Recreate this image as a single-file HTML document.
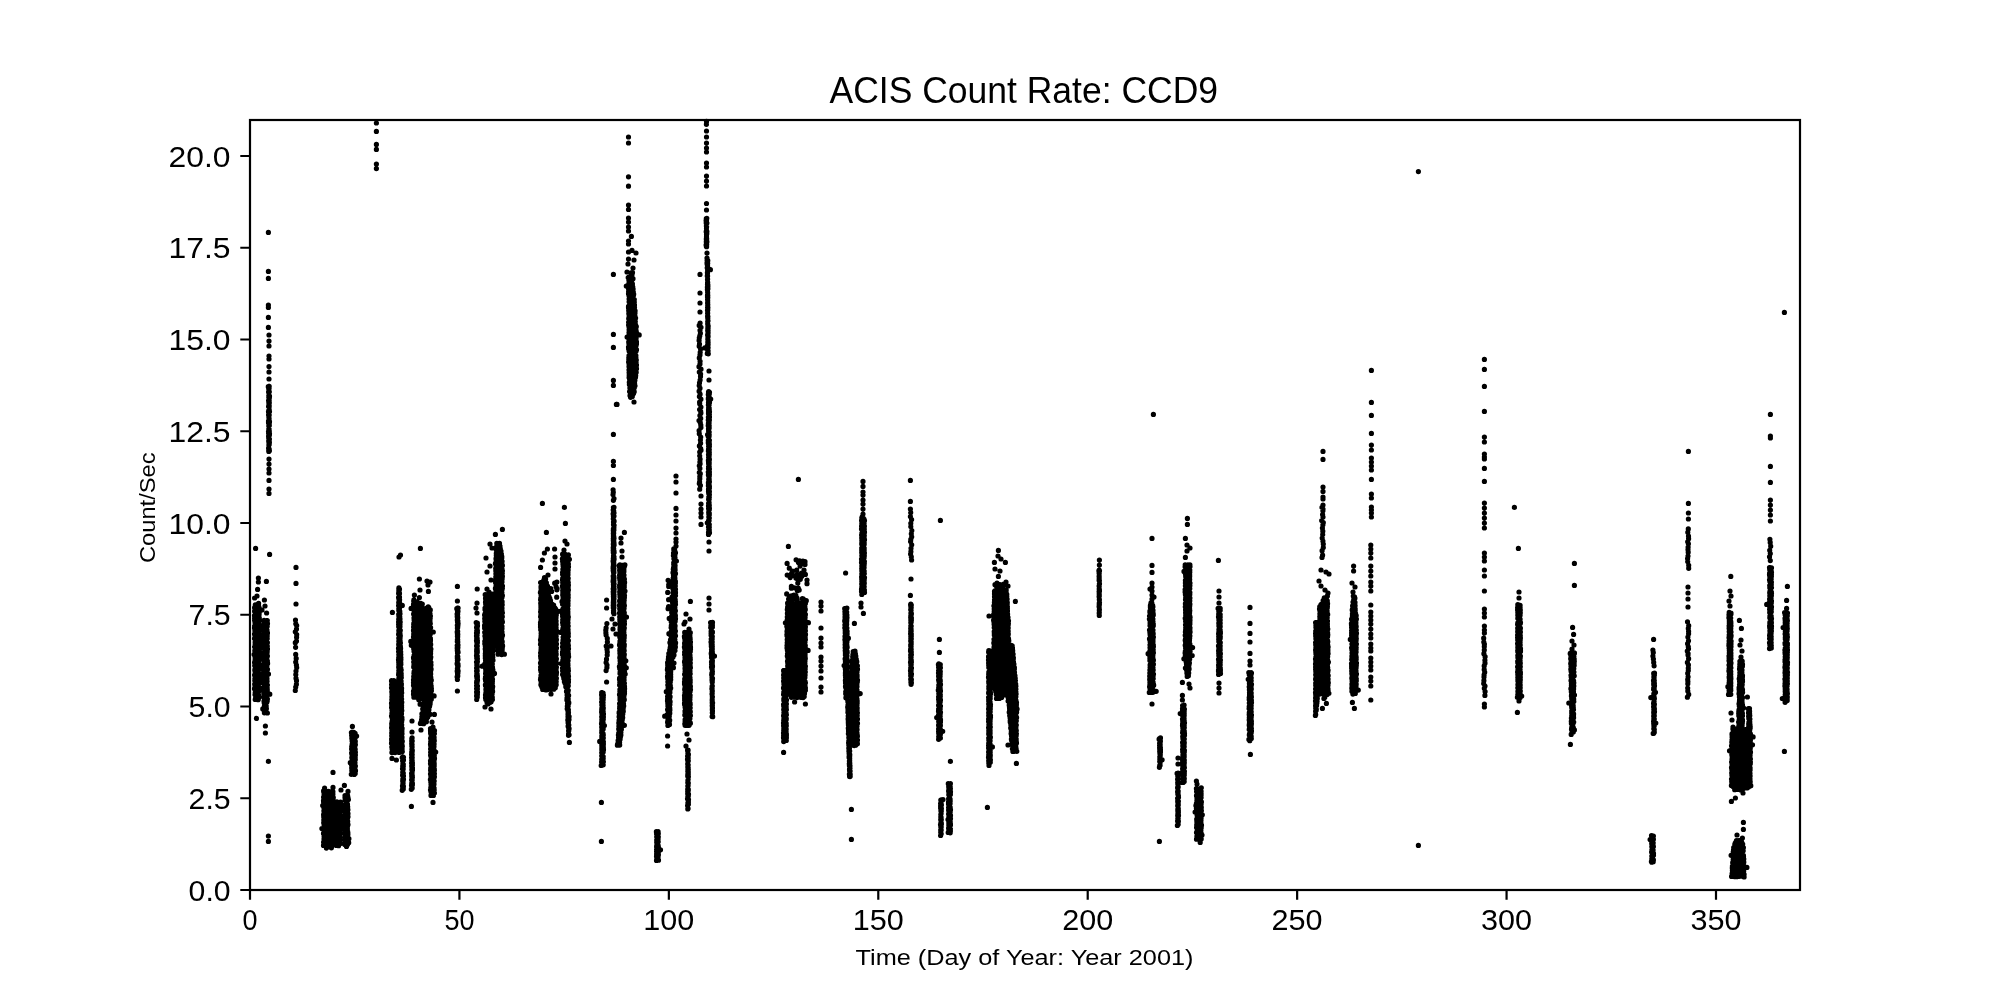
<!DOCTYPE html>
<html><head><meta charset="utf-8"><style>
html,body{margin:0;padding:0;background:#fff;}
svg{display:block;}
text{font-family:"Liberation Sans",sans-serif;fill:#000;}
svg{will-change:transform;}
</style></head><body>
<svg width="2000" height="1000" viewBox="0 0 2000 1000">
<rect width="2000" height="1000" fill="#fff"/>
<g fill="#000">
<path d="M255.3 607.4L254.8 608.1L254.3 612.2L254.3 616.2L254.3 620.3L254.3 624.4L254.3 628.5L254.3 632.6L254.3 636.7L254.3 640.8L254.3 644.8L254.3 648.9L254.3 653.0L254.3 657.1L254.3 661.2L254.3 665.2L254.3 669.3L254.3 673.4L254.3 677.5L254.3 681.6L254.3 685.7L254.3 689.8L254.7 693.8L255.0 697.9L255.3 698.6L258.7 698.6L259.0 697.9L259.3 693.8L259.7 689.8L259.7 685.7L259.7 681.6L259.7 677.5L259.7 673.4L259.7 669.3L259.7 665.2L259.7 661.2L259.7 657.1L259.7 653.0L259.7 648.9L259.7 644.8L259.7 640.8L259.7 636.7L259.7 632.6L259.7 628.5L259.7 624.4L259.7 620.3L259.7 616.2L259.7 612.2L259.2 608.1L258.7 607.4Z M263.3 621.4L263.3 622.0L263.3 626.0L263.3 630.0L263.3 634.0L263.3 638.0L263.3 642.0L263.3 646.0L263.3 650.0L263.3 654.0L263.3 658.0L263.3 662.0L263.3 666.0L263.3 670.0L263.3 674.0L263.3 678.0L263.3 682.0L263.3 686.0L263.3 690.0L263.3 694.0L263.3 698.0L263.5 702.0L263.8 706.0L264.1 710.0L264.3 710.6L265.7 710.6L266.2 710.0L266.8 706.0L267.4 702.0L267.7 698.0L267.7 694.0L267.7 690.0L267.7 686.0L267.7 682.0L267.7 678.0L267.7 674.0L267.7 670.0L267.7 666.0L267.7 662.0L267.7 658.0L267.7 654.0L267.7 650.0L267.7 646.0L267.7 642.0L267.7 638.0L267.7 634.0L267.7 630.0L267.7 626.0L267.7 622.0L267.7 621.4Z M268.3 387.4L268.3 388.1L268.3 392.2L268.3 396.4L268.3 400.5L268.3 404.6L268.3 408.7L268.3 412.8L268.3 416.9L268.3 421.1L268.3 425.2L268.3 429.3L268.3 433.4L268.3 437.5L268.3 441.6L268.3 445.8L268.3 449.9L268.3 450.6L269.7 450.6L269.7 449.9L269.7 445.8L269.7 441.6L269.7 437.5L269.7 433.4L269.7 429.3L269.7 425.2L269.7 421.1L269.7 416.9L269.7 412.8L269.7 408.7L269.7 404.6L269.7 400.5L269.7 396.4L269.7 392.2L269.7 388.1L269.7 387.4Z M323.3 792.4L323.3 793.2L323.3 797.4L323.3 801.6L323.3 805.9L323.3 810.1L323.3 814.3L323.3 818.5L323.3 822.7L323.3 826.9L323.3 831.1L323.3 835.4L323.3 839.6L323.3 843.8L325.3 844.6L331.7 844.6L333.7 843.8L333.7 839.6L333.7 835.4L333.7 831.1L333.7 826.9L333.7 822.7L333.7 818.5L333.7 814.3L333.7 810.1L333.7 805.9L333.7 801.6L333.7 797.4L333.7 793.2L333.7 792.4Z M344.3 796.4L344.3 797.2L344.3 801.3L344.3 805.5L344.3 809.6L344.3 813.8L344.3 817.9L344.3 822.1L344.3 826.2L344.3 830.4L344.3 834.5L344.3 838.7L344.3 842.8L346.3 843.6L346.7 843.6L348.2 842.8L348.2 838.7L348.2 834.5L348.2 830.4L348.2 826.2L348.2 822.1L348.2 817.9L348.2 813.8L348.2 809.6L348.2 805.5L348.2 801.3L348.2 797.2L348.2 796.4Z M336.3 803.4L336.3 804.0L336.3 808.0L336.3 812.0L336.3 816.0L336.3 820.0L336.3 824.0L336.3 828.0L336.3 832.0L336.3 836.0L336.3 840.0L336.3 844.0L336.3 844.6L340.7 844.6L340.7 844.0L340.7 840.0L340.7 836.0L340.7 832.0L340.7 828.0L340.7 824.0L340.7 820.0L340.7 816.0L340.7 812.0L340.7 808.0L340.7 804.0L340.7 803.4Z M351.3 733.4L351.3 734.3L351.3 738.5L351.3 742.8L351.3 747.1L351.3 751.4L351.3 755.6L351.3 759.9L351.3 764.2L351.3 768.5L351.3 772.7L351.3 773.6L355.7 773.6L355.7 772.7L355.7 768.5L355.7 764.2L355.7 759.9L355.7 755.6L355.7 751.4L355.7 747.1L355.7 742.8L355.7 738.5L355.7 734.3L355.7 733.4Z M398.3 589.4L398.3 590.0L398.3 594.0L398.3 598.1L398.3 602.1L398.3 606.1L398.3 610.1L398.3 614.2L398.3 618.2L398.3 622.2L398.3 626.2L398.3 630.3L398.3 634.3L398.3 638.3L398.3 642.3L398.3 646.4L398.3 650.4L398.3 654.4L398.3 658.4L398.3 662.5L398.3 666.5L398.3 670.5L398.3 674.5L398.3 678.5L398.4 682.6L398.4 686.6L398.5 690.6L398.5 694.6L398.6 698.7L398.6 702.7L398.7 706.7L398.7 710.7L398.8 714.8L398.9 718.8L398.9 722.8L399.0 726.8L399.0 730.9L399.1 734.9L399.1 738.9L399.2 742.9L399.2 747.0L399.3 751.0L399.3 751.6L402.7 751.6L402.6 751.0L402.6 747.0L402.5 742.9L402.4 738.9L402.4 734.9L402.3 730.9L402.3 726.8L402.2 722.8L402.2 718.8L402.1 714.8L402.1 710.7L402.0 706.7L402.0 702.7L401.9 698.7L401.9 694.6L401.8 690.6L401.7 686.6L401.7 682.6L401.6 678.5L401.5 674.5L401.4 670.5L401.3 666.5L401.2 662.5L401.1 658.4L401.0 654.4L400.9 650.4L400.8 646.4L400.7 642.3L400.6 638.3L400.6 634.3L400.5 630.3L400.4 626.2L400.3 622.2L400.3 618.2L400.2 614.2L400.1 610.1L400.0 606.1L400.0 602.1L399.9 598.1L399.8 594.0L399.7 590.0L399.7 589.4Z M391.3 681.4L391.3 682.1L391.3 686.1L391.3 690.2L391.3 694.2L391.3 698.3L391.3 702.3L391.3 706.4L391.3 710.4L391.3 714.5L391.3 718.5L391.3 722.6L391.3 726.6L391.3 730.7L391.3 734.7L391.3 738.8L391.3 742.8L391.3 746.9L391.3 750.9L391.3 751.6L395.7 751.6L395.7 750.9L395.7 746.9L395.7 742.8L395.7 738.8L395.7 734.7L395.7 730.7L395.7 726.6L395.7 722.6L395.7 718.5L395.7 714.5L395.7 710.4L395.7 706.4L395.7 702.3L395.6 698.3L395.4 694.2L395.2 690.2L395.0 686.1L394.8 682.1L394.7 681.4Z M402.3 758.4L402.3 759.2L402.3 763.4L402.3 767.7L402.3 771.9L402.3 776.1L402.3 780.3L402.3 784.6L402.3 788.8L402.3 789.6L403.7 789.6L403.7 788.8L403.7 784.6L403.7 780.3L403.7 776.1L403.7 771.9L403.7 767.7L403.7 763.4L403.7 759.2L403.7 758.4Z M411.3 739.4L411.3 740.0L411.3 744.0L411.3 748.0L411.3 752.0L411.3 756.0L411.3 760.0L411.3 764.0L411.3 768.0L411.3 772.0L411.3 776.0L411.3 780.0L411.3 784.0L411.3 788.0L411.3 788.6L412.7 788.6L412.7 788.0L412.7 784.0L412.7 780.0L412.7 776.0L412.7 772.0L412.7 768.0L412.7 764.0L412.7 760.0L412.7 756.0L412.7 752.0L412.7 748.0L412.7 744.0L412.7 740.0L412.7 739.4Z M413.3 605.4L413.3 606.1L413.3 610.2L413.3 614.2L413.3 618.3L413.3 622.4L413.3 626.5L413.3 630.6L413.3 634.7L413.3 638.8L413.3 642.8L413.3 646.9L413.3 651.0L413.3 655.1L413.3 659.2L413.3 663.2L413.3 667.3L413.3 671.4L413.3 675.5L413.3 679.6L413.3 683.7L413.3 687.8L413.3 691.8L413.3 695.9L413.3 696.6L422.7 696.6L422.7 695.9L422.7 691.8L422.7 687.8L422.7 683.7L422.7 679.6L422.7 675.5L422.7 671.4L422.7 667.3L422.7 663.2L422.7 659.2L422.7 655.1L422.7 651.0L422.7 646.9L422.7 642.8L422.7 638.8L422.7 634.7L422.7 630.6L422.7 626.5L422.7 622.4L422.7 618.3L422.7 614.2L422.7 610.2L422.7 606.1L422.7 605.4Z M423.3 611.4L423.3 612.1L423.3 616.1L423.3 620.2L423.3 624.3L423.3 628.3L423.3 632.4L423.3 636.5L423.3 640.6L423.3 644.6L423.3 648.7L423.3 652.8L423.3 656.8L423.3 660.9L423.3 665.0L423.3 669.0L423.3 673.1L423.3 677.2L423.3 681.2L423.3 685.3L423.3 689.4L423.3 693.4L423.3 697.5L423.2 701.6L422.7 705.7L422.2 709.7L421.7 713.8L421.3 717.9L420.8 721.9L420.3 722.6L425.7 722.6L426.6 721.9L427.5 717.9L428.5 713.8L429.4 709.7L430.4 705.7L431.3 701.6L431.6 697.5L431.6 693.4L431.5 689.4L431.5 685.3L431.5 681.2L431.4 677.2L431.4 673.1L431.3 669.0L431.3 665.0L431.2 660.9L431.2 656.8L431.1 652.8L431.1 648.7L431.1 644.6L431.0 640.6L431.0 636.5L430.9 632.4L430.9 628.3L430.8 624.3L430.8 620.2L430.7 616.1L430.7 612.1L430.7 611.4Z M430.3 731.4L430.3 732.1L430.3 736.2L430.3 740.4L430.3 744.5L430.3 748.6L430.3 752.7L430.3 756.8L430.3 760.9L430.3 765.1L430.3 769.2L430.3 773.3L430.3 777.4L430.3 781.5L430.3 785.6L430.3 789.8L430.3 793.9L430.3 794.6L434.7 794.6L434.7 793.9L434.7 789.8L434.7 785.6L434.7 781.5L434.7 777.4L434.7 773.3L434.7 769.2L434.7 765.1L434.7 760.9L434.7 756.8L434.7 752.7L434.7 748.6L434.7 744.5L434.7 740.4L434.7 736.2L434.7 732.1L434.7 731.4Z M456.9 609.4L456.9 610.0L456.9 614.0L456.9 618.0L456.9 622.0L456.9 626.0L456.9 630.0L456.9 634.0L456.9 638.0L456.9 642.0L456.9 646.0L456.9 650.0L456.9 654.0L456.9 658.0L456.9 662.0L456.9 666.0L456.9 670.0L456.9 674.0L456.9 678.0L456.9 678.6L458.3 678.6L458.3 678.0L458.3 674.0L458.3 670.0L458.3 666.0L458.3 662.0L458.3 658.0L458.3 654.0L458.3 650.0L458.3 646.0L458.3 642.0L458.3 638.0L458.3 634.0L458.3 630.0L458.3 626.0L458.3 622.0L458.3 618.0L458.3 614.0L458.3 610.0L458.3 609.4Z M476.3 623.4L476.3 624.1L476.3 628.2L476.3 632.3L476.3 636.4L476.3 640.5L476.3 644.6L476.3 648.7L476.3 652.8L476.3 656.9L476.3 661.0L476.3 665.1L476.3 669.2L476.3 673.3L476.3 677.4L476.3 681.5L476.3 685.6L476.3 689.7L476.3 693.8L476.3 697.9L476.3 698.6L477.7 698.6L477.7 697.9L477.7 693.8L477.7 689.7L477.7 685.6L477.7 681.5L477.7 677.4L477.7 673.3L477.7 669.2L477.7 665.1L477.7 661.0L477.7 656.9L477.7 652.8L477.7 648.7L477.7 644.6L477.7 640.5L477.7 636.4L477.7 632.3L477.7 628.2L477.7 624.1L477.7 623.4Z M496.3 544.4L496.1 545.0L495.9 549.0L495.7 553.0L495.5 557.0L495.3 561.0L495.3 565.0L495.3 569.0L495.3 573.0L495.3 577.0L495.3 581.0L495.3 585.0L495.3 589.0L495.3 593.0L495.3 597.0L495.3 601.0L495.3 605.0L495.3 609.0L495.3 613.0L495.3 617.0L495.3 621.0L495.3 625.0L495.3 629.0L495.3 633.0L495.3 637.0L495.5 641.0L496.2 645.0L496.9 649.0L497.6 653.0L498.3 653.6L502.7 653.6L502.7 653.0L502.7 649.0L502.7 645.0L502.7 641.0L502.7 637.0L502.7 633.0L502.7 629.0L502.7 625.0L502.7 621.0L502.7 617.0L502.7 613.0L502.7 609.0L502.7 605.0L502.7 601.0L502.7 597.0L502.7 593.0L502.7 589.0L502.7 585.0L502.7 581.0L502.7 577.0L502.7 573.0L502.7 569.0L502.7 565.0L502.7 561.0L502.2 557.0L501.6 553.0L500.9 549.0L500.3 545.0L499.7 544.4Z M485.3 595.4L485.2 596.0L485.1 600.1L484.9 604.1L484.8 608.1L484.6 612.2L484.5 616.2L484.3 620.2L484.4 624.3L484.4 628.3L484.5 632.4L484.5 636.4L484.6 640.4L484.6 644.5L484.7 648.5L484.7 652.5L484.8 656.6L484.8 660.6L484.9 664.6L484.9 668.7L485.0 672.7L485.0 676.8L485.1 680.8L485.2 684.8L485.2 688.9L485.3 692.9L485.3 696.9L485.9 701.0L488.3 701.6L489.7 701.6L492.1 701.0L492.7 696.9L492.7 692.9L492.8 688.9L492.8 684.8L492.9 680.8L493.0 676.8L493.0 672.7L493.1 668.7L493.1 664.6L493.2 660.6L493.2 656.6L493.3 652.5L493.3 648.5L493.4 644.5L493.4 640.4L493.5 636.4L493.5 632.4L493.6 628.3L493.6 624.3L493.7 620.2L493.5 616.2L493.4 612.2L493.2 608.1L493.1 604.1L492.9 600.1L492.8 596.0L492.7 595.4Z M540.3 583.4L540.3 584.0L540.3 588.0L540.3 592.0L540.3 596.0L540.3 600.0L540.3 604.0L540.3 608.0L540.3 612.0L540.3 616.0L540.3 620.0L540.3 624.0L540.3 628.0L540.3 632.0L540.3 636.0L540.3 640.0L540.3 644.0L540.3 648.0L540.3 652.0L540.3 656.0L540.3 660.0L540.3 664.0L540.3 668.0L540.3 672.0L540.3 676.0L540.3 680.0L540.3 684.0L541.6 688.0L543.3 688.6L553.7 688.6L555.4 688.0L556.7 684.0L556.7 680.0L556.7 676.0L556.7 672.0L556.7 668.0L556.7 664.0L556.7 660.0L556.7 656.0L556.7 652.0L556.7 648.0L556.7 644.0L556.7 640.0L556.7 636.0L556.7 632.0L556.7 628.0L556.7 624.0L556.7 620.0L556.7 616.0L556.7 612.0L555.5 608.0L553.1 604.0L550.7 600.0L549.9 596.0L549.1 592.0L548.3 588.0L547.5 584.0L546.7 583.4Z M562.3 559.4L562.3 560.0L562.3 564.1L562.3 568.1L562.3 572.2L562.3 576.2L562.3 580.3L562.3 584.3L562.3 588.4L562.3 592.4L562.3 596.4L562.3 600.5L562.3 604.5L562.3 608.6L562.3 612.6L562.3 616.7L562.3 620.7L562.3 624.8L562.3 628.8L562.3 632.8L562.3 636.9L562.3 640.9L562.3 645.0L562.3 649.0L562.3 653.1L562.3 657.1L562.3 661.2L562.3 665.2L562.3 669.2L562.3 673.3L563.0 677.3L564.0 681.4L565.1 685.4L566.2 689.5L566.5 693.5L566.7 697.6L566.8 701.6L567.0 705.6L567.2 709.7L567.3 713.7L567.5 717.8L567.7 721.8L567.8 725.9L568.0 729.9L568.2 734.0L568.3 734.6L569.7 734.6L569.6 734.0L569.5 729.9L569.4 725.9L569.3 721.8L569.2 717.8L569.2 713.7L569.1 709.7L569.0 705.6L568.9 701.6L568.8 697.6L568.7 693.5L568.7 689.5L568.7 685.4L568.7 681.4L568.7 677.3L568.7 673.3L568.7 669.2L568.7 665.2L568.7 661.2L568.7 657.1L568.7 653.1L568.7 649.0L568.7 645.0L568.7 640.9L568.7 636.9L568.7 632.8L568.7 628.8L568.7 624.8L568.7 620.7L568.7 616.7L568.7 612.6L568.7 608.6L568.7 604.5L568.7 600.5L568.7 596.4L568.7 592.4L568.7 588.4L568.7 584.3L568.7 580.3L568.7 576.2L568.7 572.2L568.7 568.1L568.7 564.1L568.7 560.0L568.7 559.4Z M612.9 508.4L612.9 509.1L612.9 513.1L612.9 517.2L612.9 521.3L612.9 525.4L612.9 529.4L612.9 533.5L612.9 537.6L612.9 541.7L612.9 545.7L612.9 549.8L612.9 553.9L612.9 558.0L612.9 562.0L612.9 566.1L612.9 570.2L612.9 574.3L612.9 578.3L612.9 582.4L612.9 586.5L612.9 590.6L612.9 594.6L612.9 598.7L612.9 602.8L612.9 606.9L612.9 610.9L612.9 611.6L614.3 611.6L614.3 610.9L614.3 606.9L614.3 602.8L614.3 598.7L614.3 594.6L614.3 590.6L614.3 586.5L614.3 582.4L614.3 578.3L614.3 574.3L614.3 570.2L614.3 566.1L614.3 562.0L614.3 558.0L614.3 553.9L614.3 549.8L614.3 545.7L614.3 541.7L614.3 537.6L614.3 533.5L614.3 529.4L614.3 525.4L614.3 521.3L614.3 517.2L614.3 513.1L614.3 509.1L614.3 508.4Z M601.3 693.4L601.3 694.1L601.3 698.2L601.3 702.3L601.3 706.4L601.3 710.5L601.3 714.6L601.3 718.7L601.3 722.8L601.3 726.9L601.3 731.1L601.3 735.2L601.3 739.3L601.3 743.4L601.3 747.5L601.3 751.6L601.3 755.7L601.3 759.8L601.3 763.9L601.3 764.6L603.7 764.6L603.7 763.9L603.7 759.8L603.7 755.7L603.7 751.6L603.7 747.5L603.7 743.4L603.7 739.3L603.7 735.2L603.7 731.1L603.7 726.9L603.7 722.8L603.7 718.7L603.7 714.6L603.7 710.5L603.7 706.4L603.7 702.3L603.7 698.2L603.7 694.1L603.7 693.4Z M619.3 566.4L619.3 567.0L619.3 571.0L619.3 575.1L619.3 579.1L619.3 583.1L619.3 587.1L619.3 591.2L619.3 595.2L619.3 599.2L619.3 603.2L619.3 607.2L619.3 611.3L619.3 615.3L619.3 619.3L619.3 623.3L619.3 627.3L619.3 631.4L619.3 635.4L619.3 639.4L619.3 643.4L619.3 647.5L619.3 651.5L619.3 655.5L619.3 659.5L619.3 663.5L619.3 667.6L619.3 671.6L619.3 675.6L619.3 679.6L619.3 683.7L619.3 687.7L619.3 691.7L619.3 695.7L619.3 699.7L619.2 703.8L619.0 707.8L618.8 711.8L618.7 715.8L618.5 719.8L618.3 723.9L618.2 727.9L618.0 731.9L617.8 735.9L617.7 740.0L617.5 744.0L617.3 744.6L619.7 744.6L620.1 744.0L620.5 740.0L620.9 735.9L621.3 731.9L621.8 727.9L622.2 723.9L622.6 719.8L623.0 715.8L623.4 711.8L623.8 707.8L624.3 703.8L624.7 699.7L624.7 695.7L624.7 691.7L624.7 687.7L624.7 683.7L624.7 679.6L624.7 675.6L624.7 671.6L624.7 667.6L624.7 663.5L624.7 659.5L624.7 655.5L624.7 651.5L624.7 647.5L624.7 643.4L624.7 639.4L624.7 635.4L624.7 631.4L624.7 627.3L624.7 623.3L624.7 619.3L624.7 615.3L624.7 611.3L624.7 607.2L624.7 603.2L624.7 599.2L624.7 595.2L624.7 591.2L624.7 587.1L624.7 583.1L624.7 579.1L624.7 575.1L624.7 571.0L624.7 567.0L624.7 566.4Z M628.3 278.4L628.3 279.0L628.3 283.1L628.3 287.1L628.3 291.1L628.3 295.2L628.3 299.2L628.3 303.2L628.3 307.3L628.3 311.3L628.3 315.3L628.3 319.4L628.3 323.4L628.3 327.4L628.3 331.5L628.3 335.5L628.3 339.5L628.3 343.5L628.3 347.6L628.3 351.6L628.3 355.6L628.3 359.7L628.3 363.7L628.3 367.7L628.4 371.8L628.6 375.8L628.8 379.8L629.0 383.9L629.2 387.9L629.5 391.9L629.9 396.0L630.3 396.6L631.7 396.6L632.9 396.0L634.1 391.9L634.9 387.9L635.3 383.9L635.7 379.8L636.1 375.8L636.5 371.8L636.7 367.7L636.7 363.7L636.7 359.7L636.7 355.6L636.7 351.6L636.7 347.6L636.7 343.5L636.7 339.5L636.7 335.5L636.7 331.5L636.5 327.4L636.2 323.4L636.0 319.4L635.7 315.3L635.4 311.3L635.1 307.3L634.9 303.2L634.6 299.2L634.1 295.2L633.6 291.1L633.1 287.1L632.6 283.1L632.1 279.0L631.7 278.4Z M656.3 832.4L656.3 833.2L656.3 837.5L656.3 841.8L656.3 846.0L656.3 850.2L656.3 854.5L656.3 858.8L656.3 859.6L658.7 859.6L658.7 858.8L658.7 854.5L658.7 850.2L658.7 846.0L658.7 841.8L658.7 837.5L658.7 833.2L658.7 832.4Z M673.3 553.4L673.3 554.0L673.2 558.1L673.1 562.1L673.0 566.2L672.9 570.2L672.9 574.3L672.8 578.3L672.7 582.4L672.6 586.4L672.5 590.5L672.5 594.5L672.4 598.5L672.2 602.6L671.9 606.6L671.7 610.7L671.5 614.7L671.2 618.8L671.0 622.8L670.7 626.9L670.5 630.9L670.2 635.0L670.0 639.0L669.8 643.0L669.5 647.1L669.1 651.1L668.3 655.2L667.5 659.2L667.3 663.3L667.3 667.3L667.3 671.4L667.3 675.4L667.3 679.5L667.3 683.5L667.3 687.5L667.3 691.6L667.3 695.6L667.3 699.7L667.3 703.7L667.3 707.8L667.3 711.8L667.3 715.9L667.3 719.9L667.3 724.0L667.3 724.6L669.7 724.6L669.8 724.0L669.9 719.9L670.0 715.9L670.1 711.8L670.3 707.8L670.4 703.7L670.5 699.7L670.6 695.6L670.7 691.6L670.8 687.5L671.0 683.5L671.1 679.5L671.2 675.4L671.3 671.4L671.4 667.3L671.6 663.3L672.0 659.2L673.6 655.2L675.2 651.1L675.7 647.1L675.7 643.0L675.7 639.0L675.7 635.0L675.7 630.9L675.7 626.9L675.7 622.8L675.7 618.8L675.7 614.7L675.7 610.7L675.7 606.6L675.7 602.6L675.7 598.5L675.7 594.5L675.7 590.5L675.7 586.4L675.7 582.4L675.7 578.3L675.7 574.3L675.7 570.2L675.7 566.2L675.7 562.1L675.7 558.1L675.7 554.0L675.7 553.4Z M684.3 633.4L684.3 634.1L684.3 638.2L684.3 642.2L684.3 646.3L684.3 650.4L684.3 654.5L684.3 658.6L684.3 662.7L684.3 666.8L684.3 670.8L684.3 674.9L684.3 679.0L684.3 683.1L684.3 687.2L684.3 691.2L684.3 695.3L684.3 699.4L684.3 703.5L684.3 707.6L684.3 711.7L684.3 715.8L684.3 719.8L684.3 723.9L684.3 724.6L690.7 724.6L690.7 723.9L690.7 719.8L690.7 715.8L690.7 711.7L690.7 707.6L690.7 703.5L690.7 699.4L690.7 695.3L690.7 691.2L690.7 687.2L690.7 683.1L690.7 679.0L690.7 674.9L690.7 670.8L690.7 666.8L690.7 662.7L690.7 658.6L690.7 654.5L690.7 650.4L690.7 646.3L690.7 642.2L690.7 638.2L690.7 634.1L690.7 633.4Z M687.3 751.4L687.3 752.2L687.3 756.4L687.3 760.6L687.3 764.8L687.3 769.0L687.3 773.2L687.3 777.4L687.3 781.6L687.3 785.8L687.3 790.0L687.3 794.2L687.3 798.4L687.3 802.6L687.3 806.8L687.3 807.6L688.7 807.6L688.7 806.8L688.7 802.6L688.7 798.4L688.7 794.2L688.7 790.0L688.7 785.8L688.7 781.6L688.7 777.4L688.7 773.2L688.7 769.0L688.7 764.8L688.7 760.6L688.7 756.4L688.7 752.2L688.7 751.4Z M706.3 219.4L706.3 220.2L706.3 224.5L706.3 228.8L706.3 233.0L706.3 237.2L706.3 241.5L706.3 245.8L706.3 246.6L706.7 246.6L706.7 245.8L706.7 241.5L706.7 237.2L706.7 233.0L706.7 228.8L706.7 224.5L706.7 220.2L706.7 219.4Z M707.3 261.4L707.3 262.1L707.3 266.2L707.3 270.2L707.3 274.3L707.3 278.4L707.3 282.5L707.3 286.6L707.3 290.7L707.3 294.8L707.3 298.8L707.3 302.9L707.3 307.0L707.3 311.1L707.3 315.2L707.3 319.2L707.3 323.3L707.3 327.4L707.3 331.5L707.3 335.6L707.3 339.7L707.3 343.8L707.3 347.8L707.3 351.9L707.3 352.6L708.7 352.6L708.6 351.9L708.6 347.8L708.5 343.8L708.5 339.7L708.5 335.6L708.4 331.5L708.4 327.4L708.3 323.3L708.3 319.2L708.2 315.2L708.2 311.1L708.2 307.0L708.1 302.9L708.1 298.8L708.0 294.8L708.0 290.7L708.0 286.6L707.9 282.5L707.9 278.4L707.8 274.3L707.8 270.2L707.7 266.2L707.7 262.1L707.7 261.4Z M707.9 392.4L708.0 393.0L708.0 397.0L708.0 401.0L708.0 405.0L708.0 409.0L708.0 413.0L708.0 417.0L708.0 421.0L708.0 425.0L708.0 429.0L708.1 433.0L708.1 437.0L708.1 441.0L708.1 445.0L708.1 449.0L708.1 453.0L708.1 457.0L708.1 461.0L708.1 465.0L708.2 469.0L708.2 473.0L708.2 477.0L708.2 481.0L708.2 485.0L708.2 489.0L708.2 493.0L708.2 497.0L708.2 501.0L708.3 505.0L708.3 509.0L708.3 513.0L708.3 517.0L708.3 521.0L708.3 525.0L708.3 529.0L708.3 533.0L708.3 533.6L709.7 533.6L709.7 533.0L709.7 529.0L709.7 525.0L709.7 521.0L709.7 517.0L709.7 513.0L709.7 509.0L709.7 505.0L709.7 501.0L709.7 497.0L709.7 493.0L709.7 489.0L709.7 485.0L709.7 481.0L709.7 477.0L709.7 473.0L709.7 469.0L709.7 465.0L709.7 461.0L709.7 457.0L709.7 453.0L709.7 449.0L709.7 445.0L709.7 441.0L709.7 437.0L709.7 433.0L709.7 429.0L709.7 425.0L709.7 421.0L709.7 417.0L709.7 413.0L709.7 409.0L709.7 405.0L709.7 401.0L709.7 397.0L709.7 393.0L709.7 392.4Z M710.3 623.4L710.4 624.0L710.5 628.0L710.6 632.0L710.7 636.0L710.7 640.0L710.8 644.0L710.9 648.0L711.0 652.0L711.1 656.0L711.1 660.0L711.2 664.0L711.3 668.0L711.4 672.0L711.5 676.0L711.5 680.0L711.6 684.0L711.7 688.0L711.8 692.0L711.9 696.0L711.9 700.0L712.0 704.0L712.1 708.0L712.2 712.0L712.3 716.0L712.3 716.6L712.7 716.6L712.7 716.0L712.7 712.0L712.7 708.0L712.7 704.0L712.7 700.0L712.7 696.0L712.7 692.0L712.7 688.0L712.7 684.0L712.7 680.0L712.7 676.0L712.7 672.0L712.7 668.0L712.7 664.0L712.7 660.0L712.7 656.0L712.7 652.0L712.7 648.0L712.7 644.0L712.7 640.0L712.7 636.0L712.7 632.0L712.7 628.0L712.7 624.0L712.7 623.4Z M787.3 604.4L787.2 605.1L787.1 609.2L787.0 613.4L786.9 617.5L786.8 621.6L786.7 625.8L786.6 629.9L786.5 634.0L786.4 638.1L786.4 642.2L786.6 646.4L786.8 650.5L786.9 654.6L787.1 658.8L787.2 662.9L787.4 667.0L787.6 671.1L787.7 675.2L787.9 679.4L788.0 683.5L788.2 687.6L788.7 691.8L790.5 695.9L792.3 696.6L803.7 696.6L804.6 695.9L805.5 691.8L805.7 687.6L805.7 683.5L805.7 679.4L805.7 675.2L805.7 671.1L805.7 667.0L805.7 662.9L805.7 658.8L805.7 654.6L805.7 650.5L805.7 646.4L805.7 642.2L805.7 638.1L805.7 634.0L805.7 629.9L805.7 625.8L805.7 621.6L805.7 617.5L805.7 613.4L805.7 609.2L805.7 605.1L805.7 604.4Z M783.3 671.4L783.3 672.0L783.3 676.0L783.3 680.0L783.3 684.0L783.3 688.0L783.3 692.0L783.3 696.0L783.3 700.0L783.3 704.0L783.3 708.0L783.3 712.0L783.3 716.0L783.3 720.0L783.3 724.0L783.3 728.0L783.3 732.0L783.3 736.0L783.3 740.0L783.3 740.6L786.7 740.6L786.7 740.0L786.7 736.0L786.7 732.0L786.7 728.0L786.7 724.0L786.7 720.0L786.7 716.0L786.7 712.0L786.7 708.0L786.7 704.0L786.7 700.0L786.7 696.0L786.7 692.0L786.7 688.0L786.7 684.0L786.7 680.0L786.7 676.0L786.7 672.0L786.7 671.4Z M844.3 609.4L844.4 610.0L844.4 614.0L844.5 618.1L844.5 622.1L844.6 626.1L844.6 630.1L844.6 634.2L844.7 638.2L844.7 642.2L844.8 646.2L844.8 650.3L844.9 654.3L844.9 658.3L845.0 662.3L845.0 666.3L845.0 670.4L845.1 674.4L845.1 678.4L845.2 682.4L845.2 686.5L845.3 690.5L845.3 694.5L846.4 698.5L847.4 702.6L847.5 706.6L847.6 710.6L847.7 714.6L847.8 718.7L847.9 722.7L848.0 726.7L848.1 730.7L848.2 734.7L848.3 738.8L848.4 742.8L848.5 746.8L848.6 750.8L848.7 754.9L848.8 758.9L848.9 762.9L849.0 766.9L849.1 771.0L849.2 775.0L849.3 775.6L850.7 775.6L850.6 775.0L850.5 771.0L850.4 766.9L850.3 762.9L850.2 758.9L850.0 754.9L849.9 750.8L849.8 746.8L849.7 742.8L849.6 738.8L849.5 734.7L849.4 730.7L849.3 726.7L849.2 722.7L849.1 718.7L849.0 714.6L848.9 710.6L848.8 706.6L848.7 702.6L848.2 698.5L847.6 694.5L847.6 690.5L847.6 686.5L847.6 682.4L847.6 678.4L847.5 674.4L847.5 670.4L847.5 666.3L847.5 662.3L847.4 658.3L847.4 654.3L847.4 650.3L847.4 646.2L847.4 642.2L847.3 638.2L847.3 634.2L847.3 630.1L847.3 626.1L847.2 622.1L847.2 618.1L847.2 614.0L847.2 610.0L847.2 609.4Z M853.3 652.4L852.8 653.1L852.3 657.2L851.8 661.4L851.3 665.5L851.3 669.6L851.3 673.8L851.3 677.9L851.3 682.0L851.3 686.1L851.3 690.2L851.3 694.4L851.3 698.5L851.3 702.6L851.3 706.8L851.3 710.9L851.3 715.0L851.3 719.1L851.3 723.2L851.3 727.4L851.3 731.5L851.3 735.6L851.3 739.8L851.3 743.9L851.3 744.6L857.7 744.6L857.7 743.9L857.7 739.8L857.7 735.6L857.7 731.5L857.7 727.4L857.7 723.2L857.7 719.1L857.7 715.0L857.7 710.9L857.7 706.8L857.7 702.6L857.7 698.5L857.7 694.4L857.7 690.2L857.7 686.1L857.7 682.0L857.7 677.9L857.7 673.8L857.7 669.6L857.7 665.5L857.0 661.4L856.2 657.2L855.4 653.1L854.7 652.4Z M861.3 521.4L861.3 522.2L861.3 526.3L861.3 530.5L861.3 534.6L861.3 538.8L861.3 542.9L861.3 547.1L861.3 551.3L861.3 555.4L861.3 559.6L861.3 563.7L861.3 567.9L861.3 572.1L861.3 576.2L861.3 580.4L861.3 584.5L861.3 588.7L861.3 592.8L861.3 593.6L864.7 593.6L864.7 592.8L864.7 588.7L864.7 584.5L864.7 580.4L864.7 576.2L864.7 572.1L864.7 567.9L864.7 563.7L864.7 559.6L864.7 555.4L864.7 551.3L864.7 547.1L864.7 542.9L864.7 538.8L864.7 534.6L864.7 530.5L864.7 526.3L864.7 522.2L864.7 521.4Z M910.3 605.4L910.3 606.0L910.3 610.1L910.3 614.1L910.3 618.2L910.3 622.2L910.3 626.3L910.3 630.3L910.3 634.4L910.3 638.4L910.3 642.5L910.3 646.5L910.3 650.6L910.3 654.6L910.3 658.7L910.3 662.7L910.3 666.8L910.3 670.8L910.3 674.9L910.3 678.9L910.3 683.0L910.3 683.6L911.7 683.6L911.7 683.0L911.7 678.9L911.7 674.9L911.7 670.8L911.7 666.8L911.7 662.7L911.7 658.7L911.7 654.6L911.7 650.6L911.7 646.5L911.7 642.5L911.7 638.4L911.7 634.4L911.7 630.3L911.7 626.3L911.7 622.2L911.7 618.2L911.7 614.1L911.7 610.1L911.7 606.0L911.7 605.4Z M938.3 665.4L938.3 666.0L938.3 670.0L938.3 674.0L938.3 678.0L938.3 682.0L938.3 686.0L938.3 690.0L938.3 694.0L938.3 698.0L938.3 702.0L938.3 706.0L938.3 710.0L938.3 714.0L938.3 718.0L938.3 722.0L938.3 726.0L938.3 730.0L938.3 734.0L938.3 738.0L938.3 738.6L940.7 738.6L940.7 738.0L940.7 734.0L940.7 730.0L940.7 726.0L940.7 722.0L940.7 718.0L940.7 714.0L940.7 710.0L940.7 706.0L940.7 702.0L940.7 698.0L940.7 694.0L940.7 690.0L940.7 686.0L940.7 682.0L940.7 678.0L940.7 674.0L940.7 670.0L940.7 666.0L940.7 665.4Z M940.3 801.4L940.3 802.0L940.3 806.0L940.3 810.0L940.3 814.0L940.3 818.0L940.3 822.0L940.3 826.0L940.3 830.0L940.3 834.0L940.3 834.6L941.7 834.6L941.7 834.0L941.7 830.0L941.7 826.0L941.7 822.0L941.7 818.0L941.7 814.0L941.7 810.0L941.7 806.0L941.7 802.0L941.7 801.4Z M948.3 784.4L948.3 785.2L948.3 789.3L948.3 793.5L948.3 797.6L948.3 801.8L948.3 805.9L948.3 810.1L948.3 814.2L948.3 818.4L948.3 822.5L948.3 826.7L948.3 830.8L948.3 831.6L950.7 831.6L950.7 830.8L950.7 826.7L950.7 822.5L950.7 818.4L950.7 814.2L950.7 810.1L950.7 805.9L950.7 801.8L950.7 797.6L950.7 793.5L950.7 789.3L950.7 785.2L950.7 784.4Z M988.3 651.4L988.3 652.0L988.3 656.0L988.3 660.0L988.3 664.0L988.3 668.0L988.3 672.0L988.3 676.0L988.3 680.0L988.3 684.0L988.3 688.0L988.3 692.0L988.3 696.0L988.3 700.0L988.3 704.0L988.3 708.0L988.3 712.0L988.3 716.0L988.3 720.0L988.3 724.0L988.3 728.0L988.3 732.0L988.3 736.0L988.3 740.0L988.3 744.0L988.3 748.0L988.3 752.0L988.3 756.0L988.3 760.0L988.3 764.0L988.3 764.6L990.7 764.6L990.7 764.0L990.7 760.0L990.7 756.0L990.7 752.0L990.7 748.0L990.7 744.0L990.7 740.0L990.7 736.0L990.7 732.0L990.7 728.0L990.7 724.0L990.7 720.0L990.7 716.0L990.7 712.0L990.7 708.0L990.7 704.0L990.7 700.0L990.7 696.0L990.7 692.0L990.7 688.0L990.7 684.0L990.7 680.0L990.7 676.0L990.7 672.0L990.7 668.0L990.7 664.0L990.7 660.0L990.7 656.0L990.7 652.0L990.7 651.4Z M994.3 591.4L994.2 592.0L994.1 596.1L994.0 600.1L993.8 604.1L993.7 608.2L993.6 612.2L993.5 616.2L993.3 620.3L993.4 624.3L993.5 628.4L993.5 632.4L993.6 636.4L993.6 640.5L993.7 644.5L993.8 648.5L993.8 652.6L993.9 656.6L993.9 660.6L994.0 664.7L994.0 668.7L994.1 672.8L994.2 676.8L994.2 680.8L994.3 684.9L994.3 688.9L995.3 692.9L996.3 697.0L997.3 697.6L998.7 697.6L1002.4 697.0L1006.1 692.9L1009.7 688.9L1009.6 684.9L1009.5 680.8L1009.5 676.8L1009.4 672.8L1009.4 668.7L1009.3 664.7L1009.2 660.6L1009.2 656.6L1009.1 652.6L1009.1 648.5L1009.0 644.5L1009.0 640.5L1008.9 636.4L1008.8 632.4L1008.8 628.4L1008.7 624.3L1008.7 620.3L1008.4 616.2L1008.2 612.2L1007.9 608.2L1007.7 604.1L1007.4 600.1L1007.2 596.1L1006.9 592.0L1006.7 591.4Z M1007.3 646.4L1007.3 647.1L1007.3 651.2L1007.3 655.3L1007.3 659.4L1007.3 663.6L1007.3 667.7L1007.3 671.8L1007.3 675.9L1007.3 680.0L1007.3 684.1L1007.3 688.2L1007.5 692.3L1007.8 696.4L1008.2 700.6L1008.5 704.7L1008.8 708.8L1009.1 712.9L1009.4 717.0L1009.8 721.1L1010.1 725.2L1010.4 729.3L1010.7 733.4L1011.1 737.6L1011.4 741.7L1011.7 745.8L1012.0 749.9L1012.3 750.6L1016.7 750.6L1016.7 749.9L1016.7 745.8L1016.7 741.7L1016.7 737.6L1016.7 733.4L1016.7 729.3L1016.7 725.2L1016.7 721.1L1016.7 717.0L1016.7 712.9L1016.7 708.8L1016.7 704.7L1016.7 700.6L1016.7 696.4L1016.7 692.3L1016.5 688.2L1016.2 684.1L1015.8 680.0L1015.5 675.9L1015.1 671.8L1014.8 667.7L1014.4 663.6L1014.1 659.4L1013.7 655.3L1013.4 651.2L1013.0 647.1L1012.7 646.4Z M1098.9 571.4L1098.9 572.2L1098.9 576.3L1098.9 580.5L1098.9 584.7L1098.9 588.8L1098.9 593.0L1098.9 597.2L1098.9 601.3L1098.9 605.5L1098.9 609.7L1098.9 613.8L1098.9 614.6L1099.7 614.6L1099.7 613.8L1099.7 609.7L1099.7 605.5L1099.7 601.3L1099.7 597.2L1099.7 593.0L1099.7 588.8L1099.7 584.7L1099.7 580.5L1099.7 576.3L1099.7 572.2L1099.7 571.4Z M1150.3 606.4L1150.0 607.0L1149.7 611.0L1149.3 615.0L1149.3 619.0L1149.3 623.0L1149.3 627.0L1149.3 631.0L1149.3 635.0L1149.3 639.0L1149.3 643.0L1149.3 647.0L1149.3 651.0L1149.3 655.0L1149.3 659.0L1149.3 663.0L1149.3 667.0L1149.3 671.0L1149.3 675.0L1149.3 679.0L1149.3 683.0L1149.3 687.0L1149.3 691.0L1149.3 691.6L1153.7 691.6L1153.7 691.0L1153.7 687.0L1153.7 683.0L1153.7 679.0L1153.7 675.0L1153.7 671.0L1153.7 667.0L1153.7 663.0L1153.7 659.0L1153.7 655.0L1153.7 651.0L1153.7 647.0L1153.7 643.0L1153.7 639.0L1153.7 635.0L1153.7 631.0L1153.7 627.0L1153.7 623.0L1153.7 619.0L1153.7 615.0L1153.3 611.0L1153.0 607.0L1152.7 606.4Z M1159.3 739.4L1159.3 740.2L1159.3 744.5L1159.3 748.8L1159.3 753.0L1159.3 757.2L1159.3 761.5L1159.3 765.8L1159.3 766.6L1160.7 766.6L1160.7 765.8L1160.7 761.5L1160.7 757.2L1160.7 753.0L1160.7 748.8L1160.7 744.5L1160.7 740.2L1160.7 739.4Z M1184.9 565.4L1184.9 566.0L1184.9 570.1L1184.9 574.1L1184.9 578.1L1184.9 582.2L1184.9 586.2L1184.9 590.2L1184.9 594.3L1184.9 598.3L1184.9 602.3L1184.9 606.4L1184.9 610.4L1184.9 614.4L1184.9 618.5L1184.9 622.5L1184.9 626.6L1184.9 630.6L1184.9 634.6L1184.9 638.7L1184.9 642.7L1184.9 646.7L1184.9 650.8L1184.9 654.8L1185.3 658.8L1185.7 662.9L1186.1 666.9L1186.5 670.9L1186.9 675.0L1187.3 675.6L1188.7 675.6L1188.9 675.0L1189.2 670.9L1189.5 666.9L1189.7 662.9L1190.0 658.8L1190.3 654.8L1190.3 650.8L1190.3 646.7L1190.3 642.7L1190.3 638.7L1190.3 634.6L1190.3 630.6L1190.3 626.6L1190.3 622.5L1190.3 618.5L1190.3 614.4L1190.3 610.4L1190.3 606.4L1190.3 602.3L1190.3 598.3L1190.3 594.3L1190.3 590.2L1190.3 586.2L1190.3 582.2L1190.3 578.1L1190.3 574.1L1190.3 570.1L1190.3 566.0L1190.3 565.4Z M1182.3 706.4L1182.3 707.1L1182.3 711.2L1182.3 715.3L1182.3 719.4L1182.3 723.5L1182.3 727.6L1182.3 731.7L1182.3 735.8L1182.3 739.9L1182.3 744.0L1182.3 748.1L1182.3 752.2L1182.3 756.3L1182.3 760.4L1182.3 764.5L1182.3 768.6L1182.3 772.7L1182.3 776.8L1182.3 780.9L1182.3 781.6L1184.7 781.6L1184.7 780.9L1184.7 776.8L1184.7 772.7L1184.7 768.6L1184.7 764.5L1184.7 760.4L1184.7 756.3L1184.7 752.2L1184.7 748.1L1184.7 744.0L1184.7 739.9L1184.7 735.8L1184.7 731.7L1184.7 727.6L1184.7 723.5L1184.7 719.4L1184.7 715.3L1184.7 711.2L1184.7 707.1L1184.7 706.4Z M1177.3 774.4L1177.3 775.1L1177.3 779.1L1177.3 783.2L1177.3 787.3L1177.3 791.4L1177.3 795.4L1177.3 799.5L1177.3 803.6L1177.3 807.6L1177.3 811.7L1177.3 815.8L1177.3 819.9L1177.3 823.9L1177.3 824.6L1178.7 824.6L1178.7 823.9L1178.7 819.9L1178.7 815.8L1178.7 811.7L1178.7 807.6L1178.7 803.6L1178.7 799.5L1178.7 795.4L1178.7 791.4L1178.7 787.3L1178.7 783.2L1178.7 779.1L1178.7 775.1L1178.7 774.4Z M1196.3 789.4L1196.3 790.0L1196.3 794.0L1196.3 798.0L1196.3 802.0L1196.3 806.0L1196.3 810.0L1196.3 814.0L1196.3 818.0L1196.3 822.0L1196.3 826.0L1196.3 830.0L1196.3 834.0L1196.3 838.0L1196.3 838.6L1201.7 838.6L1201.7 838.0L1201.7 834.0L1201.7 830.0L1201.7 826.0L1201.7 822.0L1201.7 818.0L1201.7 814.0L1201.7 810.0L1201.7 806.0L1201.7 802.0L1201.7 798.0L1201.7 794.0L1201.7 790.0L1201.7 789.4Z M1218.3 609.4L1218.3 610.2L1218.3 614.4L1218.3 618.5L1218.3 622.7L1218.3 626.9L1218.3 631.1L1218.3 635.2L1218.3 639.4L1218.3 643.6L1218.3 647.8L1218.3 651.9L1218.3 656.1L1218.3 660.3L1218.3 664.5L1218.3 668.6L1218.3 672.8L1218.3 673.6L1220.7 673.6L1220.7 672.8L1220.7 668.6L1220.7 664.5L1220.7 660.3L1220.7 656.1L1220.7 651.9L1220.7 647.8L1220.7 643.6L1220.7 639.4L1220.7 635.2L1220.7 631.1L1220.7 626.9L1220.7 622.7L1220.7 618.5L1220.7 614.4L1220.7 610.2L1220.7 609.4Z M1248.9 673.4L1248.9 674.0L1248.9 678.0L1248.9 682.0L1248.9 686.0L1248.9 690.0L1248.9 694.0L1248.9 698.0L1248.9 702.0L1248.9 706.0L1248.9 710.0L1248.9 714.0L1248.9 718.0L1248.9 722.0L1248.9 726.0L1248.9 730.0L1248.9 734.0L1248.9 738.0L1248.9 738.6L1251.7 738.6L1251.7 738.0L1251.7 734.0L1251.7 730.0L1251.7 726.0L1251.7 722.0L1251.7 718.0L1251.7 714.0L1251.7 710.0L1251.7 706.0L1251.7 702.0L1251.7 698.0L1251.7 694.0L1251.7 690.0L1251.7 686.0L1251.7 682.0L1251.7 678.0L1251.7 674.0L1251.7 673.4Z M1323.3 601.4L1323.3 602.1L1323.3 606.2L1323.3 610.2L1323.3 614.3L1323.3 618.4L1323.3 622.5L1323.3 626.6L1323.3 630.6L1323.3 634.7L1323.3 638.8L1323.3 642.9L1323.3 647.0L1323.3 651.0L1323.3 655.1L1323.3 659.2L1323.3 663.3L1323.3 667.4L1323.3 671.4L1323.3 675.5L1323.3 679.6L1323.3 683.7L1323.3 687.8L1323.5 691.8L1323.9 695.9L1324.3 696.6L1325.7 696.6L1326.9 695.9L1328.1 691.8L1328.6 687.8L1328.6 683.7L1328.5 679.6L1328.5 675.5L1328.5 671.4L1328.4 667.4L1328.4 663.3L1328.3 659.2L1328.3 655.1L1328.2 651.0L1328.2 647.0L1328.1 642.9L1328.1 638.8L1328.1 634.7L1328.0 630.6L1328.0 626.6L1327.9 622.5L1327.9 618.4L1327.8 614.3L1327.8 610.2L1327.7 606.2L1327.7 602.1L1327.7 601.4Z M1319.3 607.4L1319.3 608.1L1319.3 612.2L1319.3 616.3L1319.3 620.4L1319.3 624.5L1319.3 628.6L1319.3 632.7L1319.3 636.8L1319.3 640.9L1319.3 645.0L1319.3 649.0L1319.3 653.1L1319.3 657.2L1319.3 661.3L1319.3 665.4L1319.3 669.5L1319.3 673.6L1319.3 677.7L1319.3 681.8L1319.3 685.9L1319.3 686.6L1320.7 686.6L1320.7 685.9L1320.7 681.8L1320.7 677.7L1320.7 673.6L1320.7 669.5L1320.7 665.4L1320.7 661.3L1320.7 657.2L1320.7 653.1L1320.7 649.0L1320.7 645.0L1320.7 640.9L1320.7 636.8L1320.7 632.7L1320.7 628.6L1320.7 624.5L1320.7 620.4L1320.7 616.3L1320.7 612.2L1320.7 608.1L1320.7 607.4Z M1315.3 623.4L1315.3 624.1L1315.3 628.2L1315.3 632.2L1315.3 636.3L1315.3 640.4L1315.3 644.5L1315.3 648.6L1315.3 652.7L1315.3 656.8L1315.3 660.8L1315.3 664.9L1315.3 669.0L1315.3 673.1L1315.3 677.2L1315.3 681.2L1315.3 685.3L1315.3 689.4L1315.3 693.5L1315.3 697.6L1315.3 701.7L1315.3 705.8L1315.3 709.8L1315.3 713.9L1315.3 714.6L1315.7 714.6L1316.1 713.9L1316.6 709.8L1317.0 705.8L1317.5 701.7L1317.7 697.6L1317.7 693.5L1317.7 689.4L1317.7 685.3L1317.7 681.2L1317.7 677.2L1317.7 673.1L1317.7 669.0L1317.7 664.9L1317.7 660.8L1317.7 656.8L1317.7 652.7L1317.7 648.6L1317.7 644.5L1317.7 640.4L1317.7 636.3L1317.7 632.2L1317.7 628.2L1317.7 624.1L1317.7 623.4Z M1353.3 597.4L1353.0 598.1L1352.7 602.2L1352.4 606.4L1352.1 610.5L1351.8 614.6L1351.4 618.7L1351.3 622.8L1351.3 627.0L1351.3 631.1L1351.3 635.2L1351.3 639.3L1351.3 643.4L1351.3 647.6L1351.3 651.7L1351.3 655.8L1351.3 659.9L1351.3 664.0L1351.3 668.2L1351.3 672.3L1351.3 676.4L1351.3 680.5L1351.3 684.6L1351.3 688.8L1352.2 692.9L1353.3 693.6L1354.7 693.6L1355.8 692.9L1356.7 688.8L1356.7 684.6L1356.7 680.5L1356.7 676.4L1356.7 672.3L1356.7 668.2L1356.7 664.0L1356.7 659.9L1356.7 655.8L1356.7 651.7L1356.7 647.6L1356.7 643.4L1356.7 639.3L1356.7 635.2L1356.7 631.1L1356.7 627.0L1356.7 622.8L1356.6 618.7L1356.2 614.6L1355.9 610.5L1355.6 606.4L1355.3 602.2L1355.0 598.1L1354.7 597.4Z M1517.3 605.4L1517.3 606.1L1517.3 610.2L1517.3 614.2L1517.3 618.3L1517.3 622.4L1517.3 626.5L1517.3 630.6L1517.3 634.7L1517.3 638.8L1517.3 642.8L1517.3 646.9L1517.3 651.0L1517.3 655.1L1517.3 659.2L1517.3 663.2L1517.3 667.3L1517.3 671.4L1517.3 675.5L1517.3 679.6L1517.3 683.7L1517.3 687.8L1517.3 691.8L1517.3 695.9L1517.3 696.6L1520.7 696.6L1520.7 695.9L1520.7 691.8L1520.7 687.8L1520.7 683.7L1520.7 679.6L1520.7 675.5L1520.7 671.4L1520.7 667.3L1520.7 663.2L1520.7 659.2L1520.7 655.1L1520.7 651.0L1520.7 646.9L1520.7 642.8L1520.7 638.8L1520.7 634.7L1520.7 630.6L1520.7 626.5L1520.7 622.4L1520.7 618.3L1520.7 614.2L1520.7 610.2L1520.7 606.1L1520.7 605.4Z M1570.3 654.4L1570.4 655.1L1570.4 659.2L1570.5 663.3L1570.5 667.4L1570.6 671.5L1570.6 675.6L1570.7 679.7L1570.7 683.8L1570.8 687.9L1570.8 692.0L1570.9 696.0L1570.9 700.1L1571.0 704.2L1571.0 708.3L1571.1 712.4L1571.1 716.5L1571.1 720.6L1571.2 724.7L1571.2 728.8L1571.3 732.9L1571.3 733.6L1573.7 733.6L1573.7 732.9L1573.8 728.8L1573.8 724.7L1573.9 720.6L1573.9 716.5L1573.9 712.4L1574.0 708.3L1574.0 704.2L1574.1 700.1L1574.1 696.0L1574.2 692.0L1574.2 687.9L1574.3 683.8L1574.3 679.7L1574.4 675.6L1574.4 671.5L1574.5 667.4L1574.5 663.3L1574.6 659.2L1574.6 655.1L1574.7 654.4Z M1653.3 674.4L1653.3 675.1L1653.3 679.1L1653.3 683.2L1653.3 687.2L1653.3 691.3L1653.3 695.4L1653.3 699.4L1653.3 703.5L1653.3 707.6L1653.3 711.6L1653.3 715.7L1653.3 719.8L1653.3 723.8L1653.3 727.9L1653.3 731.9L1653.3 732.6L1654.7 732.6L1654.7 731.9L1654.7 727.9L1654.7 723.8L1654.7 719.8L1654.7 715.7L1654.7 711.6L1654.7 707.6L1654.7 703.5L1654.7 699.4L1654.7 695.4L1654.7 691.3L1654.7 687.2L1654.7 683.2L1654.7 679.1L1654.7 675.1L1654.7 674.4Z M1651.3 836.4L1651.3 837.4L1651.3 841.9L1651.3 846.3L1651.3 850.7L1651.3 855.1L1651.3 859.6L1651.3 860.6L1653.7 860.6L1653.7 859.6L1653.7 855.1L1653.7 850.7L1653.7 846.3L1653.7 841.9L1653.7 837.4L1653.7 836.4Z M1728.7 613.4L1728.7 614.1L1728.7 618.3L1728.7 622.4L1728.7 626.6L1728.7 630.7L1728.7 634.9L1728.7 639.0L1728.7 643.1L1728.7 647.3L1728.7 651.4L1728.7 655.6L1728.7 659.7L1728.7 663.9L1728.7 668.0L1728.7 672.1L1728.7 676.3L1728.7 680.4L1728.7 684.6L1728.7 688.7L1728.7 692.9L1728.7 693.6L1731.3 693.6L1731.3 692.9L1731.3 688.7L1731.3 684.6L1731.3 680.4L1731.3 676.3L1731.3 672.1L1731.3 668.0L1731.3 663.9L1731.3 659.7L1731.3 655.6L1731.3 651.4L1731.3 647.3L1731.3 643.1L1731.3 639.0L1731.3 634.9L1731.3 630.7L1731.3 626.6L1731.3 622.4L1731.3 618.3L1731.3 614.1L1731.3 613.4Z M1739.3 662.4L1739.3 663.1L1739.2 667.1L1739.2 671.2L1739.1 675.2L1739.1 679.3L1739.0 683.3L1739.0 687.4L1738.9 691.4L1738.8 695.5L1738.8 699.6L1738.7 703.6L1738.7 707.7L1738.6 711.7L1738.6 715.8L1738.5 719.8L1738.5 723.9L1738.4 727.9L1738.3 728.6L1742.7 728.6L1742.7 727.9L1742.7 723.9L1742.7 719.8L1742.7 715.8L1742.7 711.7L1742.7 707.7L1742.7 703.6L1742.7 699.6L1742.7 695.5L1742.7 691.4L1742.7 687.4L1742.7 683.3L1742.7 679.3L1742.7 675.2L1742.7 671.2L1742.7 667.1L1742.7 663.1L1742.7 662.4Z M1748.3 709.4L1748.3 710.3L1748.3 714.7L1748.3 719.0L1748.3 723.3L1748.3 727.7L1748.3 728.6L1750.7 728.6L1750.5 727.7L1750.3 723.3L1750.2 719.0L1750.0 714.7L1749.8 710.3L1749.7 709.4Z M1731.3 735.4L1731.3 736.0L1731.3 740.0L1731.3 744.0L1731.3 748.0L1731.3 752.0L1731.3 756.0L1731.3 760.0L1731.3 764.0L1731.3 768.0L1731.3 772.0L1731.3 776.0L1731.3 780.0L1731.3 784.0L1731.3 784.6L1750.7 784.6L1750.7 784.0L1750.7 780.0L1750.7 776.0L1750.7 772.0L1750.7 768.0L1750.7 764.0L1750.7 760.0L1750.7 756.0L1750.7 752.0L1750.7 748.0L1750.7 744.0L1750.7 740.0L1750.7 736.0L1750.7 735.4Z M1737.3 841.4L1735.3 842.1L1733.3 846.2L1733.1 850.3L1732.8 854.4L1732.6 858.5L1732.3 862.6L1732.1 866.7L1731.8 870.8L1731.6 874.9L1731.3 875.6L1744.7 875.6L1744.5 874.9L1744.4 870.8L1744.3 866.7L1744.2 862.6L1744.0 858.5L1743.9 854.4L1743.8 850.3L1743.7 846.2L1742.2 842.1L1740.7 841.4Z M1769.3 568.4L1769.3 569.1L1769.3 573.2L1769.3 577.3L1769.3 581.4L1769.3 585.5L1769.3 589.6L1769.3 593.7L1769.3 597.8L1769.3 601.9L1769.3 606.0L1769.3 610.0L1769.3 614.1L1769.3 618.2L1769.3 622.3L1769.3 626.4L1769.3 630.5L1769.3 634.6L1769.3 638.7L1769.3 642.8L1769.3 646.9L1769.3 647.6L1771.7 647.6L1771.7 646.9L1771.7 642.8L1771.7 638.7L1771.7 634.6L1771.7 630.5L1771.7 626.4L1771.7 622.3L1771.7 618.2L1771.7 614.1L1771.7 610.0L1771.7 606.0L1771.7 601.9L1771.7 597.8L1771.7 593.7L1771.7 589.6L1771.7 585.5L1771.7 581.4L1771.7 577.3L1771.7 573.2L1771.7 569.1L1771.7 568.4Z M1784.7 613.4L1784.7 614.1L1784.7 618.3L1784.7 622.4L1784.7 626.5L1784.7 630.7L1784.7 634.8L1784.7 638.9L1784.7 643.0L1784.7 647.2L1784.7 651.3L1784.7 655.4L1784.7 659.6L1784.7 663.7L1784.7 667.8L1784.7 672.0L1784.7 676.1L1784.7 680.2L1784.7 684.3L1784.7 688.5L1784.7 692.6L1784.7 696.7L1784.7 700.9L1784.7 701.6L1787.7 701.6L1787.7 700.9L1787.7 696.7L1787.7 692.6L1787.7 688.5L1787.7 684.3L1787.7 680.2L1787.7 676.1L1787.7 672.0L1787.7 667.8L1787.7 663.7L1787.7 659.6L1787.7 655.4L1787.7 651.3L1787.7 647.2L1787.7 643.0L1787.7 638.9L1787.7 634.8L1787.7 630.7L1787.7 626.5L1787.7 622.4L1787.7 618.3L1787.7 614.1L1787.7 613.4Z"/>
<path d="M255.6 548.4h0M269.6 554.4h0M258.4 578.0h0M258.4 582.0h0M266.4 581.4h0M257.6 589.4h0M254.6 598.0h0M257.0 596.0h0M264.4 600.0h0M265.0 606.0h0M266.6 613.0h0M258.0 604.0h0M262.0 610.0h0M255.3 606.0h0M258.6 605.9h0M255.2 607.8h0M258.7 607.8h0M254.6 611.2h0M259.3 612.3h0M254.5 615.5h0M259.1 614.4h0M254.6 618.2h0M259.3 617.9h0M254.6 620.3h0M259.2 619.7h0M255.0 622.6h0M259.0 622.4h0M254.6 626.0h0M258.9 625.1h0M254.5 628.1h0M259.4 627.9h0M254.9 630.8h0M259.2 631.2h0M254.5 633.9h0M259.3 634.3h0M254.9 635.2h0M259.2 635.4h0M254.5 638.6h0M259.1 639.6h0M255.1 642.2h0M259.5 641.3h0M255.1 644.3h0M259.0 644.4h0M254.6 646.8h0M259.1 647.4h0M254.8 650.7h0M259.3 649.8h0M255.0 653.5h0M259.1 653.1h0M254.6 655.1h0M259.1 654.9h0M254.1 654.4h0M255.1 657.7h0M259.0 657.1h0M255.0 660.3h0M259.2 659.5h0M254.6 662.4h0M259.0 661.1h0M254.8 663.1h0M259.2 664.7h0M254.7 665.6h0M259.4 666.2h0M255.0 669.1h0M259.5 668.8h0M254.8 670.2h0M258.9 669.7h0M255.1 673.3h0M259.5 674.1h0M254.6 675.0h0M259.0 675.7h0M254.9 678.6h0M258.9 678.4h0M254.8 680.6h0M259.4 680.8h0M254.7 684.2h0M259.4 683.0h0M255.0 686.2h0M259.4 687.5h0M254.5 688.7h0M259.5 689.7h0M255.2 692.5h0M258.8 691.5h0M255.0 694.5h0M258.6 695.3h0M255.7 697.3h0M258.9 697.4h0M255.5 698.7h0M258.1 699.7h0M255.3 606.5h0M258.2 606.4h0M255.2 699.5h0M258.3 699.6h0M263.8 620.6h0M267.3 620.5h0M263.9 624.5h0M267.5 623.5h0M263.5 626.4h0M267.2 626.3h0M264.0 630.5h0M267.0 630.2h0M264.1 632.6h0M267.5 632.9h0M263.6 636.1h0M267.2 635.9h0M263.4 639.2h0M267.2 638.4h0M263.5 642.5h0M267.4 642.5h0M264.0 643.3h0M266.9 643.5h0M263.5 646.5h0M267.3 646.2h0M263.7 648.1h0M267.5 649.0h0M263.5 652.5h0M267.2 651.7h0M263.5 654.2h0M267.0 653.5h0M263.7 656.0h0M267.4 656.0h0M263.4 658.3h0M266.9 659.0h0M264.1 660.6h0M267.4 661.1h0M263.8 663.9h0M267.6 663.4h0M263.7 666.2h0M266.9 665.9h0M263.6 668.0h0M267.5 669.3h0M263.6 670.8h0M267.0 670.8h0M263.8 673.8h0M267.5 673.9h0M268.5 674.1h0M263.6 676.8h0M266.9 676.4h0M263.5 678.4h0M267.0 678.8h0M263.9 682.2h0M267.1 681.3h0M263.9 683.8h0M267.4 685.1h0M263.5 687.6h0M267.2 688.1h0M264.1 690.6h0M267.3 689.9h0M263.2 689.9h0M263.8 693.6h0M267.3 693.7h0M269.8 694.2h0M263.8 696.3h0M266.9 696.4h0M264.0 697.8h0M267.4 699.0h0M264.0 701.3h0M267.2 701.1h0M264.2 702.7h0M266.8 702.3h0M264.4 706.2h0M266.2 706.0h0M264.6 707.5h0M266.4 708.6h0M262.8 708.9h0M264.4 710.0h0M266.0 710.0h0M264.1 620.4h0M266.6 620.7h0M264.4 711.1h0M264.4 712.8h0M255.3 604.9h0M256.1 608.3h0M254.6 607.7h0M258.6 603.4h0M259.0 607.4h0M256.4 718.4h0M265.4 726.0h0M267.4 713.0h0M265.4 733.0h0M268.4 761.4h0M268.4 836.0h0M268.4 841.4h0M268.4 232.4h0M268.4 271.4h0M268.4 278.4h0M268.4 305.0h0M268.4 307.4h0M268.4 317.4h0M268.4 327.4h0M269.0 335.0h0M269.0 341.0h0M269.0 346.0h0M269.0 356.0h0M269.0 359.0h0M269.0 366.6h0M269.0 372.0h0M269.0 379.0h0M268.9 386.3h0M269.2 386.4h0M268.7 388.6h0M269.1 388.3h0M268.6 391.9h0M269.3 391.8h0M268.8 395.7h0M269.5 396.2h0M268.8 397.3h0M269.4 397.6h0M268.6 400.6h0M269.2 400.3h0M268.8 402.5h0M269.3 402.7h0M268.9 405.0h0M269.2 405.6h0M268.6 406.4h0M269.2 406.4h0M268.9 410.1h0M269.2 409.6h0M268.5 411.7h0M269.5 411.5h0M268.6 414.9h0M269.2 415.1h0M268.9 417.6h0M269.1 418.7h0M268.5 421.0h0M269.5 421.7h0M268.5 422.8h0M269.3 423.6h0M268.8 426.1h0M269.3 425.4h0M268.8 429.1h0M269.1 429.0h0M268.5 431.5h0M269.3 431.2h0M268.6 433.2h0M269.5 433.5h0M268.6 436.2h0M269.4 435.1h0M268.7 437.9h0M269.4 439.0h0M268.7 441.0h0M269.2 441.1h0M268.9 442.5h0M269.4 442.4h0M268.9 445.1h0M269.2 444.6h0M268.6 448.2h0M269.2 449.1h0M268.7 450.9h0M269.4 450.7h0M268.3 386.7h0M268.8 451.4h0M269.0 459.0h0M269.0 464.0h0M269.0 469.0h0M269.0 473.0h0M269.0 480.4h0M269.0 489.0h0M269.0 493.4h0M296.0 567.4h0M296.0 583.4h0M296.0 604.0h0M295.5 620.1h0M295.8 623.8h0M296.7 625.6h0M296.5 629.1h0M295.3 631.8h0M296.7 634.5h0M296.6 637.3h0M296.5 641.0h0M295.3 642.7h0M295.6 647.3h0M295.7 654.4h0M296.2 658.4h0M295.7 662.1h0M296.4 665.0h0M296.7 667.5h0M296.0 671.1h0M295.8 674.5h0M296.0 678.3h0M296.5 680.7h0M296.4 684.3h0M295.7 687.0h0M295.3 690.5h0M333.0 772.4h0M324.6 788.0h0M333.0 787.4h0M344.4 785.4h0M348.0 791.4h0M341.0 790.0h0M323.6 790.9h0M332.9 791.7h0M324.1 794.4h0M332.9 794.2h0M323.6 797.2h0M333.3 797.6h0M323.5 800.7h0M333.1 800.3h0M323.6 801.9h0M333.0 802.9h0M324.1 804.8h0M333.0 805.2h0M323.8 807.2h0M333.5 807.4h0M322.7 805.6h0M323.9 810.7h0M333.1 810.6h0M324.1 812.5h0M333.3 813.3h0M323.6 814.7h0M333.3 815.4h0M334.4 815.7h0M323.7 816.8h0M333.4 817.3h0M323.8 819.9h0M332.9 819.1h0M323.7 822.7h0M333.1 822.0h0M324.1 824.9h0M333.0 825.5h0M336.1 824.9h0M323.7 828.8h0M333.2 827.7h0M321.9 828.6h0M323.9 830.0h0M333.2 829.6h0M323.5 833.4h0M333.4 834.2h0M324.1 836.7h0M332.9 837.4h0M324.0 839.0h0M333.4 839.1h0M323.6 842.2h0M333.1 842.7h0M324.0 845.5h0M332.9 844.9h0M335.9 843.7h0M323.7 791.7h0M326.2 791.6h0M328.5 791.3h0M330.9 791.7h0M323.5 845.4h0M325.8 845.2h0M328.0 845.5h0M331.7 845.4h0M331.5 846.5h0M326.4 848.1h0M331.4 847.8h0M330.3 846.6h0M331.3 847.3h0M345.1 796.3h0M347.5 796.1h0M345.0 797.4h0M348.0 797.6h0M345.1 800.1h0M347.5 800.6h0M348.4 799.6h0M344.9 804.5h0M347.5 804.3h0M344.7 807.3h0M347.7 806.8h0M344.9 809.9h0M347.9 809.7h0M345.0 812.3h0M347.5 812.8h0M344.9 815.4h0M347.8 814.9h0M348.0 813.6h0M344.7 817.4h0M348.0 816.8h0M344.4 819.0h0M347.4 819.0h0M344.6 822.2h0M347.7 821.4h0M344.5 824.3h0M348.0 824.5h0M344.9 826.0h0M347.6 826.1h0M344.6 829.5h0M347.4 828.9h0M345.0 830.0h0M347.7 831.5h0M344.8 833.8h0M347.9 833.0h0M345.1 835.9h0M347.9 834.6h0M345.0 837.9h0M347.5 837.4h0M348.9 838.7h0M345.0 841.2h0M347.5 841.0h0M344.6 843.7h0M348.0 843.1h0M348.7 842.7h0M345.0 795.7h0M347.6 795.5h0M344.8 844.5h0M347.5 844.5h0M346.5 846.5h0M346.5 845.7h0M336.9 801.9h0M340.5 802.0h0M336.3 803.9h0M336.5 803.9h0M340.3 804.9h0M336.9 806.3h0M340.4 807.1h0M337.1 810.4h0M339.9 809.3h0M342.9 810.7h0M337.0 812.8h0M340.1 811.9h0M336.7 814.6h0M339.9 814.3h0M336.7 817.8h0M340.2 817.6h0M341.6 816.9h0M336.7 820.4h0M340.2 819.7h0M336.6 822.4h0M340.0 823.6h0M341.9 823.2h0M336.6 826.3h0M340.1 826.8h0M336.6 828.9h0M340.2 827.9h0M336.9 832.0h0M340.3 831.3h0M336.5 835.4h0M339.9 834.3h0M336.7 838.0h0M340.0 837.3h0M336.9 840.1h0M340.1 839.8h0M336.6 843.3h0M340.4 843.5h0M336.3 802.4h0M339.9 802.4h0M336.4 845.4h0M338.6 845.7h0M352.4 726.4h0M352.1 732.0h0M355.1 733.4h0M351.6 735.3h0M354.9 734.6h0M356.6 736.0h0M351.8 738.2h0M355.2 737.4h0M352.1 740.9h0M355.3 741.4h0M352.1 744.4h0M355.4 744.5h0M351.7 746.7h0M354.9 746.3h0M351.6 749.1h0M355.2 749.4h0M351.6 752.8h0M355.4 752.3h0M351.8 753.9h0M355.4 755.1h0M351.8 757.5h0M355.2 757.3h0M352.1 759.1h0M355.3 759.4h0M351.7 762.2h0M355.0 762.8h0M350.3 762.7h0M351.6 764.9h0M355.4 766.0h0M351.7 767.9h0M354.9 768.8h0M351.8 770.5h0M355.5 770.7h0M351.8 773.7h0M355.2 773.4h0M351.4 732.5h0M353.8 732.3h0M351.3 774.3h0M354.2 774.5h0M376.4 123.0h0M376.4 131.4h0M376.4 144.4h0M376.4 149.4h0M376.4 164.0h0M376.4 168.6h0M399.0 557.0h0M400.5 555.0h0M399.0 589.0h0M392.4 612.4h0M392.0 758.4h0M396.4 760.0h0M398.9 587.9h0M399.5 589.2h0M398.8 590.9h0M399.2 592.4h0M398.6 593.3h0M399.5 593.4h0M398.6 597.4h0M399.5 597.2h0M398.9 599.3h0M399.6 599.8h0M398.7 602.6h0M399.5 602.4h0M398.6 605.5h0M399.6 605.6h0M402.3 605.4h0M398.8 608.8h0M399.6 608.1h0M398.8 610.3h0M399.8 611.3h0M398.7 614.4h0M400.0 613.7h0M398.9 616.5h0M399.8 616.8h0M398.7 619.3h0M400.0 618.9h0M398.6 621.9h0M400.2 622.1h0M398.6 624.3h0M400.0 624.6h0M398.7 626.7h0M400.0 626.6h0M398.8 630.6h0M400.3 630.3h0M398.8 633.3h0M400.0 633.3h0M398.6 634.3h0M400.3 635.7h0M398.8 638.2h0M400.1 637.8h0M398.8 641.3h0M400.1 640.7h0M398.7 644.4h0M400.4 642.9h0M398.9 647.0h0M400.4 646.4h0M398.5 648.3h0M400.6 648.4h0M398.6 651.5h0M400.7 651.8h0M398.8 654.5h0M400.8 654.5h0M398.7 657.7h0M400.6 657.8h0M400.9 657.5h0M398.5 659.8h0M400.9 659.6h0M398.7 662.2h0M400.8 662.3h0M398.8 664.7h0M400.9 664.3h0M398.7 667.2h0M400.8 668.2h0M398.8 670.6h0M401.2 670.0h0M398.7 673.3h0M401.2 673.7h0M398.6 674.7h0M401.2 675.4h0M398.8 678.6h0M401.3 677.6h0M398.9 680.6h0M401.1 681.0h0M399.0 683.4h0M401.4 684.1h0M398.9 686.5h0M401.3 685.4h0M398.9 688.9h0M401.6 688.3h0M398.7 689.9h0M401.5 690.2h0M398.7 692.3h0M401.7 692.8h0M398.8 696.2h0M401.4 696.1h0M399.1 699.4h0M401.6 699.0h0M399.1 703.2h0M401.8 702.3h0M398.9 704.1h0M401.6 705.4h0M398.9 708.2h0M401.6 707.4h0M399.2 711.5h0M401.8 710.6h0M399.4 713.6h0M401.5 713.7h0M399.4 716.6h0M401.9 717.6h0M399.1 719.6h0M402.0 719.5h0M399.1 721.9h0M401.7 721.6h0M399.2 724.7h0M401.7 724.8h0M399.2 728.4h0M402.1 728.3h0M399.6 730.2h0M402.0 729.6h0M399.5 731.6h0M401.9 731.5h0M399.6 733.9h0M402.0 733.7h0M399.3 736.6h0M402.0 737.2h0M399.7 738.8h0M401.9 738.5h0M399.5 741.4h0M402.3 741.3h0M399.4 744.2h0M402.0 744.6h0M399.4 745.4h0M402.3 746.3h0M399.5 749.6h0M402.1 748.9h0M399.5 750.9h0M402.3 751.6h0M398.8 588.7h0M399.1 752.5h0M391.5 681.1h0M394.2 681.1h0M392.1 682.4h0M394.7 682.1h0M391.6 684.6h0M394.6 684.0h0M391.5 687.8h0M394.9 688.0h0M392.0 689.2h0M395.0 690.6h0M391.8 691.8h0M395.2 692.1h0M392.0 694.0h0M394.7 695.1h0M397.0 695.0h0M391.9 696.7h0M395.4 697.7h0M391.8 699.6h0M394.9 699.8h0M391.5 703.2h0M395.4 702.6h0M391.7 706.1h0M395.2 705.4h0M391.6 707.6h0M395.2 708.7h0M392.0 710.3h0M395.2 711.7h0M391.9 713.3h0M395.2 712.8h0M391.5 716.1h0M395.4 716.0h0M392.1 717.8h0M395.3 718.1h0M392.1 721.4h0M395.0 721.2h0M391.7 723.7h0M394.9 723.6h0M391.8 725.7h0M395.0 725.1h0M391.6 727.7h0M394.9 728.2h0M391.9 730.4h0M395.4 730.8h0M391.7 733.0h0M395.0 733.4h0M391.7 735.8h0M395.0 735.3h0M391.6 739.0h0M395.0 737.9h0M391.7 740.4h0M395.4 739.9h0M391.5 743.2h0M395.1 743.8h0M391.8 747.0h0M395.4 747.0h0M392.1 748.9h0M395.5 748.7h0M392.1 752.2h0M395.1 752.6h0M391.6 680.6h0M393.8 680.6h0M391.9 752.6h0M393.8 752.3h0M402.8 756.9h0M403.5 757.3h0M402.6 760.8h0M403.5 760.1h0M402.9 763.9h0M403.3 764.3h0M402.7 766.2h0M403.3 766.2h0M402.5 768.8h0M403.2 769.1h0M402.7 772.3h0M403.3 773.2h0M402.6 775.2h0M403.5 776.0h0M402.8 779.2h0M403.5 779.3h0M402.7 781.0h0M403.2 780.4h0M402.9 783.5h0M403.1 783.2h0M402.5 785.9h0M403.4 786.4h0M402.7 788.4h0M403.3 788.9h0M402.2 757.5h0M402.2 790.3h0M412.0 721.0h0M412.0 732.0h0M411.8 739.1h0M412.1 737.8h0M411.7 741.0h0M412.2 740.9h0M411.7 743.7h0M412.1 744.5h0M411.8 746.0h0M412.1 747.1h0M411.9 749.3h0M412.3 750.4h0M411.7 752.2h0M412.2 751.5h0M411.6 754.4h0M412.2 754.4h0M411.6 757.6h0M412.2 757.4h0M411.7 760.3h0M412.2 760.3h0M411.6 763.0h0M412.4 762.9h0M411.7 766.1h0M412.4 765.0h0M411.9 767.5h0M412.5 768.0h0M411.8 769.6h0M412.5 770.1h0M411.6 773.4h0M412.1 772.8h0M411.7 776.0h0M412.3 775.5h0M411.9 777.6h0M412.4 777.3h0M411.6 779.8h0M412.2 780.0h0M411.7 783.4h0M412.4 783.4h0M411.5 785.3h0M412.4 784.8h0M411.6 788.5h0M412.2 788.1h0M411.8 738.7h0M411.3 789.3h0M411.4 806.4h0M420.4 548.4h0M419.4 579.0h0M427.0 581.0h0M430.0 582.0h0M428.0 585.0h0M428.4 591.4h0M420.0 590.0h0M414.4 595.0h0M419.4 597.6h0M413.5 604.3h0M422.3 604.1h0M413.6 607.4h0M422.3 607.3h0M411.1 608.4h0M414.0 609.6h0M421.9 609.0h0M414.1 612.0h0M421.9 611.9h0M413.6 614.0h0M422.5 614.6h0M414.0 617.9h0M422.2 616.9h0M414.1 619.7h0M422.4 619.5h0M413.8 623.3h0M422.3 622.6h0M413.7 624.4h0M422.1 624.3h0M413.6 627.1h0M422.2 627.8h0M413.5 630.4h0M422.1 630.8h0M413.9 632.5h0M422.2 632.8h0M413.7 634.2h0M421.9 634.3h0M413.5 636.9h0M422.2 636.9h0M414.1 639.4h0M421.9 639.3h0M413.8 640.9h0M422.0 641.0h0M410.8 641.4h0M413.9 643.9h0M422.0 643.7h0M411.3 645.3h0M413.9 646.9h0M422.5 645.8h0M413.7 648.8h0M422.4 649.1h0M414.0 651.3h0M421.9 651.8h0M414.1 655.4h0M422.2 654.7h0M413.5 657.7h0M422.0 657.3h0M413.7 658.8h0M422.4 658.5h0M413.7 662.0h0M422.3 662.3h0M413.9 665.3h0M422.5 664.3h0M413.7 667.0h0M421.9 667.2h0M414.1 671.5h0M422.5 670.9h0M413.9 673.3h0M422.3 674.4h0M413.7 676.5h0M421.9 675.4h0M413.9 677.7h0M422.3 677.7h0M413.5 679.8h0M422.5 680.4h0M413.5 682.6h0M422.0 682.5h0M413.5 685.3h0M422.3 684.6h0M414.1 687.8h0M422.4 688.2h0M413.5 691.2h0M422.1 690.2h0M413.5 694.2h0M421.9 693.3h0M424.2 692.9h0M413.9 695.9h0M422.5 696.2h0M414.0 604.4h0M416.2 604.7h0M417.8 604.7h0M420.5 604.7h0M413.9 697.2h0M416.2 697.2h0M419.7 697.2h0M418.8 699.8h0M421.8 697.3h0M414.9 604.7h0M418.3 603.4h0M420.7 605.2h0M413.7 601.0h0M414.9 602.1h0M421.3 604.2h0M413.9 599.9h0M420.8 603.4h0M417.1 601.9h0M415.0 604.5h0M423.7 611.2h0M430.3 609.9h0M423.9 613.1h0M430.0 613.6h0M423.7 615.4h0M430.4 616.0h0M422.2 617.7h0M423.9 617.9h0M430.2 618.3h0M424.1 621.7h0M430.0 621.0h0M423.9 624.2h0M430.3 623.6h0M423.9 626.9h0M430.6 627.6h0M423.8 629.5h0M430.1 629.3h0M423.7 631.8h0M430.3 631.9h0M433.3 632.0h0M423.8 634.4h0M430.3 634.0h0M423.8 638.3h0M430.4 638.3h0M423.9 640.5h0M430.5 640.2h0M423.8 642.3h0M430.4 641.3h0M423.1 641.0h0M423.7 643.4h0M430.7 644.4h0M424.1 647.0h0M430.3 647.3h0M423.6 648.9h0M430.9 649.1h0M424.0 651.4h0M430.6 651.4h0M423.5 653.8h0M430.6 653.6h0M423.4 656.9h0M430.8 657.0h0M423.7 658.5h0M430.5 658.5h0M423.7 662.3h0M430.9 662.3h0M424.0 664.2h0M431.0 665.0h0M424.1 667.5h0M430.7 667.6h0M423.8 669.7h0M431.1 669.2h0M423.5 671.7h0M430.6 671.7h0M424.1 674.3h0M430.7 674.0h0M423.5 677.0h0M430.8 677.4h0M424.0 678.9h0M430.9 679.6h0M423.9 680.7h0M431.3 680.2h0M424.1 684.3h0M430.8 683.7h0M423.6 686.7h0M431.2 686.0h0M423.5 689.6h0M431.4 688.6h0M423.7 691.2h0M431.4 690.7h0M423.8 694.4h0M430.9 694.4h0M423.6 697.5h0M431.5 696.6h0M423.3 698.4h0M434.1 695.9h0M423.5 699.4h0M431.3 699.3h0M423.7 703.6h0M430.2 702.4h0M423.2 704.3h0M430.1 704.1h0M420.1 704.2h0M423.0 706.2h0M429.6 706.2h0M422.7 709.1h0M428.9 709.7h0M422.8 712.5h0M428.6 711.5h0M421.9 713.8h0M428.0 713.9h0M430.3 714.3h0M421.9 716.8h0M427.8 717.1h0M421.6 719.5h0M426.8 718.6h0M420.9 722.3h0M426.4 721.8h0M423.3 610.4h0M427.1 610.4h0M429.1 610.6h0M420.4 723.5h0M423.6 723.7h0M428.7 607.3h0M428.4 607.4h0M427.2 608.9h0M428.2 606.9h0M427.9 608.4h0M425.1 608.9h0M425.4 611.0h0M426.8 609.7h0M427.1 607.9h0M434.4 714.4h0M432.0 722.0h0M433.0 727.0h0M421.0 730.0h0M430.6 730.0h0M434.5 730.6h0M430.6 733.2h0M434.4 733.6h0M431.1 736.2h0M434.1 737.4h0M430.6 738.3h0M434.1 739.4h0M430.7 741.7h0M434.3 740.8h0M430.5 744.2h0M434.1 744.0h0M430.7 745.5h0M434.0 746.4h0M430.6 748.9h0M434.0 749.8h0M430.6 752.3h0M434.4 752.6h0M435.7 752.0h0M430.6 755.2h0M434.3 755.8h0M431.1 757.5h0M434.5 758.4h0M430.5 760.8h0M434.1 760.4h0M430.5 763.5h0M434.2 763.3h0" stroke="#000" stroke-width="5.2" stroke-linecap="round" fill="none"/>
<path d="M431.1 765.8h0M434.2 765.9h0M430.7 768.2h0M434.3 769.0h0M430.6 770.2h0M434.4 770.3h0M430.5 773.9h0M434.4 773.6h0M430.9 776.9h0M434.4 776.7h0M430.4 779.5h0M434.0 778.3h0M430.8 781.9h0M434.2 781.1h0M431.0 784.5h0M434.0 784.2h0M430.8 787.6h0M434.1 788.0h0M430.5 789.9h0M434.2 790.0h0M431.0 792.1h0M434.4 792.9h0M430.5 730.8h0M430.5 728.7h0M432.9 730.4h0M431.0 795.4h0M433.4 795.5h0M433.0 802.4h0M457.4 586.4h0M457.4 601.0h0M457.5 608.0h0M458.1 608.1h0M457.5 611.5h0M458.0 611.3h0M457.1 614.0h0M457.7 614.2h0M457.2 616.5h0M457.7 617.1h0M457.4 619.3h0M457.8 617.7h0M457.3 620.0h0M457.9 621.0h0M457.5 622.1h0M458.1 623.5h0M457.3 625.3h0M457.9 625.6h0M457.4 628.2h0M457.7 627.5h0M457.2 631.9h0M457.7 631.4h0M457.4 633.8h0M457.8 634.4h0M457.4 636.3h0M457.7 636.7h0M457.4 639.6h0M457.7 639.7h0M457.3 641.5h0M457.8 642.0h0M457.2 645.5h0M458.0 645.0h0M457.2 648.2h0M457.9 647.6h0M457.3 650.6h0M457.8 650.7h0M457.5 653.0h0M458.1 652.3h0M457.3 656.4h0M457.8 656.5h0M457.3 658.0h0M457.8 658.6h0M457.4 660.6h0M458.0 659.4h0M457.1 663.7h0M458.0 664.0h0M457.5 665.3h0M458.1 665.9h0M457.4 668.5h0M457.7 668.0h0M457.2 671.2h0M458.1 670.9h0M457.5 673.8h0M457.9 673.0h0M457.1 676.8h0M457.8 675.9h0M456.8 608.7h0M457.4 679.5h0M457.4 691.0h0M477.2 589.0h0M477.0 603.0h0M476.0 608.0h0M477.0 613.0h0M476.7 623.1h0M477.4 623.2h0M476.9 624.6h0M477.5 625.7h0M476.6 627.4h0M477.2 627.4h0M476.7 630.8h0M477.4 630.7h0M476.5 633.1h0M477.4 632.6h0M476.5 635.9h0M477.1 635.2h0M476.7 638.4h0M477.2 638.4h0M476.5 640.5h0M477.4 640.8h0M476.8 642.2h0M477.4 642.4h0M476.6 645.9h0M477.3 645.9h0M476.7 649.4h0M477.2 649.1h0M476.6 651.1h0M477.3 650.9h0M476.7 653.0h0M477.3 652.2h0M476.5 655.5h0M477.3 656.0h0M476.7 658.1h0M477.4 658.7h0M476.5 662.0h0M477.4 661.5h0M476.8 665.0h0M477.1 664.4h0M476.6 668.0h0M477.3 667.1h0M476.6 671.1h0M477.2 670.7h0M476.8 673.8h0M477.2 674.2h0M476.6 675.9h0M477.4 676.2h0M476.9 677.8h0M477.4 677.8h0M476.7 681.4h0M477.5 680.2h0M476.6 682.7h0M477.1 682.4h0M476.6 685.6h0M477.5 686.0h0M476.6 688.6h0M477.4 689.1h0M476.6 691.9h0M477.5 692.2h0M476.8 693.6h0M477.4 694.5h0M476.6 695.9h0M477.3 697.0h0M476.2 622.5h0M476.7 699.5h0M502.4 529.4h0M495.4 534.4h0M490.0 544.0h0M492.0 548.0h0M486.0 558.0h0M490.0 566.0h0M487.0 572.0h0M491.0 580.0h0M487.0 589.0h0M489.0 592.0h0M497.0 544.0h0M499.5 543.4h0M496.8 545.8h0M500.0 546.0h0M496.1 547.9h0M500.3 548.6h0M496.3 550.1h0M501.0 551.0h0M496.3 553.4h0M501.4 554.0h0M496.3 555.6h0M501.8 556.5h0M496.0 558.7h0M501.8 557.7h0M496.1 561.5h0M502.1 561.3h0M495.4 563.5h0M501.9 563.0h0M496.0 565.3h0M502.4 565.4h0M495.7 568.5h0M502.0 568.8h0M495.8 570.7h0M502.4 570.7h0M495.9 573.7h0M502.3 573.2h0M496.1 576.3h0M502.4 576.3h0M495.8 576.9h0M502.2 577.8h0M495.6 579.7h0M502.1 579.3h0M495.6 582.7h0M502.0 582.0h0M496.0 586.4h0M502.5 586.0h0M495.4 588.4h0M502.4 588.0h0M495.9 590.7h0M502.1 589.2h0M496.0 593.0h0M501.9 592.5h0M496.1 596.3h0M502.4 595.6h0M495.8 597.7h0M502.0 597.3h0M492.9 598.3h0M495.7 601.4h0M502.1 601.5h0M495.6 603.0h0M502.1 602.1h0M495.5 606.0h0M502.2 604.7h0M495.8 608.8h0M502.0 608.2h0M495.9 610.0h0M502.0 610.5h0M495.7 612.8h0M502.4 612.8h0M495.9 615.9h0M502.3 616.7h0M495.9 618.9h0M502.0 620.4h0M496.0 622.9h0M502.4 621.9h0M495.5 625.0h0M502.0 626.4h0M495.9 629.7h0M502.0 628.4h0M493.3 627.8h0M495.6 632.4h0M502.0 631.9h0M496.1 634.3h0M502.5 635.2h0M495.9 638.4h0M501.9 637.2h0M495.5 640.7h0M501.9 640.9h0M496.3 641.9h0M502.2 641.7h0M496.3 645.1h0M502.5 645.3h0M497.2 646.5h0M502.3 647.8h0M502.6 645.9h0M497.6 650.0h0M502.2 649.8h0M498.3 653.7h0M502.5 653.7h0M504.4 654.2h0M496.8 543.4h0M499.2 543.5h0M498.0 654.2h0M501.6 654.6h0M486.1 595.0h0M492.1 594.2h0M493.2 595.8h0M485.5 598.3h0M492.6 598.5h0M485.7 599.5h0M492.6 599.6h0M485.5 602.2h0M492.6 602.6h0M485.7 604.2h0M492.5 604.5h0M493.6 605.5h0M485.0 608.1h0M492.9 608.5h0M485.0 609.6h0M493.0 609.9h0M485.1 613.5h0M493.0 613.5h0M484.6 614.9h0M492.8 614.5h0M484.7 618.5h0M492.9 617.4h0M484.8 621.3h0M492.9 621.6h0M485.1 622.3h0M493.4 623.3h0M484.6 625.3h0M492.9 624.9h0M484.6 626.1h0M493.5 626.5h0M484.6 628.1h0M493.3 628.3h0M484.7 632.3h0M492.9 631.6h0M485.2 633.7h0M492.9 634.5h0M484.9 636.0h0M493.1 636.2h0M485.3 638.6h0M492.6 639.0h0M484.8 641.4h0M492.9 641.5h0M484.8 643.8h0M492.9 644.7h0M485.3 646.3h0M493.1 646.9h0M485.2 649.0h0M492.6 650.0h0M485.5 651.6h0M493.0 651.0h0M485.3 653.6h0M492.5 654.6h0M485.3 655.7h0M492.4 655.6h0M485.3 658.0h0M492.8 657.3h0M485.6 660.6h0M493.0 660.3h0M485.0 663.6h0M492.3 664.0h0M485.4 667.7h0M492.5 667.3h0M482.3 666.2h0M485.7 669.6h0M492.9 669.9h0M485.8 671.7h0M492.4 672.5h0M485.6 673.4h0M492.4 673.6h0M494.5 673.4h0M485.5 677.0h0M492.2 676.3h0M485.3 678.8h0M492.5 679.3h0M485.6 680.7h0M492.4 681.4h0M485.4 684.8h0M492.3 683.4h0M485.5 685.6h0M492.7 686.6h0M485.9 689.4h0M492.4 688.5h0M485.9 692.5h0M492.6 691.4h0M485.5 694.9h0M492.1 694.1h0M485.5 697.8h0M492.3 697.4h0M485.8 699.6h0M492.4 699.5h0M487.0 702.2h0M491.1 701.8h0M485.2 594.7h0M488.6 594.4h0M490.3 594.3h0M487.0 702.2h0M490.4 702.3h0M485.0 707.0h0M491.0 709.0h0M488.0 704.0h0M542.4 503.4h0M546.4 532.4h0M547.4 549.0h0M554.6 549.0h0M544.4 553.0h0M542.4 560.0h0M540.6 567.4h0M555.0 557.0h0M555.0 563.0h0M555.0 569.0h0M548.0 575.0h0M540.6 582.6h0M546.4 582.9h0M541.0 586.5h0M547.5 586.1h0M541.0 587.7h0M547.6 588.6h0M540.9 590.8h0M548.1 591.3h0M540.4 592.6h0M549.0 592.4h0M541.1 595.3h0M549.1 596.8h0M540.8 598.1h0M549.8 598.4h0M540.6 599.7h0M550.5 600.7h0M540.7 603.3h0M552.0 604.0h0M540.9 605.2h0M553.6 605.0h0M540.9 606.9h0M554.8 607.9h0M540.9 609.4h0M555.5 608.8h0M540.6 611.8h0M556.2 612.2h0M558.6 611.3h0M540.9 614.7h0M556.3 615.1h0M540.6 616.7h0M556.0 617.7h0M541.0 620.3h0M556.1 620.9h0M540.5 622.6h0M556.0 623.2h0M540.5 624.7h0M556.2 624.5h0M540.5 627.0h0M556.1 627.7h0M540.7 629.8h0M556.4 630.3h0M541.1 633.3h0M555.9 633.1h0M541.1 635.7h0M555.9 635.0h0M541.0 637.4h0M556.2 636.3h0M540.5 639.9h0M556.4 639.7h0M540.8 642.9h0M556.0 641.8h0M540.5 644.3h0M556.5 644.1h0M541.1 647.9h0M556.5 648.1h0M541.0 650.2h0M556.0 651.6h0M540.6 652.8h0M556.2 654.0h0M540.6 655.9h0M556.1 655.0h0M540.8 657.9h0M556.4 658.8h0M541.0 661.5h0M556.0 660.8h0M540.5 663.0h0M556.5 663.3h0M540.6 667.1h0M556.4 667.2h0M540.6 669.7h0M556.1 670.0h0M541.0 671.6h0M556.5 672.4h0M541.0 675.4h0M556.3 674.4h0M540.7 678.1h0M556.4 678.3h0M540.5 679.6h0M555.9 680.3h0M541.0 681.3h0M556.2 681.6h0M540.9 684.7h0M556.2 684.7h0M541.8 686.7h0M555.3 687.8h0M541.0 582.7h0M542.8 582.9h0M545.4 582.3h0M542.7 689.4h0M545.4 689.6h0M547.5 689.6h0M551.0 689.4h0M553.8 689.2h0M544.8 577.9h0M543.8 580.1h0M544.5 577.6h0M546.1 583.6h0M543.9 582.2h0M541.7 583.0h0M543.8 581.9h0M545.6 579.1h0M556.9 582.1h0M550.8 588.6h0M556.7 597.2h0M557.1 588.7h0M556.9 589.8h0M551.6 591.4h0M556.1 586.8h0M554.7 583.2h0M551.0 694.0h0M546.0 690.0h0M564.4 507.4h0M565.4 523.4h0M565.0 541.0h0M567.0 544.0h0M564.0 550.0h0M562.6 558.5h0M568.2 558.5h0M569.4 559.3h0M562.6 561.2h0M568.2 561.1h0M562.9 564.1h0M568.4 564.1h0M563.1 566.1h0M568.5 566.8h0M562.9 569.3h0M568.2 570.1h0M562.6 572.4h0M568.0 572.8h0M562.6 574.3h0M568.0 574.7h0M562.7 578.3h0M568.2 578.3h0M562.5 579.8h0M567.9 580.6h0M562.7 582.4h0M568.3 582.5h0M562.4 586.0h0M568.4 585.2h0M562.7 587.5h0M568.2 588.1h0M562.7 590.5h0M568.4 590.0h0M562.8 593.0h0M568.0 592.6h0M562.7 595.0h0M568.2 594.8h0M563.1 597.9h0M568.2 597.4h0M562.6 600.5h0M568.1 600.5h0M562.7 603.5h0M568.0 603.3h0M562.0 601.7h0M562.6 604.3h0M568.0 605.4h0M562.8 609.0h0M567.9 609.0h0M563.0 611.1h0M567.9 611.9h0M562.5 614.0h0M567.9 613.9h0M562.6 616.2h0M568.3 616.9h0M562.7 619.8h0M568.0 619.6h0M562.6 622.4h0M568.0 622.7h0M562.9 624.8h0M568.2 626.0h0M562.9 628.5h0M568.1 629.5h0M562.5 631.0h0M568.1 631.8h0M560.2 632.3h0M563.0 633.2h0M568.3 633.4h0M563.1 637.3h0M568.3 636.3h0M563.0 640.3h0M568.4 640.6h0M562.6 643.0h0M568.0 643.4h0M562.5 646.8h0M568.4 645.5h0M562.9 649.2h0M568.5 648.7h0M562.5 652.2h0M568.2 652.0h0M562.5 654.4h0M568.4 654.0h0M563.1 657.5h0M568.6 656.7h0M562.8 660.4h0M568.1 660.6h0M562.5 663.1h0M567.9 663.6h0M562.9 664.6h0M568.0 665.3h0M561.2 663.6h0M562.5 668.0h0M568.2 668.4h0M562.6 670.8h0M568.4 670.7h0M562.6 674.4h0M568.2 674.1h0M563.3 676.0h0M568.5 676.3h0M563.8 678.4h0M568.5 679.5h0M564.4 681.7h0M568.5 681.9h0M565.1 683.3h0M567.9 683.8h0M565.8 686.7h0M568.3 685.7h0M567.0 689.0h0M568.3 690.3h0M566.5 691.4h0M568.0 691.5h0M567.1 695.0h0M568.6 695.4h0M567.0 698.2h0M568.2 698.8h0M566.9 700.1h0M568.2 700.0h0M567.5 703.5h0M568.8 703.1h0M568.8 702.6h0M567.3 706.3h0M568.2 706.0h0M567.2 708.8h0M568.4 709.8h0M568.0 711.5h0M568.5 712.3h0M568.0 714.2h0M568.4 713.8h0M568.0 716.5h0M569.1 716.6h0M568.1 718.0h0M568.7 718.5h0M567.8 720.1h0M569.0 719.4h0M568.1 722.7h0M568.5 721.9h0M568.1 726.2h0M568.8 725.0h0M568.6 727.6h0M569.1 728.5h0M568.6 730.7h0M568.8 730.6h0M568.6 733.8h0M569.1 734.8h0M562.4 558.8h0M564.8 558.3h0M568.4 558.4h0M568.5 735.3h0M566.8 556.2h0M563.6 557.3h0M565.1 557.2h0M563.1 558.9h0M562.6 554.2h0M564.9 554.0h0M563.1 557.4h0M568.4 554.9h0M569.4 742.4h0M613.4 274.4h0M613.4 334.4h0M613.4 347.4h0M613.4 380.4h0M613.4 385.4h0M616.4 404.4h0M613.4 434.4h0M613.4 461.4h0M613.4 465.4h0M613.4 479.4h0M613.1 489.8h0M613.3 492.3h0M613.0 494.5h0M614.0 498.5h0M613.4 500.3h0M613.4 507.6h0M614.0 507.3h0M613.2 510.1h0M613.7 510.5h0M613.1 513.8h0M614.0 512.9h0M613.4 516.0h0M614.0 516.0h0M613.3 518.8h0M613.7 519.9h0M613.5 522.0h0M613.7 521.4h0M614.1 521.2h0M613.5 524.5h0M614.1 525.3h0M613.4 528.9h0M613.9 527.7h0M613.3 530.5h0M613.9 530.1h0M613.3 533.4h0M613.7 533.2h0M613.4 536.1h0M613.8 536.7h0M613.3 538.6h0M614.0 538.3h0M613.3 540.5h0M613.8 541.2h0M613.4 543.3h0M614.0 543.2h0M613.3 544.2h0M614.1 545.0h0M613.2 547.7h0M613.7 548.5h0M613.2 550.4h0M614.0 551.0h0M613.3 552.6h0M614.1 552.4h0M613.5 555.9h0M614.0 556.8h0M613.3 558.6h0M614.1 559.1h0M613.1 561.2h0M613.8 560.6h0M613.4 563.9h0M613.8 563.0h0M613.2 566.6h0M614.1 565.6h0M613.1 568.1h0M613.9 568.5h0M613.2 570.4h0M613.8 571.1h0M613.5 572.3h0M613.9 572.5h0M613.2 576.2h0M613.9 576.6h0M613.4 578.4h0M614.0 578.0h0M613.2 580.3h0M613.9 580.7h0M613.1 581.4h0M613.7 581.9h0M613.4 584.4h0M614.1 583.8h0M613.5 586.3h0M614.0 586.5h0M613.2 588.8h0M614.1 589.2h0M613.2 591.8h0M614.0 591.8h0M613.3 593.9h0M614.0 594.8h0M613.4 596.6h0M614.0 596.5h0M613.5 599.1h0M614.0 598.8h0M613.4 601.2h0M613.8 601.2h0M613.3 602.7h0M613.9 602.4h0M613.2 605.3h0M613.9 605.2h0M613.3 607.7h0M613.9 607.6h0M613.5 610.8h0M613.7 610.7h0M613.4 507.5h0M613.5 612.4h0M614.0 613.7h0M612.0 619.0h0M615.0 624.0h0M613.0 629.0h0M616.0 634.0h0M611.0 646.0h0M606.6 600.0h0M606.6 608.0h0M606.9 623.6h0M606.1 627.9h0M605.8 630.2h0M605.9 632.9h0M606.1 635.0h0M607.3 638.4h0M607.4 641.9h0M606.2 646.1h0M607.0 649.2h0M607.3 651.9h0M607.2 655.0h0M606.5 659.2h0M606.1 662.5h0M607.0 665.1h0M606.9 667.4h0M606.1 670.6h0M606.6 682.0h0M601.7 692.6h0M603.1 693.0h0M601.6 694.7h0M603.4 695.2h0M601.9 697.0h0M603.3 697.5h0M601.8 698.8h0M603.2 699.6h0M601.6 702.0h0M603.1 702.6h0M601.8 705.0h0M603.1 705.3h0M601.8 708.4h0M603.3 708.1h0M601.7 709.9h0M603.1 709.4h0M601.6 712.0h0M603.2 711.8h0M601.9 713.7h0M603.5 714.0h0M601.7 716.8h0M603.4 716.9h0M601.8 719.7h0M603.3 719.2h0M601.7 722.3h0M603.1 722.5h0M601.5 723.8h0M603.1 724.2h0M601.7 727.2h0M603.4 726.1h0M604.4 725.5h0M601.8 730.4h0M603.2 728.9h0M601.7 732.6h0M603.1 733.6h0M601.8 735.9h0M603.3 734.9h0M601.8 738.0h0M603.3 738.0h0M601.5 740.8h0M603.4 741.8h0M599.7 741.4h0M601.6 743.3h0M603.4 743.9h0M601.8 745.7h0M603.3 746.1h0M601.8 748.1h0M603.4 748.1h0M601.8 749.8h0M603.5 749.7h0M601.7 752.6h0M603.2 751.9h0M601.7 755.8h0M603.2 756.6h0M601.7 759.4h0M603.2 758.4h0M601.6 762.1h0M603.4 761.8h0M601.9 765.3h0M603.2 764.8h0M602.0 692.5h0M601.2 765.5h0M601.4 802.4h0M601.4 841.4h0M624.4 532.4h0M621.0 538.0h0M621.0 543.0h0M622.0 551.0h0M622.0 557.0h0M619.9 564.8h0M624.1 565.0h0M624.9 564.8h0M619.5 567.1h0M624.2 567.0h0M619.6 570.3h0M623.9 570.1h0M619.9 572.8h0M623.9 571.5h0M619.6 575.2h0M624.0 575.1h0M619.6 577.7h0M623.9 577.9h0M619.8 579.5h0M624.4 579.2h0M620.1 582.3h0M624.6 582.4h0M619.6 585.3h0M624.3 585.0h0M619.6 587.3h0M624.3 587.1h0M619.9 589.0h0M624.2 589.8h0M625.0 591.0h0M619.7 591.8h0M624.3 592.4h0M619.8 594.2h0M624.5 595.5h0M620.0 596.9h0M624.4 597.6h0M619.6 600.9h0M624.2 600.2h0M620.0 603.9h0M624.0 603.1h0M619.5 605.4h0M624.4 605.5h0M619.7 608.7h0M624.1 608.3h0M620.1 610.7h0M623.9 611.7h0M619.5 613.1h0M624.3 612.8h0M619.7 616.9h0M624.5 615.5h0M626.5 617.1h0M619.8 619.5h0M624.0 619.1h0M619.9 621.3h0M624.4 621.4h0M619.8 624.0h0M624.5 624.0h0M620.1 627.4h0M624.3 627.9h0M620.0 629.4h0M623.9 629.9h0M620.1 632.0h0M623.9 632.6h0M619.8 636.4h0M624.3 635.4h0M619.8 637.1h0M624.2 637.8h0M620.0 641.2h0M624.0 640.7h0M619.8 643.6h0M624.3 644.7h0M619.5 645.0h0M624.2 646.3h0M619.9 649.0h0M623.9 648.7h0M619.8 650.6h0M624.2 650.6h0M619.9 653.2h0M624.3 654.4h0M620.1 656.0h0M624.0 656.4h0M619.8 657.7h0M624.1 658.4h0M620.1 660.7h0M624.5 660.7h0M625.8 660.8h0M620.1 663.8h0M624.2 663.8h0M619.4 666.6h0M624.5 666.1h0M626.3 667.8h0M619.7 668.6h0M624.4 669.1h0M620.1 672.2h0M624.5 671.4h0M620.0 673.6h0M624.2 674.6h0M625.2 674.1h0M619.6 678.0h0M624.1 677.5h0M619.5 679.2h0M624.1 680.1h0M619.8 682.3h0M624.4 683.3h0M619.6 685.1h0M624.5 686.4h0M619.9 689.5h0M624.6 688.7h0M619.9 691.5h0M624.5 691.4h0M619.5 694.5h0M624.5 693.5h0M620.0 696.3h0M624.1 695.3h0M620.0 697.9h0M623.9 698.2h0M620.0 699.8h0M624.3 699.7h0M619.6 703.5h0M623.5 703.3h0M619.7 706.6h0M623.7 705.9h0M619.6 708.3h0M623.2 708.4h0M619.2 712.0h0M623.3 711.3h0M619.1 712.9h0M622.8 714.0h0M619.1 716.7h0M622.7 717.6h0M619.1 720.4h0M622.3 719.4h0M618.8 722.9h0M622.2 722.9h0M619.1 724.5h0M621.9 724.2h0M624.4 725.3h0M618.9 726.2h0M621.6 726.7h0M618.7 729.1h0M621.4 729.3h0M618.7 733.2h0M620.9 732.3h0M618.4 735.0h0M620.9 735.0h0M618.6 737.4h0M620.4 737.1h0M618.1 740.6h0M620.1 739.3h0M618.2 742.8h0M619.6 742.6h0M617.6 744.1h0M619.7 745.1h0M619.4 565.4h0M622.2 565.3h0M624.6 565.7h0M617.4 745.2h0M628.5 137.0h0M628.5 143.0h0M628.5 176.8h0M628.5 186.2h0M628.5 205.0h0M628.5 209.5h0M628.5 218.0h0M628.5 222.0h0M628.5 227.0h0M628.5 231.0h0M628.5 241.0h0M628.5 244.0h0M628.5 252.0h0M628.5 259.0h0M631.4 236.4h0M632.0 250.4h0M634.0 260.0h0M636.0 253.0h0M628.0 264.0h0M633.0 268.0h0M627.0 272.0h0" stroke="#000" stroke-width="5.2" stroke-linecap="round" fill="none"/>
<path d="M631.0 276.0h0M631.2 275.2h0M630.6 276.5h0M632.1 274.3h0M630.9 272.9h0M629.7 279.0h0M632.5 272.5h0M628.9 277.0h0M631.4 277.2h0M633.0 278.7h0M628.9 280.3h0M631.7 281.0h0M629.0 283.1h0M632.4 283.8h0M629.1 284.1h0M632.4 284.7h0M629.0 287.1h0M632.8 287.0h0M626.3 286.1h0M628.6 289.1h0M633.1 289.0h0M628.6 291.7h0M633.3 292.0h0M628.5 293.8h0M633.7 294.2h0M629.0 295.5h0M633.4 295.6h0M629.1 298.9h0M634.3 299.5h0M629.1 301.8h0M634.3 302.2h0M628.5 306.3h0M634.5 305.0h0M628.5 307.7h0M634.5 307.4h0M628.7 310.5h0M635.1 310.8h0M628.8 313.4h0M635.0 312.9h0M629.1 316.1h0M634.9 315.8h0M628.7 318.6h0M635.6 318.1h0M628.6 322.3h0M635.3 321.6h0M628.6 325.0h0M635.6 324.8h0M629.0 326.7h0M636.3 326.5h0M629.1 329.7h0M635.9 329.2h0M629.0 332.6h0M636.3 331.6h0M629.0 335.0h0M636.3 335.1h0M639.2 334.9h0M628.8 338.8h0M636.1 338.4h0M627.1 337.1h0M628.7 342.0h0M636.5 341.9h0M628.9 343.4h0M636.5 344.1h0M628.5 347.1h0M636.0 345.7h0M628.6 348.8h0M636.5 349.7h0M629.1 351.1h0M636.1 351.1h0M629.0 355.5h0M635.9 355.5h0M628.8 357.7h0M635.9 357.8h0M628.8 359.6h0M636.3 360.0h0M628.6 362.0h0M636.1 362.5h0M629.1 364.6h0M636.5 365.0h0M629.0 366.5h0M636.2 367.1h0M629.0 369.8h0M636.5 368.7h0M629.1 372.5h0M636.2 372.3h0M629.2 375.2h0M635.7 375.5h0M629.1 377.4h0M635.5 377.3h0M629.6 379.3h0M634.9 380.3h0M629.3 382.3h0M634.6 383.3h0M629.4 384.5h0M635.0 385.8h0M629.9 388.1h0M634.3 387.7h0M629.6 391.5h0M634.2 391.7h0M630.3 392.5h0M633.5 393.5h0M630.5 395.9h0M632.3 396.4h0M628.2 277.5h0M631.1 277.6h0M630.6 397.3h0M630.0 395.6h0M617.0 404.4h0M634.0 402.0h0M656.6 831.8h0M658.1 831.5h0M656.5 833.4h0M658.3 833.4h0M656.7 836.8h0M658.3 836.8h0M656.7 840.1h0M658.1 838.9h0M656.7 842.2h0M658.2 841.7h0M656.7 845.6h0M658.2 845.7h0M656.6 846.8h0M658.4 847.2h0M656.6 849.5h0M658.2 850.3h0M660.5 849.8h0M656.6 851.5h0M658.4 852.0h0M656.6 854.0h0M658.4 854.7h0M656.5 856.3h0M658.1 856.7h0M656.7 859.4h0M658.5 860.2h0M656.4 831.7h0M656.5 860.5h0M676.0 476.0h0M676.0 482.0h0M676.0 493.0h0M676.0 508.4h0M676.0 515.0h0M676.0 521.0h0M676.0 528.0h0M676.0 533.0h0M676.0 539.0h0M676.0 542.0h0M676.0 546.0h0M673.5 553.1h0M675.5 552.8h0M673.4 555.6h0M674.9 555.0h0M674.0 556.9h0M675.0 557.6h0M673.9 558.8h0M675.0 559.0h0M673.7 562.8h0M675.2 561.4h0M676.4 561.1h0M673.7 564.3h0M675.1 565.5h0M673.6 567.6h0M675.0 568.0h0M673.3 569.3h0M675.1 569.9h0M673.0 572.7h0M675.5 573.5h0M673.5 575.7h0M674.9 575.2h0M673.2 578.0h0M674.9 578.2h0M673.0 580.5h0M675.4 581.4h0M673.4 583.1h0M675.4 582.9h0M673.3 585.9h0M675.3 586.0h0M672.9 588.5h0M675.5 589.3h0M673.3 590.2h0M675.4 591.0h0M673.0 592.8h0M675.5 592.8h0M673.1 596.5h0M675.5 595.5h0M672.0 597.1h0M673.0 598.3h0M675.2 599.5h0M672.5 602.2h0M675.4 601.7h0M672.8 603.8h0M675.5 604.3h0M672.4 607.8h0M674.9 607.7h0M671.9 610.0h0M675.4 610.8h0M671.7 612.5h0M674.9 613.2h0M671.6 616.3h0M675.4 615.7h0M671.6 619.1h0M675.5 618.7h0M671.5 619.8h0M675.2 621.1h0M671.2 621.8h0M675.0 621.8h0M671.3 625.6h0M675.1 625.8h0M671.1 627.6h0M674.9 627.9h0M671.2 631.7h0M675.4 631.1h0M671.1 633.5h0M674.9 633.9h0M670.9 635.8h0M675.5 635.8h0M670.5 639.9h0M674.9 639.5h0M669.9 642.5h0M675.6 642.8h0M670.4 644.2h0M675.3 644.3h0M670.2 647.5h0M675.4 647.1h0M669.7 650.2h0M675.0 650.4h0M668.8 653.6h0M673.8 652.8h0M668.5 656.9h0M673.0 657.1h0M668.3 659.4h0M671.7 659.6h0M667.6 662.7h0M670.8 662.2h0M667.7 664.9h0M671.0 665.6h0M671.5 666.1h0M667.6 667.9h0M671.2 668.1h0M673.4 667.7h0M667.4 669.7h0M670.7 670.0h0M667.9 671.1h0M670.7 671.7h0M667.8 673.5h0M670.7 674.4h0M667.5 676.4h0M670.7 676.9h0M667.7 678.5h0M670.7 679.5h0M667.9 681.8h0M670.3 681.9h0M667.8 685.0h0M670.3 685.5h0M668.1 688.0h0M670.7 688.1h0M667.7 691.1h0M670.0 690.0h0M668.1 693.4h0M669.9 692.5h0M666.3 691.7h0M667.6 696.5h0M670.1 696.7h0M667.6 699.1h0M669.7 698.2h0M667.5 700.9h0M670.1 701.7h0M667.8 703.5h0M669.9 704.4h0M667.9 706.1h0M669.5 707.2h0M667.6 709.6h0M669.8 708.2h0M668.1 711.5h0M669.9 710.1h0M668.0 714.3h0M669.8 713.2h0M667.3 714.8h0M667.6 717.0h0M669.3 716.2h0M664.7 716.2h0M667.9 720.3h0M669.7 720.2h0M667.6 722.2h0M669.3 723.3h0M668.1 724.5h0M669.5 724.6h0M673.8 552.7h0M667.9 725.5h0M674.6 548.9h0M673.8 549.8h0M673.8 548.8h0M674.9 551.4h0M668.7 584.8h0M668.9 633.7h0M668.7 586.5h0M668.6 599.7h0M668.1 580.3h0M669.2 618.4h0M669.3 582.2h0M668.1 608.7h0M667.7 592.4h0M668.6 606.6h0M667.6 736.0h0M667.6 746.0h0M674.0 655.0h0M674.0 663.0h0M690.4 601.4h0M686.0 614.0h0M690.0 619.0h0M684.0 624.0h0M689.0 629.0h0M685.0 622.0h0M685.1 632.7h0M690.3 632.7h0M685.1 634.9h0M689.9 633.8h0M684.4 636.4h0M689.9 636.1h0M684.6 637.9h0M690.1 638.1h0M685.0 640.5h0M690.2 639.3h0M684.6 643.2h0M690.5 642.0h0M684.7 644.8h0M690.3 644.9h0M684.4 647.1h0M690.5 647.2h0M684.7 648.2h0M690.5 649.2h0M684.6 652.1h0M690.3 651.5h0M684.6 654.4h0M690.0 655.2h0M685.0 657.7h0M690.2 657.6h0M684.7 660.7h0M690.3 659.4h0M684.5 662.1h0M690.3 662.9h0M684.9 665.0h0M690.1 665.7h0M685.0 668.4h0M690.4 667.7h0M685.1 671.3h0M690.0 671.0h0M684.6 674.3h0M690.2 673.8h0M685.1 677.8h0M690.0 677.6h0M684.7 679.1h0M690.2 679.9h0M684.5 681.9h0M690.2 682.2h0M684.5 684.1h0M690.2 685.6h0M685.0 687.2h0M690.4 686.4h0M684.7 689.4h0M690.5 689.5h0M684.9 692.9h0M690.1 691.6h0M684.5 695.5h0M690.1 695.3h0M684.6 698.1h0M690.0 697.1h0M684.6 700.0h0M689.9 699.4h0M684.5 703.2h0M690.1 703.1h0M684.6 704.6h0M690.2 704.4h0M685.1 707.3h0M690.2 707.8h0M685.0 711.1h0M690.3 711.7h0M685.1 712.5h0M690.0 712.4h0M684.8 715.0h0M690.4 715.6h0M685.1 719.6h0M689.9 718.6h0M685.1 721.2h0M690.2 722.6h0M684.8 723.8h0M690.4 723.3h0M684.7 632.4h0M687.5 632.4h0M688.8 632.4h0M685.1 725.3h0M686.5 725.4h0M689.1 725.3h0M687.0 734.0h0M689.0 740.0h0M686.0 746.0h0M687.6 750.0h0M688.1 750.2h0M687.9 753.3h0M688.4 754.4h0M687.6 756.2h0M688.1 756.9h0M687.5 759.3h0M688.2 758.1h0M687.9 761.7h0M688.3 760.8h0M687.7 764.0h0M688.2 764.8h0M687.8 766.9h0M688.2 767.6h0M687.9 769.3h0M688.3 769.6h0M687.8 771.3h0M688.3 772.0h0M687.8 774.4h0M688.3 774.1h0M687.7 776.1h0M688.4 776.5h0M687.9 780.4h0M688.2 779.0h0M687.8 782.6h0M688.3 783.1h0M687.8 786.0h0M688.1 785.4h0M687.7 789.4h0M688.3 789.4h0M687.7 791.6h0M688.3 790.2h0M687.7 793.7h0M688.5 794.2h0M687.8 796.9h0M688.3 795.9h0M687.5 798.8h0M688.5 799.5h0M687.9 802.9h0M688.4 802.0h0M687.6 805.6h0M688.4 804.2h0M687.8 808.9h0M688.1 808.5h0M687.6 750.5h0M688.0 808.5h0M700.0 274.4h0M700.0 293.0h0M700.0 303.0h0M700.0 312.0h0M700.1 323.0h0M699.2 325.4h0M701.0 327.3h0M700.0 330.3h0M700.4 333.3h0M699.8 335.8h0M699.3 337.8h0M699.1 340.4h0M699.5 344.2h0M699.2 346.2h0M700.6 349.0h0M700.2 352.3h0M700.0 354.9h0M699.3 357.9h0M700.1 361.3h0M700.0 364.1h0M699.0 366.7h0M701.0 369.2h0M699.3 372.0h0M700.6 374.0h0M700.5 376.4h0M700.1 380.0h0M699.5 382.8h0M699.2 385.6h0M700.0 388.2h0M699.1 391.2h0M700.1 394.2h0M699.4 396.6h0M700.9 399.2h0M699.6 402.2h0M699.7 403.7h0M700.9 407.0h0M699.6 409.5h0M700.7 411.4h0M700.9 413.1h0M699.9 415.5h0M700.7 418.4h0M699.0 420.6h0M700.3 422.7h0M700.8 425.0h0M700.9 427.4h0M699.1 430.5h0M699.3 433.7h0M700.7 437.1h0M700.4 440.1h0M700.6 443.3h0M699.4 445.9h0M700.7 448.7h0M701.0 450.2h0M699.7 452.1h0M699.7 455.8h0M700.1 459.2h0M699.9 462.0h0M700.1 463.8h0M699.3 465.8h0M699.9 468.4h0M699.3 472.6h0M700.3 473.7h0M699.8 476.5h0M699.8 478.7h0M699.6 481.9h0M699.3 483.6h0M700.4 485.4h0M699.7 489.2h0M701.0 496.0h0M701.0 504.0h0M701.0 509.0h0M701.0 513.0h0M701.0 517.0h0M701.0 524.4h0M706.5 121.4h0M706.4 124.3h0M706.5 131.0h0M706.5 137.0h0M706.5 143.0h0M706.5 148.0h0M706.5 152.0h0M706.5 163.0h0M706.5 167.0h0M706.5 176.0h0M706.5 181.0h0M706.5 186.0h0M706.5 203.5h0M706.5 210.0h0M706.8 218.3h0M706.3 218.7h0M706.5 220.5h0M706.1 220.6h0M706.9 223.0h0M706.2 222.9h0M706.6 226.7h0M706.4 226.0h0M706.5 228.5h0M706.5 228.5h0M706.9 231.5h0M706.2 231.7h0M706.8 233.7h0M706.5 234.5h0M706.5 236.3h0M706.5 237.4h0M706.7 238.8h0M706.3 239.0h0M706.9 241.7h0M706.3 241.7h0M706.7 244.6h0M706.1 244.9h0M706.6 246.7h0M706.4 246.6h0M707.0 253.0h0M707.0 258.0h0M707.0 263.0h0M707.8 260.6h0M707.1 260.6h0M707.7 263.3h0M707.1 263.9h0M707.6 266.2h0M707.5 265.4h0M707.5 268.1h0M707.2 267.8h0M707.8 269.9h0M707.6 270.0h0M710.4 269.7h0M707.5 273.5h0M707.4 272.5h0M707.6 276.0h0M707.3 275.9h0M707.6 279.2h0M707.5 279.6h0M707.6 282.4h0M707.7 282.4h0M707.9 285.1h0M707.5 284.4h0M707.9 286.5h0M707.4 287.2h0M707.9 288.8h0M707.4 289.6h0M707.7 292.7h0M707.6 292.0h0M707.5 295.2h0M707.8 295.3h0M707.5 296.9h0M707.8 297.4h0M707.7 300.5h0M707.6 299.6h0M707.6 303.0h0M707.7 302.3h0M707.7 305.6h0M707.8 304.6h0M707.9 307.5h0M707.6 307.5h0M707.5 310.3h0M707.8 310.1h0M707.6 313.3h0M707.7 313.2h0M707.6 316.2h0M707.9 316.5h0M707.8 318.4h0M707.7 317.8h0M707.7 321.5h0M708.0 320.8h0M707.7 323.9h0M707.8 324.2h0M707.9 326.6h0M708.2 326.1h0M707.8 328.2h0M708.1 327.9h0M707.7 330.4h0M708.1 330.6h0M707.9 333.4h0M708.1 332.8h0M707.6 335.1h0M708.0 335.3h0M707.9 336.9h0M708.1 336.4h0M707.8 339.2h0M708.0 340.2h0M707.8 342.2h0M708.1 342.4h0M707.6 345.2h0M708.1 344.6h0M707.9 347.9h0M708.1 347.6h0M704.8 347.9h0M707.7 350.4h0M708.1 350.8h0M707.9 352.9h0M708.3 353.8h0M707.3 353.5h0M709.0 371.0h0M709.0 380.0h0M708.5 392.1h0M709.5 392.3h0M708.3 394.5h0M709.3 394.0h0M708.4 397.9h0M709.3 397.7h0M710.7 399.0h0M708.3 399.1h0M709.2 400.3h0M708.5 402.4h0M709.5 402.6h0M708.4 404.9h0M709.1 405.1h0M708.6 408.0h0M709.2 408.0h0M708.5 410.1h0M709.3 409.9h0M708.5 412.1h0M709.1 411.5h0M709.5 411.8h0M708.5 413.4h0M709.4 414.5h0M708.4 417.2h0M709.5 417.0h0M708.3 420.1h0M709.4 420.1h0M708.4 423.3h0M709.1 422.9h0M708.2 425.6h0M709.2 425.8h0M708.5 428.9h0M709.2 427.9h0M708.6 430.9h0M709.2 432.1h0M708.4 434.1h0M709.2 434.8h0M707.6 434.7h0M708.3 436.6h0M709.1 436.3h0M708.3 440.6h0M709.4 440.3h0M708.3 442.7h0M709.2 442.7h0M708.5 443.4h0M709.4 444.3h0M708.6 446.3h0M709.4 446.3h0M708.5 449.3h0M709.3 449.6h0M708.4 451.0h0M709.3 452.4h0M708.5 454.5h0M709.3 454.4h0M708.6 457.3h0M709.1 456.7h0M708.4 460.4h0M709.4 459.4h0M708.6 462.4h0M709.2 462.3h0M708.6 463.6h0M709.2 463.7h0M708.6 466.5h0M709.2 466.2h0M708.5 468.5h0M709.4 468.9h0M708.3 472.0h0M709.4 472.0h0M708.4 475.1h0M709.4 474.4h0M708.8 476.2h0M709.3 476.1h0M708.7 479.4h0M709.2 479.2h0M708.4 482.7h0M709.4 481.7h0M708.5 484.5h0M709.1 484.5h0M708.4 485.7h0M709.4 486.4h0M708.5 489.2h0M709.4 488.1h0M708.5 491.6h0M709.4 491.5h0M708.7 493.2h0M709.4 494.6h0M708.8 497.1h0M709.3 497.3h0M708.6 499.3h0M709.2 499.1h0M708.6 503.3h0M709.1 502.7h0M708.5 505.9h0M709.3 505.4h0M708.6 508.5h0M709.4 508.3h0M708.9 510.0h0M709.3 509.4h0M708.7 512.4h0M709.3 513.3h0M708.8 514.0h0M709.3 514.8h0M708.8 517.0h0M709.3 518.1h0M708.6 520.5h0M709.1 520.5h0M708.7 524.9h0M709.3 524.5h0M707.3 522.8h0M708.5 527.0h0M709.3 527.3h0M708.7 529.5h0M709.3 530.0h0M708.5 532.4h0M709.5 532.7h0M708.7 391.7h0M708.5 534.4h0M709.0 542.0h0M709.0 551.0h0M709.0 598.0h0M709.0 604.0h0M709.0 610.0h0M710.6 622.5h0M712.5 622.4h0M710.9 625.5h0M712.4 625.2h0M710.7 627.6h0M712.4 627.0h0M711.1 631.3h0M712.4 631.8h0M711.1 633.2h0M712.4 632.4h0M711.1 635.2h0M712.3 636.5h0M711.2 639.0h0M712.2 639.0h0M711.0 642.0h0M712.2 641.9h0M711.3 644.5h0M712.2 644.6h0M711.3 646.2h0M712.3 646.5h0M711.5 649.5h0M712.3 648.9h0M711.5 652.1h0M712.3 651.7h0M711.2 653.4h0M712.5 653.7h0M711.5 655.4h0M712.2 656.1h0M714.5 656.1h0M711.5 657.6h0M712.2 658.5h0M711.7 661.3h0M712.4 660.8h0M711.5 662.0h0M712.3 662.7h0M711.6 664.6h0M712.4 665.3h0M711.5 667.1h0M712.5 666.5h0M711.9 668.7h0M712.2 669.1h0M711.9 673.1h0M712.4 671.6h0M711.7 674.7h0M712.3 673.7h0M712.0 677.6h0M712.5 678.4h0M712.0 679.9h0M712.3 680.2h0M712.2 681.9h0M712.3 682.0h0M712.1 686.4h0M712.3 685.9h0M711.9 688.7h0M712.1 688.7h0M712.2 691.8h0M712.3 690.9h0M712.0 694.0h0M712.2 693.5h0M712.4 696.8h0M712.3 696.8h0M712.2 700.4h0M712.2 699.3h0M712.6 702.8h0M712.2 702.8h0M712.4 705.3h0M712.2 705.7h0M712.5 707.9h0M712.4 707.4h0M712.3 709.7h0M712.3 709.1h0M712.5 711.0h0M712.4 713.0h0M712.3 712.8h0M712.7 716.7h0M712.1 716.6h0M711.1 622.7h0M798.4 479.4h0M788.4 546.4h0M805.0 564.4h0M802.9 561.1h0M797.8 582.9h0M801.5 573.2h0M799.2 590.1h0M794.5 587.8h0M805.4 574.4h0M797.5 579.3h0M804.0 570.2h0M792.6 575.4h0M800.2 565.2h0M807.0 580.1h0M801.8 576.2h0M787.2 575.1h0M798.5 562.5h0M807.0 583.7h0M796.1 559.8h0M791.7 573.0h0M800.1 566.1h0M796.7 570.2h0M798.3 588.1h0M797.4 590.7h0M799.6 562.2h0M800.3 579.3h0M802.4 598.7h0M793.9 595.0h0M791.4 586.4h0M786.7 593.9h0M795.9 578.1h0M797.0 574.5h0M791.4 588.2h0M799.6 560.9h0M792.2 598.5h0M792.5 571.2h0M798.6 574.6h0M806.3 600.7h0M789.3 568.2h0M790.2 577.6h0M792.5 587.5h0M805.0 561.7h0M787.1 563.4h0M787.6 603.0h0M805.2 603.4h0M787.6 607.2h0M804.9 607.1h0M787.3 609.6h0M805.3 609.4h0M787.7 611.3h0M805.1 610.0h0M787.4 613.4h0M805.4 614.4h0M787.3 616.9h0M805.1 617.4h0M787.2 620.0h0M805.4 620.9h0M787.5 624.0h0M805.2 623.1h0M785.4 622.8h0M808.4 622.7h0M786.8 626.3h0M805.4 626.8h0M787.3 628.9h0M805.2 628.6h0M787.0 631.4h0M805.4 630.8h0M786.9 634.6h0M805.5 634.4h0M787.0 635.7h0M805.2 637.1h0M787.2 639.5h0M805.4 639.5h0M787.2 642.7h0M805.0 642.3h0M787.0 645.6h0M805.3 645.6h0M787.0 648.1h0M805.3 648.3h0M787.4 650.3h0M805.3 651.1h0M808.1 650.4h0M787.5 653.8h0M805.1 653.9h0M787.3 656.1h0M805.1 656.0h0M787.9 658.6h0M805.3 658.4h0M787.5 661.3h0M805.0 660.9h0M787.8 663.4h0M804.9 663.6h0M787.7 666.1h0M805.4 666.3h0M787.6 669.5h0M805.2 669.1h0M787.7 672.9h0M805.3 672.0h0M787.8 675.1h0M805.1 675.0h0M788.1 677.7h0M804.9 677.4h0M788.2 681.0h0M805.1 681.6h0M788.2 683.5h0M805.4 682.8h0M788.9 685.6h0M805.0 685.2h0M788.9 688.3h0M805.4 687.9h0M788.8 690.4h0M805.4 690.2h0M790.0 693.7h0M804.5 693.4h0M791.0 695.6h0M804.2 696.4h0M787.7 603.7h0M789.5 603.5h0M793.2 603.5h0M795.0 603.8h0M797.2 603.8h0M799.6 603.7h0M803.3 603.7h0M805.4 603.4h0M791.4 697.3h0M794.4 697.2h0M797.0 697.6h0M800.7 697.3h0M803.1 697.6h0M792.1 600.7h0M797.3 601.6h0M787.9 603.9h0M795.6 597.2h0M802.8 601.3h0M800.8 603.1h0M798.7 604.9h0M788.6 599.0h0M790.5 602.1h0M791.5 595.9h0M790.0 597.4h0M797.2 600.2h0M795.9 595.7h0M797.0 598.2h0M789.2 596.2h0M790.3 599.7h0M790.6 600.3h0M790.5 603.1h0M803.2 598.9h0M788.9 605.4h0M789.1 602.2h0M783.8 670.6h0M786.5 670.0h0M783.9 673.7h0M786.3 674.4h0M783.6 675.1h0M786.5 675.4h0M783.7 678.0h0M786.2 678.3h0M783.6 681.2h0M786.5 681.2h0M783.9 684.1h0M786.5 684.3h0M783.8 687.0h0M786.4 685.8h0M783.5 688.0h0M786.3 688.1h0M783.8 692.0h0" stroke="#000" stroke-width="5.2" stroke-linecap="round" fill="none"/>
<path d="M786.1 692.0h0M783.6 694.5h0M786.4 695.6h0M783.8 698.9h0M786.1 699.1h0M783.8 700.2h0M786.5 700.1h0M783.6 704.4h0M786.4 703.9h0M783.7 706.0h0M786.2 707.0h0M783.7 709.6h0M786.4 709.5h0M783.9 712.6h0M786.1 713.1h0M783.6 715.7h0M786.4 714.8h0M783.9 718.6h0M786.3 718.7h0M783.7 720.4h0M786.2 719.6h0M783.5 723.0h0M786.2 723.4h0M783.6 725.7h0M786.3 725.7h0M783.8 728.2h0M786.2 729.2h0M783.7 730.4h0M786.1 731.8h0M783.5 733.1h0M786.4 734.2h0M783.6 735.7h0M786.4 735.7h0M783.5 737.8h0M786.4 737.8h0M783.9 740.2h0M786.3 740.5h0M783.8 670.7h0M785.7 670.7h0M783.7 741.6h0M783.6 752.4h0M794.6 702.0h0M805.4 704.0h0M821.0 602.0h0M821.0 606.0h0M821.0 611.0h0M821.0 628.0h0M821.0 638.0h0M821.0 643.0h0M821.0 647.0h0M821.0 657.0h0M821.0 661.0h0M821.0 666.0h0M821.0 671.0h0M821.0 678.0h0M821.0 687.0h0M821.0 692.0h0M845.6 573.0h0M854.4 623.4h0M844.7 608.6h0M846.9 608.0h0M844.9 611.5h0M846.7 612.0h0M845.0 614.2h0M846.9 615.1h0M845.0 617.0h0M847.0 617.5h0M844.9 619.9h0M846.8 620.1h0M844.7 621.1h0M846.7 621.6h0M844.9 624.8h0M846.7 624.3h0M844.8 627.8h0M846.9 628.0h0M845.2 630.8h0M847.1 631.4h0M845.2 633.0h0M847.1 633.9h0M845.0 636.4h0M846.9 636.4h0M845.3 637.4h0M847.1 637.8h0M848.4 638.2h0M844.9 639.5h0M847.1 640.2h0M845.2 641.9h0M846.9 642.3h0M845.1 644.6h0M846.9 645.4h0M845.1 647.5h0M847.2 647.3h0M845.2 650.5h0M847.1 651.3h0M845.4 652.9h0M847.2 652.6h0M845.4 654.9h0M847.0 655.8h0M845.1 658.8h0M847.0 658.8h0M845.4 661.1h0M847.3 660.6h0M845.4 663.0h0M847.1 662.2h0M845.5 666.0h0M847.1 666.3h0M844.1 665.6h0M845.3 668.8h0M847.0 668.5h0M845.5 671.0h0M847.0 671.6h0M845.4 673.0h0M847.3 672.4h0M845.4 675.2h0M847.3 675.7h0M845.6 677.6h0M847.1 677.9h0M845.4 680.4h0M847.3 680.2h0M845.5 683.0h0M847.4 683.5h0M845.5 686.4h0M847.2 686.1h0M845.8 687.8h0M847.4 688.1h0M845.7 691.8h0M847.3 691.5h0M845.7 693.8h0M847.4 694.2h0M845.9 697.7h0M847.4 696.9h0M847.7 700.0h0M848.1 700.6h0M847.9 701.8h0M848.3 702.1h0M848.0 705.2h0M848.3 704.5h0M847.7 707.2h0M848.3 708.5h0M848.0 709.9h0M848.6 710.6h0M847.9 712.3h0M848.5 711.9h0M848.2 716.1h0M848.5 715.8h0M848.1 718.9h0M848.8 718.2h0M848.3 721.1h0M848.9 719.7h0M848.3 722.8h0M848.9 722.3h0M848.4 724.7h0M849.0 724.0h0M848.3 728.2h0M848.9 728.1h0M848.5 731.0h0M849.2 730.5h0M848.4 733.7h0M849.2 733.9h0M848.8 737.6h0M849.1 736.5h0M848.8 740.9h0M849.4 740.4h0M848.6 742.8h0M849.4 742.7h0M848.8 745.1h0M849.6 746.1h0M848.8 748.2h0M849.5 748.0h0M848.9 751.2h0M849.7 751.1h0M849.1 753.6h0M849.8 754.7h0M849.1 756.3h0M849.7 756.6h0M849.1 757.4h0M849.7 758.5h0M849.4 761.0h0M849.7 760.7h0M849.3 763.8h0M849.8 763.2h0M849.4 765.6h0M850.0 765.8h0M849.5 769.2h0M850.0 768.3h0M849.6 770.7h0M850.1 771.0h0M849.4 774.2h0M850.2 774.4h0M849.6 776.4h0M850.2 776.3h0M844.9 608.6h0M850.0 776.6h0M853.2 651.7h0M855.0 651.2h0M852.9 654.7h0M855.4 653.8h0M852.7 656.8h0M855.8 656.2h0M852.4 660.0h0M856.3 659.3h0M852.2 661.9h0M856.8 661.7h0M851.9 665.1h0M857.4 665.8h0M851.9 668.1h0M857.5 669.2h0M851.7 671.5h0M857.0 671.9h0M851.4 675.1h0M857.1 675.2h0M851.4 677.6h0M857.1 676.7h0M851.5 679.6h0M857.5 680.2h0M851.5 681.3h0M857.3 682.0h0M851.9 683.9h0M856.9 684.5h0M851.7 687.0h0M857.0 686.5h0M851.7 689.4h0M857.0 690.2h0M851.5 692.5h0M857.0 693.1h0M860.2 693.6h0M851.7 696.0h0M856.9 695.7h0M852.0 700.0h0M857.0 699.2h0M851.4 701.6h0M857.2 701.0h0M852.0 704.2h0M857.2 703.0h0M851.9 705.7h0M857.0 705.2h0M851.9 707.5h0M857.2 708.1h0M851.5 710.0h0M857.1 710.0h0M852.1 713.6h0M857.4 712.8h0M852.0 716.2h0M857.2 715.6h0M852.1 719.2h0M857.5 719.0h0M850.3 719.3h0M851.5 721.7h0M857.0 722.0h0M852.0 723.6h0M857.5 723.3h0M851.9 727.6h0M857.0 726.2h0M851.7 729.9h0M857.1 729.6h0M851.6 732.3h0M857.0 732.9h0M851.9 734.3h0M857.2 734.8h0M851.5 735.5h0M851.6 736.4h0M857.4 736.2h0M851.5 739.9h0M857.5 740.1h0M852.1 742.7h0M857.4 743.7h0M853.3 651.8h0M851.3 745.3h0M854.2 745.6h0M855.6 745.2h0M851.4 809.4h0M851.4 839.4h0M863.0 481.4h0M863.0 486.4h0M863.0 492.0h0M863.0 495.0h0M863.0 500.0h0M863.0 504.0h0M863.0 509.0h0M863.0 514.0h0M861.9 520.2h0M864.5 520.5h0M861.8 523.4h0M864.1 523.2h0M861.6 526.0h0M864.4 526.2h0M861.6 526.6h0M861.5 529.0h0M864.3 529.2h0M861.9 533.1h0M864.5 532.2h0M861.6 535.0h0M864.3 535.6h0M861.7 537.9h0M864.1 537.3h0M861.8 540.4h0M864.5 539.7h0M861.8 542.9h0M864.2 542.9h0M861.7 544.0h0M864.2 544.3h0M861.7 548.0h0M864.2 548.0h0M861.7 550.0h0M864.2 549.9h0M861.7 552.4h0M864.4 552.9h0M861.8 555.5h0M864.3 555.7h0M861.5 559.0h0M864.1 557.8h0M861.7 561.0h0M864.4 561.5h0M861.5 562.5h0M864.3 563.5h0M861.8 565.9h0M864.1 565.3h0M861.7 568.5h0M864.1 567.6h0M861.8 570.8h0M864.2 571.1h0M861.8 573.8h0M864.3 573.6h0M861.6 576.9h0M864.5 577.5h0M861.7 578.9h0M864.3 578.7h0M861.8 581.4h0M864.2 580.6h0M861.7 584.0h0M864.3 583.2h0M861.8 587.1h0M864.2 586.6h0M861.5 589.2h0M864.4 590.0h0M861.5 591.6h0M864.5 592.4h0M861.6 520.4h0M864.0 520.4h0M861.8 594.5h0M861.8 517.8h0M863.2 518.2h0M862.2 516.9h0M864.0 519.1h0M861.0 603.0h0M861.0 607.0h0M863.4 613.4h0M910.4 480.4h0M910.4 501.4h0M910.4 509.0h0M910.7 512.6h0M910.4 516.6h0M911.6 519.5h0M910.8 523.3h0M910.8 526.6h0M911.8 530.6h0M911.3 533.8h0M911.7 536.8h0M910.8 539.4h0M910.6 541.5h0M911.7 544.8h0M911.0 548.3h0M910.9 551.6h0M910.6 554.0h0M911.3 556.8h0M911.6 560.0h0M911.0 579.0h0M910.4 595.4h0M910.8 604.1h0M911.3 605.1h0M910.8 606.4h0M911.2 607.6h0M910.7 609.6h0M911.1 610.3h0M910.9 613.2h0M911.4 613.7h0M910.8 615.8h0M911.1 615.6h0M910.7 617.4h0M911.4 618.0h0M910.8 620.1h0M911.4 620.1h0M910.8 622.5h0M911.2 622.1h0M910.8 625.8h0M911.2 626.1h0M910.7 628.4h0M911.1 629.2h0M910.7 631.3h0M911.2 631.0h0M910.6 633.7h0M911.3 634.1h0M910.8 636.4h0M911.3 636.1h0M910.8 638.7h0M911.3 638.8h0M910.7 641.1h0M911.2 641.9h0M910.7 644.8h0M911.2 643.9h0M910.7 646.1h0M911.1 646.5h0M910.6 649.3h0M911.2 649.4h0M910.5 651.1h0M911.3 652.0h0M910.7 654.9h0M911.4 654.5h0M910.7 657.5h0M911.1 657.3h0M910.8 660.0h0M911.3 660.3h0M910.5 662.3h0M911.4 662.0h0M910.8 664.9h0M911.2 664.5h0M910.7 668.1h0M911.5 668.0h0M910.5 670.7h0M911.1 670.7h0M910.7 673.5h0M911.5 674.0h0M910.7 675.7h0M911.2 675.7h0M910.7 679.3h0M911.4 679.5h0M910.9 682.2h0M911.4 682.7h0M910.6 604.7h0M911.1 684.3h0M940.4 520.4h0M939.4 639.4h0M939.4 652.4h0M938.8 663.9h0M940.3 664.5h0M938.6 667.2h0M940.4 667.7h0M938.6 670.6h0M940.3 671.6h0M938.5 673.1h0M940.2 674.0h0M938.6 676.2h0M940.1 676.3h0M938.6 679.8h0M940.2 679.9h0M938.9 681.2h0M940.3 681.1h0M938.8 685.0h0M940.5 684.4h0M938.7 687.5h0M940.1 687.1h0M938.8 688.9h0M940.2 688.9h0M938.3 690.2h0M938.8 690.6h0M940.5 690.9h0M938.8 693.5h0M940.3 694.5h0M938.6 696.8h0M940.3 696.3h0M938.6 699.2h0M940.5 699.9h0M938.9 701.7h0M940.2 701.9h0M938.6 705.3h0M940.5 706.0h0M938.6 709.0h0M940.2 709.1h0M938.5 711.2h0M940.5 712.3h0M938.6 714.8h0M940.2 713.9h0M938.7 717.0h0M940.2 716.3h0M938.6 718.6h0M940.5 719.5h0M936.7 717.6h0M938.7 721.5h0M940.5 720.5h0M938.9 722.3h0M940.5 722.1h0M938.6 725.2h0M940.4 725.4h0M938.6 728.9h0M940.3 729.1h0M938.6 731.4h0M940.4 731.8h0M942.7 731.3h0M938.7 733.2h0M940.4 734.3h0M938.7 736.6h0M940.1 735.6h0M938.8 737.4h0M940.4 738.0h0M938.4 664.6h0M938.6 739.3h0M940.8 800.0h0M941.3 799.9h0M943.0 799.6h0M940.6 803.5h0M941.1 803.1h0M940.6 806.1h0M941.4 804.9h0M940.6 808.1h0M941.4 808.5h0M940.9 810.8h0M941.3 811.1h0M940.8 814.5h0M941.1 813.6h0M940.8 816.9h0M941.1 817.4h0M940.7 819.6h0M941.3 819.6h0M940.9 822.5h0M941.3 822.9h0M940.5 824.5h0M941.4 824.0h0M940.8 826.7h0M941.2 826.9h0M940.7 830.1h0M941.2 830.0h0M940.7 832.3h0M941.2 833.8h0M941.0 800.7h0M940.6 835.5h0M950.4 761.4h0M948.6 784.2h0M950.4 783.5h0M948.7 786.8h0M950.2 786.6h0M948.8 788.9h0M950.4 788.6h0M948.6 791.0h0M950.5 791.7h0M948.9 792.7h0M950.4 792.7h0M948.8 794.8h0M950.4 794.5h0M948.6 798.8h0M950.1 799.2h0M948.5 801.9h0M950.2 801.0h0M948.5 804.1h0M950.1 803.5h0M948.6 807.6h0M950.2 807.3h0M948.6 810.1h0M950.5 809.7h0M948.9 811.5h0M950.2 811.9h0M948.6 814.1h0M950.5 815.4h0M948.8 817.4h0M950.5 818.5h0M948.8 820.2h0M950.2 821.4h0M948.0 819.6h0M948.8 822.9h0M950.4 823.6h0M948.8 825.1h0M950.5 825.1h0M948.6 828.2h0M950.4 828.8h0M948.8 830.7h0M950.4 830.9h0M948.7 832.4h0M950.2 832.8h0M948.3 783.7h0M948.2 832.5h0M988.9 650.9h0M990.4 651.1h0M988.6 652.0h0M990.1 652.5h0M988.6 656.4h0M990.4 655.3h0M988.6 657.2h0M990.1 656.9h0M988.5 660.1h0M990.4 660.7h0M988.6 663.0h0M990.1 663.9h0M988.7 665.3h0M990.3 665.7h0M988.8 667.6h0M990.3 668.7h0M988.8 672.2h0M990.2 671.4h0M988.7 674.2h0M990.5 674.0h0M988.5 677.2h0M990.3 676.9h0M988.9 678.5h0M990.2 679.0h0M988.7 681.7h0M990.3 680.7h0M988.8 683.1h0M990.3 683.1h0M988.8 686.6h0M990.1 686.4h0M988.8 688.6h0M990.1 689.7h0M988.8 691.9h0M990.4 692.3h0M988.6 693.0h0M990.5 693.7h0M988.6 697.3h0M990.2 696.5h0M988.7 699.5h0M990.2 698.5h0M988.7 701.1h0M990.1 702.0h0M988.7 704.0h0M990.5 704.5h0M988.9 706.7h0M990.4 706.3h0M988.6 708.9h0M990.3 708.9h0M988.7 712.7h0M990.2 711.8h0M988.7 715.5h0M990.5 715.5h0M988.9 718.0h0M990.5 717.3h0M988.6 719.0h0M990.2 719.4h0M988.6 721.4h0M990.1 721.4h0M988.9 724.7h0M990.1 724.0h0M988.6 727.5h0M990.3 727.0h0M988.8 730.4h0M990.1 730.3h0M988.8 732.0h0M990.1 732.1h0M988.7 734.0h0M990.1 733.5h0M988.7 738.1h0M990.4 737.2h0M988.8 740.1h0M990.1 740.7h0M988.7 743.4h0M990.1 744.2h0M988.6 745.5h0M990.2 745.9h0M988.6 748.1h0M990.1 747.5h0M992.4 746.9h0M988.9 751.0h0M990.2 750.6h0M988.6 752.1h0M990.2 752.4h0M988.7 755.1h0M990.3 755.2h0M988.5 757.3h0M990.2 756.6h0M988.7 760.7h0M990.4 759.8h0M988.8 763.1h0M990.3 762.2h0M988.8 650.5h0M989.0 765.4h0M987.4 807.4h0M998.4 550.4h0M998.0 556.0h0M1001.0 559.0h0M994.4 562.4h0M1005.4 562.4h0M995.0 569.0h0M1000.0 571.0h0M998.4 576.4h0M1006.0 582.0h0M1008.0 586.0h0M1015.4 601.4h0M989.0 616.0h0M994.5 591.4h0M1006.2 590.1h0M994.5 593.9h0M1006.8 594.4h0M994.5 596.8h0M1006.8 596.7h0M994.5 599.8h0M1007.1 599.2h0M994.4 602.3h0M1007.3 602.6h0M994.5 604.1h0M1007.2 604.1h0M993.9 605.8h0M1007.4 606.8h0M994.2 609.0h0M1007.4 608.8h0M994.2 611.6h0M1007.5 611.1h0M993.7 614.3h0M1007.6 614.2h0M993.9 617.4h0M1008.0 617.4h0M993.6 620.2h0M1008.5 620.8h0M994.0 622.1h0M1008.4 623.6h0M994.1 624.2h0M1008.2 625.0h0M994.2 627.6h0M1008.2 627.9h0M994.2 631.6h0M1008.2 631.2h0M994.3 632.9h0M1008.3 633.9h0M994.3 634.9h0M1008.1 634.9h0M994.0 639.3h0M1008.5 638.6h0M994.4 642.1h0M1008.8 640.7h0M993.8 642.9h0M1008.2 643.8h0M994.3 645.7h0M1008.3 644.6h0M994.0 647.4h0M1008.4 647.1h0M994.3 650.3h0M1008.3 649.5h0M994.1 652.6h0M1008.8 652.1h0M994.6 654.1h0M1009.0 654.5h0M994.1 657.4h0M1008.8 657.4h0M994.3 659.3h0M1008.5 659.9h0M994.5 663.0h0M1009.2 662.2h0M994.7 664.6h0M1009.1 664.6h0M994.4 667.8h0M1009.2 667.5h0M994.3 669.2h0M1008.8 670.4h0M994.5 672.0h0M1008.8 673.3h0M994.6 674.8h0M1008.9 675.1h0M994.6 677.0h0M1009.4 676.9h0M1010.6 677.3h0M994.4 679.3h0M1009.0 679.0h0M994.4 681.8h0M1008.9 681.7h0M1010.8 682.0h0M994.9 685.4h0M1009.3 684.4h0M995.1 686.7h0M1009.5 687.2h0M994.9 688.7h0M1008.4 690.2h0M995.7 691.5h0M1007.2 691.2h0M996.3 694.4h0M1004.4 694.0h0M1005.1 694.8h0M997.2 697.2h0M1001.6 697.5h0M994.9 590.8h0M997.5 590.7h0M1000.3 590.9h0M1003.4 590.4h0M1005.3 590.6h0M996.5 698.5h0M999.4 698.4h0M996.4 585.9h0M995.0 584.7h0M1000.5 586.6h0M1003.6 584.0h0M997.0 587.9h0M1002.7 585.8h0M997.0 583.9h0M998.9 586.5h0M1004.0 585.0h0M998.6 590.2h0M997.0 583.0h0M1006.1 591.9h0M998.3 585.5h0M1000.0 584.7h0M1003.9 591.6h0M1003.0 586.7h0M1008.0 646.3h0M1012.2 645.9h0M1007.7 649.0h0M1012.5 648.0h0M1008.0 651.3h0M1012.7 650.7h0M1007.6 654.4h0M1013.1 654.2h0M1007.6 656.8h0M1013.4 657.8h0M1007.8 658.7h0M1013.3 658.9h0M1007.9 661.2h0M1013.5 662.0h0M1007.7 664.5h0M1013.9 664.2h0M1007.4 667.1h0M1014.4 667.5h0M1007.6 669.6h0M1014.4 668.9h0M1008.0 671.6h0M1014.5 672.4h0M1007.9 675.0h0M1015.0 675.8h0M1008.1 678.6h0M1015.3 678.2h0M1007.7 680.4h0M1015.5 680.6h0M1007.7 683.8h0M1015.8 684.0h0M1007.7 685.6h0M1015.9 686.3h0M1008.0 689.1h0M1015.9 689.3h0M1006.9 687.4h0M1008.1 692.2h0M1015.9 692.1h0M1005.6 692.3h0M1008.3 694.6h0M1016.1 694.1h0M1008.1 697.3h0M1015.9 697.0h0M1008.3 700.5h0M1016.0 700.6h0M1008.9 701.5h0M1016.5 702.5h0M1008.1 701.0h0M1009.2 705.2h0M1016.4 704.7h0M1009.5 707.7h0M1016.6 707.6h0M1009.6 710.1h0M1016.3 709.9h0M1017.1 709.0h0M1009.2 712.3h0M1016.6 712.2h0M1009.7 715.6h0M1016.0 714.7h0M1010.1 717.8h0M1016.6 717.5h0M1010.2 720.7h0M1016.3 720.8h0M1010.2 721.9h0M1015.9 721.8h0M1010.8 724.5h0M1016.3 725.1h0M1010.7 727.9h0M1015.9 727.9h0M1011.3 731.1h0M1016.3 730.5h0M1011.1 733.5h0M1016.4 733.5h0M1011.5 735.7h0M1016.2 735.5h0M1011.4 739.2h0M1016.2 739.1h0M1011.7 740.8h0M1016.3 741.4h0M1012.2 742.5h0M1016.5 743.1h0M1012.5 745.2h0M1015.9 746.0h0M1012.4 748.8h0M1016.1 748.7h0M1007.8 645.5h0M1011.3 645.4h0M1012.9 751.4h0M1014.3 751.3h0M1016.8 751.3h0M1016.4 763.4h0M1008.0 745.0h0M1099.4 560.0h0M1099.4 565.0h0M1099.5 570.7h0M1099.2 570.2h0M1099.2 573.4h0M1099.1 572.9h0M1099.2 576.2h0M1099.1 576.4h0M1099.2 577.3h0M1099.2 578.6h0M1099.1 580.2h0M1099.4 580.6h0M1099.5 583.7h0M1099.4 583.8h0M1099.2 586.6h0M1099.1 586.0h0M1099.4 589.7h0M1099.2 589.0h0M1099.5 590.9h0M1099.1 591.5h0M1099.2 593.9h0M1099.3 594.9h0M1099.3 595.9h0M1099.1 596.5h0M1099.4 599.7h0M1099.3 599.4h0M1099.3 602.8h0M1099.5 602.6h0M1099.2 604.1h0M1099.4 604.5h0M1099.1 606.4h0M1099.2 607.0h0M1099.4 609.5h0M1099.3 610.2h0M1099.2 613.2h0M1099.3 612.5h0M1098.9 570.7h0M1099.3 615.4h0M1153.4 414.4h0M1152.0 538.4h0M1152.0 565.4h0M1152.0 572.4h0M1152.0 583.0h0M1152.0 587.0h0M1152.0 591.0h0M1152.0 595.0h0M1152.0 599.0h0M1150.0 589.0h0M1154.0 597.0h0M1150.4 606.3h0M1152.7 606.3h0M1150.4 607.6h0M1152.9 606.8h0M1149.9 611.2h0M1153.0 610.4h0M1149.9 612.3h0M1153.2 613.7h0M1149.5 616.0h0M1153.3 614.9h0M1149.4 619.1h0M1152.9 619.0h0M1150.1 622.0h0M1153.0 621.8h0M1150.1 623.2h0M1153.3 624.0h0M1150.0 625.5h0M1153.3 625.8h0M1149.5 630.0h0M1153.0 630.0h0M1149.9 632.6h0M1153.0 632.8h0M1150.1 634.5h0M1153.2 633.7h0M1150.1 637.9h0M1153.4 637.0h0M1149.5 638.9h0M1153.0 639.9h0M1150.1 641.4h0M1153.0 641.8h0M1150.0 644.7h0M1153.3 644.7h0M1150.0 647.6h0M1153.4 646.4h0M1149.9 650.9h0M1153.2 649.7h0M1150.0 652.3h0M1153.4 652.7h0M1148.1 653.7h0M1149.9 656.5h0M1152.9 655.6h0M1149.9 658.3h0M1152.9 658.2h0M1149.9 660.4h0M1153.4 660.2h0M1150.1 664.9h0M1153.4 664.2h0M1150.1 667.3h0M1153.0 667.5h0M1149.9 670.0h0M1153.2 670.1h0M1149.8 673.0h0M1153.5 674.1h0M1149.7 676.2h0M1153.1 676.0h0M1149.7 679.4h0M1153.2 678.5h0M1149.9 682.3h0M1153.1 682.3h0M1149.9 684.5h0M1153.5 684.4h0M1149.6 686.7h0M1153.0 686.1h0M1153.7 685.2h0M1150.0 688.5h0M1153.0 689.9h0M1150.1 692.3h0M1152.9 692.3h0M1156.2 691.3h0M1150.4 605.6h0M1152.7 605.6h0M1149.3 692.4h0M1152.3 692.3h0" stroke="#000" stroke-width="5.2" stroke-linecap="round" fill="none"/>
<path d="M1150.9 603.9h0M1151.0 602.8h0M1151.8 602.8h0M1152.0 704.0h0M1159.4 841.4h0M1159.6 738.9h0M1160.5 737.9h0M1159.5 739.7h0M1160.4 741.2h0M1159.1 739.2h0M1159.6 743.3h0M1160.1 743.0h0M1159.6 745.6h0M1160.2 744.8h0M1159.6 747.8h0M1160.4 747.7h0M1159.7 749.5h0M1160.5 749.9h0M1159.7 751.5h0M1160.5 752.1h0M1159.9 753.5h0M1160.3 754.8h0M1159.8 756.8h0M1160.2 755.9h0M1159.8 759.1h0M1160.4 759.0h0M1162.1 759.8h0M1159.7 761.6h0M1160.2 762.2h0M1159.7 765.7h0M1160.1 765.3h0M1159.5 738.5h0M1159.4 767.3h0M1187.4 518.4h0M1187.4 524.4h0M1185.4 538.4h0M1187.0 545.0h0M1190.0 548.0h0M1187.0 551.0h0M1185.4 557.4h0M1185.4 565.2h0M1189.9 564.8h0M1185.1 566.7h0M1190.0 566.4h0M1185.4 570.3h0M1189.8 570.1h0M1184.0 571.4h0M1185.5 573.1h0M1189.8 572.2h0M1185.5 574.2h0M1189.7 575.0h0M1185.7 576.5h0M1189.7 576.4h0M1185.4 580.4h0M1189.7 579.4h0M1185.4 583.1h0M1190.0 583.0h0M1185.4 585.8h0M1189.9 585.4h0M1185.1 589.6h0M1189.8 588.6h0M1185.1 592.0h0M1189.9 592.6h0M1185.4 594.5h0M1189.8 594.5h0M1185.7 597.5h0M1189.9 597.9h0M1185.5 599.5h0M1189.8 600.8h0M1185.4 603.7h0M1189.9 604.2h0M1185.3 606.8h0M1189.7 605.9h0M1185.6 609.6h0M1189.6 608.3h0M1185.6 610.3h0M1189.8 610.5h0M1185.6 612.7h0M1189.6 612.8h0M1185.7 615.2h0M1189.8 616.1h0M1185.2 618.3h0M1190.1 617.3h0M1185.7 620.4h0M1190.0 620.2h0M1185.6 621.3h0M1189.9 622.0h0M1185.5 624.8h0M1189.9 623.9h0M1185.7 627.8h0M1190.0 627.8h0M1185.6 630.2h0M1189.9 630.0h0M1185.4 632.1h0M1190.1 632.0h0M1185.2 635.3h0M1189.9 635.8h0M1185.5 638.8h0M1189.7 638.1h0M1185.2 640.3h0M1189.5 640.5h0M1185.6 642.7h0M1189.9 644.2h0M1185.2 645.3h0M1189.6 645.1h0M1185.6 648.0h0M1190.0 648.9h0M1192.6 647.6h0M1185.3 651.4h0M1190.1 651.6h0M1185.1 653.1h0M1189.6 652.9h0M1185.3 655.9h0M1189.6 655.4h0M1192.2 655.5h0M1185.9 657.7h0M1189.4 658.0h0M1185.5 659.7h0M1189.7 658.9h0M1183.9 658.8h0M1186.2 662.0h0M1189.4 662.9h0M1186.5 664.4h0M1189.0 664.8h0M1186.7 666.4h0M1188.8 667.3h0M1185.4 668.1h0M1186.6 669.9h0M1189.1 668.9h0M1186.9 673.0h0M1188.7 672.9h0M1187.3 674.9h0M1188.4 675.8h0M1185.2 564.9h0M1188.0 564.9h0M1187.2 676.4h0M1189.0 684.0h0M1190.0 688.0h0M1182.4 682.4h0M1182.4 695.4h0M1182.4 700.0h0M1182.7 706.0h0M1184.1 705.1h0M1182.5 708.7h0M1184.4 709.2h0M1182.5 710.6h0M1184.2 711.8h0M1182.8 714.2h0M1184.2 713.7h0M1180.2 713.6h0M1182.7 715.5h0M1184.2 715.4h0M1182.5 719.0h0M1184.1 718.3h0M1182.7 721.0h0M1184.2 720.5h0M1182.6 723.7h0M1184.5 722.8h0M1182.5 725.4h0M1184.2 725.3h0M1182.8 727.8h0M1184.3 727.6h0M1182.8 730.9h0M1184.3 731.2h0M1182.6 732.7h0M1184.5 733.3h0M1182.7 736.6h0M1184.5 735.2h0M1182.9 738.6h0M1184.3 739.1h0M1182.6 742.4h0M1184.3 742.7h0M1182.8 745.4h0M1184.1 744.5h0M1182.8 746.3h0M1184.2 746.6h0M1182.6 749.6h0M1184.4 750.4h0M1182.7 751.8h0M1184.3 751.9h0M1182.9 755.1h0M1184.2 755.0h0M1182.8 757.2h0M1184.2 756.7h0M1182.6 760.2h0M1184.3 760.2h0M1182.6 762.2h0M1184.3 762.7h0M1182.7 765.4h0M1184.1 764.9h0M1182.6 768.7h0M1184.4 767.5h0M1182.6 771.5h0M1184.4 771.4h0M1182.8 772.1h0M1184.3 773.3h0M1182.6 775.0h0M1184.3 775.0h0M1182.9 778.2h0M1184.3 778.6h0M1182.5 782.4h0M1184.2 781.4h0M1182.6 705.5h0M1183.1 782.4h0M1178.0 758.0h0M1178.0 764.0h0M1177.9 773.5h0M1178.1 773.2h0M1177.8 776.3h0M1178.1 775.3h0M1177.6 779.3h0M1178.1 779.2h0M1177.7 782.5h0M1178.5 782.7h0M1177.8 783.9h0M1178.3 783.8h0M1177.6 787.7h0M1178.2 787.0h0M1177.8 791.0h0M1178.2 791.0h0M1177.6 791.8h0M1178.1 792.8h0M1177.8 794.1h0M1178.4 795.5h0M1177.6 798.3h0M1178.5 797.3h0M1177.7 801.2h0M1178.4 801.3h0M1177.8 802.3h0M1178.2 803.6h0M1177.7 805.7h0M1178.3 805.1h0M1177.8 809.3h0M1178.3 808.7h0M1177.8 810.7h0M1178.4 810.9h0M1177.9 813.3h0M1178.4 812.5h0M1177.7 815.4h0M1178.5 815.4h0M1177.8 818.6h0M1178.2 818.6h0M1177.6 821.1h0M1178.4 821.3h0M1177.8 824.5h0M1178.2 824.3h0M1177.1 773.4h0M1177.4 825.4h0M1196.4 781.0h0M1197.0 784.0h0M1196.6 788.7h0M1201.3 787.8h0M1196.6 791.4h0M1201.1 791.3h0M1197.1 793.0h0M1201.1 793.7h0M1196.5 795.7h0M1201.1 795.1h0M1197.0 798.4h0M1201.1 797.6h0M1196.9 800.7h0M1201.4 801.9h0M1196.4 803.6h0M1201.1 804.3h0M1196.7 805.0h0M1200.9 806.1h0M1195.9 805.5h0M1196.4 808.3h0M1201.3 807.4h0M1197.0 811.3h0M1201.4 810.6h0M1196.7 812.9h0M1201.4 814.0h0M1195.1 812.1h0M1197.1 815.3h0M1201.2 815.3h0M1202.3 814.8h0M1196.7 819.2h0M1201.1 818.0h0M1196.8 820.8h0M1201.0 820.2h0M1196.9 822.7h0M1200.9 822.6h0M1196.7 825.0h0M1201.5 825.2h0M1196.6 827.4h0M1201.2 827.8h0M1197.1 831.2h0M1200.9 830.4h0M1196.5 832.5h0M1201.2 833.4h0M1196.9 836.3h0M1201.1 835.5h0M1202.0 835.1h0M1196.9 838.1h0M1201.2 838.9h0M1196.4 788.5h0M1199.9 788.8h0M1196.5 839.2h0M1199.2 839.3h0M1200.2 842.4h0M1218.4 560.4h0M1219.0 591.0h0M1219.0 597.0h0M1219.0 603.0h0M1218.7 609.4h0M1220.2 608.3h0M1218.8 611.5h0M1220.2 610.2h0M1218.7 614.2h0M1220.2 614.5h0M1218.5 616.9h0M1220.2 617.1h0M1218.9 619.9h0M1220.2 620.1h0M1218.8 623.2h0M1220.2 623.2h0M1218.9 625.9h0M1220.2 626.4h0M1218.9 629.5h0M1220.2 630.0h0M1218.9 631.8h0M1220.4 632.0h0M1218.6 633.7h0M1220.4 633.2h0M1218.7 636.5h0M1220.3 636.7h0M1218.7 639.3h0M1220.2 638.2h0M1218.8 641.4h0M1220.3 642.5h0M1218.5 645.9h0M1220.2 645.8h0M1218.9 648.5h0M1220.1 648.0h0M1218.6 650.7h0M1220.2 650.1h0M1218.7 653.3h0M1220.4 653.7h0M1218.8 655.6h0M1220.2 656.8h0M1218.5 659.3h0M1220.4 660.1h0M1218.8 662.0h0M1220.2 662.6h0M1218.6 665.1h0M1220.2 664.8h0M1218.7 667.1h0M1220.3 668.0h0M1218.5 670.0h0M1220.4 669.8h0M1218.5 671.3h0M1220.4 670.8h0M1218.7 673.9h0M1220.5 673.4h0M1218.1 608.4h0M1218.6 674.5h0M1219.0 683.0h0M1219.0 688.0h0M1219.0 693.0h0M1250.0 607.4h0M1250.0 623.4h0M1250.0 633.4h0M1250.0 642.0h0M1250.0 653.4h0M1250.0 661.0h0M1250.0 665.0h0M1249.2 672.9h0M1251.5 673.0h0M1249.3 674.8h0M1251.1 674.3h0M1249.3 678.7h0M1251.2 677.8h0M1248.2 679.3h0M1249.3 680.7h0M1251.2 680.5h0M1249.4 683.4h0M1251.5 684.3h0M1249.2 686.8h0M1251.1 686.7h0M1249.4 689.7h0M1251.3 689.1h0M1249.5 692.7h0M1251.2 692.9h0M1249.5 695.1h0M1251.2 695.7h0M1249.2 697.7h0M1251.4 697.0h0M1249.2 699.6h0M1251.4 700.3h0M1249.3 703.0h0M1251.5 702.6h0M1249.2 706.6h0M1251.2 705.6h0M1249.1 708.5h0M1251.2 708.3h0M1249.3 712.7h0M1251.2 711.7h0M1249.2 714.5h0M1251.5 715.1h0M1249.3 717.4h0M1251.2 717.2h0M1249.2 719.9h0M1251.1 719.6h0M1249.5 720.9h0M1251.4 721.3h0M1249.4 723.3h0M1251.4 723.7h0M1249.2 725.2h0M1251.2 725.4h0M1249.4 728.5h0M1251.4 728.6h0M1249.2 729.6h0M1251.5 731.0h0M1249.5 733.8h0M1251.2 732.8h0M1249.3 734.9h0M1251.2 736.4h0M1249.5 739.3h0M1251.3 738.6h0M1248.8 672.6h0M1251.1 672.6h0M1248.9 739.4h0M1249.8 740.7h0M1250.4 754.4h0M1323.0 451.4h0M1323.0 459.4h0M1323.0 487.0h0M1323.0 491.4h0M1323.0 497.0h0M1323.0 499.0h0M1323.0 505.0h0M1323.0 509.0h0M1322.0 507.4h0M1322.9 510.7h0M1322.6 514.5h0M1323.0 517.1h0M1321.7 520.6h0M1323.3 522.5h0M1322.9 524.8h0M1322.4 528.0h0M1322.8 531.2h0M1322.7 534.6h0M1322.2 538.0h0M1322.9 541.1h0M1323.3 544.1h0M1323.3 547.5h0M1322.1 550.7h0M1322.6 555.2h0M1322.0 557.5h0M1321.0 570.0h0M1326.0 572.0h0M1329.0 574.0h0M1319.0 581.0h0M1321.0 586.0h0M1325.0 590.0h0M1328.0 593.0h0M1323.6 600.1h0M1327.3 600.9h0M1323.9 603.4h0M1327.6 603.6h0M1324.0 606.2h0M1327.4 606.2h0M1321.0 604.6h0M1323.8 607.6h0M1327.3 607.7h0M1324.0 609.5h0M1327.1 610.9h0M1323.8 612.6h0M1327.3 613.3h0M1323.7 615.7h0M1327.7 614.4h0M1323.7 618.1h0M1327.2 617.7h0M1323.7 621.3h0M1327.5 621.0h0M1324.1 623.2h0M1327.4 624.1h0M1323.6 627.1h0M1327.4 626.4h0M1323.7 629.9h0M1327.8 629.1h0M1324.1 631.9h0M1327.6 632.7h0M1322.4 632.5h0M1324.0 634.4h0M1327.8 634.7h0M1323.8 636.5h0M1327.6 636.4h0M1323.9 639.8h0M1327.4 640.1h0M1323.9 641.8h0M1327.8 641.7h0M1323.5 645.0h0M1327.7 644.9h0M1323.6 647.0h0M1328.1 646.9h0M1324.1 650.1h0M1327.9 649.9h0M1324.1 651.0h0M1327.9 651.1h0M1324.0 653.4h0M1328.1 653.6h0M1323.7 656.8h0M1327.7 656.6h0M1323.9 658.5h0M1327.6 659.8h0M1324.0 662.4h0M1328.2 662.3h0M1328.4 662.1h0M1324.0 664.2h0M1327.6 664.3h0M1323.5 668.1h0M1327.7 667.5h0M1323.6 670.0h0M1328.1 670.3h0M1323.8 671.8h0M1327.8 672.0h0M1323.5 675.1h0M1328.2 675.6h0M1323.4 678.8h0M1328.1 679.1h0M1323.9 679.7h0M1328.0 679.8h0M1323.5 682.6h0M1328.3 682.7h0M1324.0 686.5h0M1328.0 685.3h0M1324.1 687.5h0M1328.0 688.7h0M1324.0 689.7h0M1328.1 690.4h0M1324.2 692.8h0M1327.6 691.8h0M1324.4 694.8h0M1327.1 694.4h0M1324.0 694.6h0M1328.9 693.3h0M1323.1 600.7h0M1327.0 600.6h0M1324.8 697.3h0M1323.9 698.5h0M1323.9 600.5h0M1326.6 599.6h0M1327.4 595.9h0M1326.2 600.2h0M1324.3 597.8h0M1324.4 600.6h0M1319.7 607.1h0M1320.2 606.8h0M1319.5 609.0h0M1320.2 608.4h0M1319.8 610.3h0M1320.2 610.6h0M1319.9 613.7h0M1320.2 613.5h0M1319.8 616.5h0M1320.5 616.2h0M1322.6 616.1h0M1319.9 619.0h0M1320.2 619.5h0M1319.6 621.3h0M1320.2 621.7h0M1319.8 624.5h0M1320.4 623.7h0M1319.7 625.5h0M1320.3 625.6h0M1319.9 628.0h0M1320.5 628.6h0M1319.8 630.6h0M1320.3 630.7h0M1319.9 634.0h0M1320.1 633.6h0M1319.7 637.3h0M1320.3 636.8h0M1319.6 639.4h0M1320.3 638.9h0M1319.5 642.0h0M1320.4 642.0h0M1319.8 643.7h0M1320.2 644.2h0M1319.6 645.8h0M1320.2 645.9h0M1319.6 649.7h0M1320.3 649.0h0M1319.8 652.2h0M1320.3 651.7h0M1319.8 654.8h0M1320.4 654.3h0M1319.7 656.0h0M1320.2 656.1h0M1319.5 659.5h0M1320.4 660.3h0M1319.7 662.7h0M1320.2 663.3h0M1319.6 665.3h0M1320.2 664.4h0M1319.8 667.8h0M1320.1 667.3h0M1319.9 669.3h0M1320.4 669.5h0M1319.8 671.8h0M1320.4 670.8h0M1319.6 673.1h0M1320.1 673.6h0M1319.8 675.9h0M1320.2 676.2h0M1319.5 678.4h0M1320.3 678.7h0M1319.8 681.9h0M1320.3 682.0h0M1319.7 684.7h0M1320.3 685.6h0M1319.8 606.5h0M1319.5 687.4h0M1315.6 622.6h0M1317.1 622.5h0M1315.9 625.2h0M1317.2 625.2h0M1318.7 625.6h0M1315.9 627.3h0M1317.3 627.9h0M1315.7 631.0h0M1317.4 630.7h0M1315.6 633.4h0M1317.4 632.4h0M1315.7 635.9h0M1317.3 636.0h0M1315.9 638.7h0M1317.5 639.1h0M1315.6 642.5h0M1317.1 641.1h0M1315.7 644.7h0M1317.1 645.3h0M1315.9 647.5h0M1317.2 648.1h0M1315.6 649.9h0M1317.2 649.5h0M1315.8 651.9h0M1317.3 652.2h0M1315.9 653.8h0M1317.2 653.9h0M1315.9 657.0h0M1317.2 656.7h0M1315.5 659.0h0M1317.2 658.9h0M1315.8 661.9h0M1317.5 662.0h0M1315.5 664.1h0M1317.4 664.7h0M1315.6 667.1h0M1317.4 666.4h0M1315.6 669.3h0M1317.3 669.8h0M1315.8 671.6h0M1317.2 672.5h0M1315.7 674.7h0M1317.3 675.5h0M1315.9 677.9h0M1317.5 677.4h0M1315.6 679.2h0M1317.3 679.8h0M1315.7 683.2h0M1317.3 683.0h0M1315.7 685.3h0M1317.3 685.6h0M1315.6 688.9h0M1317.3 688.6h0M1315.5 692.6h0M1317.3 691.8h0M1315.7 694.3h0M1317.4 694.5h0M1315.8 695.5h0M1317.3 695.9h0M1315.6 697.9h0M1317.3 698.5h0M1315.5 701.1h0M1317.1 701.0h0M1315.8 703.8h0M1316.9 703.1h0M1315.6 705.7h0M1316.6 705.4h0M1315.7 708.3h0M1316.3 709.4h0M1315.6 711.3h0M1316.2 710.3h0M1315.7 714.5h0M1315.6 714.6h0M1315.9 622.7h0M1315.4 715.4h0M1321.4 645.9h0M1321.0 658.1h0M1320.9 690.6h0M1320.8 648.8h0M1321.2 673.4h0M1320.8 614.2h0M1321.2 614.5h0M1321.3 604.4h0M1321.3 679.9h0M1321.0 687.0h0M1321.2 666.3h0M1320.8 611.1h0M1320.0 694.0h0M1322.4 708.4h0M1326.4 703.4h0M1327.0 688.0h0M1353.6 566.0h0M1353.6 571.0h0M1352.0 583.0h0M1355.0 587.0h0M1353.0 592.0h0M1353.3 596.0h0M1354.5 596.9h0M1353.7 599.5h0M1354.9 598.2h0M1353.0 602.1h0M1355.0 602.4h0M1352.6 605.8h0M1355.1 605.5h0M1352.5 609.0h0M1355.2 608.9h0M1352.2 609.9h0M1355.2 610.5h0M1352.4 613.7h0M1355.6 613.6h0M1352.4 616.1h0M1356.2 615.6h0M1351.6 619.2h0M1356.4 619.0h0M1352.1 621.5h0M1355.9 622.0h0M1351.9 623.2h0M1355.9 623.0h0M1351.4 623.6h0M1351.5 625.0h0M1356.0 625.5h0M1351.6 627.4h0M1356.2 626.5h0M1351.6 630.5h0M1356.3 630.1h0M1351.6 632.9h0M1356.0 633.0h0M1356.5 633.3h0M1351.6 635.2h0M1356.1 635.7h0M1351.6 637.7h0M1356.3 638.6h0M1350.3 639.4h0M1352.1 640.7h0M1356.1 640.6h0M1351.9 644.1h0M1356.4 644.0h0M1351.6 647.8h0M1356.2 647.6h0M1351.9 649.8h0M1356.1 649.3h0M1352.0 653.0h0M1356.1 652.0h0M1351.9 656.2h0M1355.9 655.6h0M1352.0 657.8h0M1356.2 657.3h0M1351.7 659.5h0M1356.2 659.2h0M1351.5 663.5h0M1356.5 663.0h0M1351.6 666.1h0M1356.3 665.4h0M1351.6 668.1h0M1356.1 667.7h0M1351.7 671.0h0M1356.0 670.9h0M1351.8 673.5h0M1356.5 674.0h0M1352.1 676.0h0M1356.0 675.5h0M1351.8 678.2h0M1356.3 678.8h0M1352.1 681.0h0M1356.3 680.7h0M1351.9 684.0h0M1356.2 684.2h0M1352.0 686.0h0M1356.0 685.9h0M1351.8 688.2h0M1356.1 687.9h0M1351.9 691.3h0M1355.8 690.7h0M1358.3 690.1h0M1352.8 692.9h0M1355.3 693.4h0M1353.9 596.5h0M1352.9 694.1h0M1352.4 702.4h0M1354.4 708.4h0M1371.4 370.4h0M1371.4 402.4h0M1371.4 415.4h0M1371.4 433.4h0M1371.4 445.0h0M1371.4 450.0h0M1371.4 458.0h0M1371.4 462.0h0M1371.4 466.0h0M1371.4 470.0h0M1371.4 479.4h0M1371.4 494.0h0M1371.4 498.0h0M1371.4 507.0h0M1371.4 510.0h0M1371.4 513.0h0M1371.4 517.0h0M1370.8 545.0h0M1370.8 549.0h0M1370.8 553.0h0M1370.8 558.0h0M1370.8 566.0h0M1370.8 571.0h0M1370.8 576.0h0M1370.8 582.0h0M1370.8 586.0h0M1370.8 591.0h0M1370.8 605.0h0M1370.8 612.0h0M1370.8 616.0h0M1370.8 620.0h0M1370.8 624.0h0M1370.8 629.0h0M1370.8 634.0h0M1370.8 638.0h0M1370.8 644.0h0M1370.8 648.0h0M1370.8 651.0h0M1370.8 658.0h0M1370.8 662.0h0M1370.8 666.0h0M1370.8 670.0h0M1370.8 677.0h0M1370.8 681.0h0M1370.8 686.0h0M1370.8 700.0h0M1418.4 171.6h0M1418.4 845.4h0M1484.4 359.4h0M1484.4 369.4h0M1484.4 386.4h0M1484.4 411.4h0M1484.4 437.0h0M1484.4 442.0h0M1484.4 454.0h0M1484.4 457.0h0M1484.4 459.0h0M1484.4 468.4h0M1484.4 481.4h0M1484.4 503.0h0M1484.4 508.0h0M1484.4 513.0h0M1484.4 518.0h0M1484.4 523.0h0M1484.4 528.0h0M1484.4 553.0h0M1484.4 557.0h0M1484.4 561.0h0M1484.4 570.0h0M1484.4 576.0h0M1484.4 591.0h0M1484.4 609.0h0M1484.4 613.0h0M1484.4 617.0h0M1484.4 626.0h0M1484.4 630.0h0M1484.4 633.0h0M1483.7 638.2h0M1483.8 642.0h0M1484.4 644.2h0M1484.3 646.5h0M1484.3 649.9h0M1483.9 653.7h0M1485.1 656.7h0M1484.9 660.3h0M1485.0 663.2h0M1484.2 665.9h0M1484.2 669.5h0M1484.7 672.2h0M1484.1 674.9h0M1484.0 677.1h0M1483.9 680.5h0M1483.7 683.6h0M1485.0 686.0h0M1484.3 688.3h0M1485.1 691.6h0M1484.9 695.4h0M1484.4 704.0h0M1484.4 707.0h0M1514.4 507.4h0M1518.4 548.4h0M1519.0 592.0h0M1519.0 598.0h0M1517.9 605.2h0M1520.1 605.4h0M1517.6 607.7h0M1520.1 607.7h0M1517.6 609.9h0M1520.3 610.0h0M1517.8 612.6h0M1520.3 612.8h0M1517.8 615.2h0M1520.1 615.2h0M1517.8 618.3h0M1520.1 619.2h0M1517.8 622.9h0M1520.5 622.6h0M1517.6 624.3h0M1520.3 623.6h0M1517.7 628.2h0M1520.4 628.2h0M1517.8 630.9h0M1520.1 630.7h0M1517.7 631.7h0M1520.4 632.1h0M1517.6 635.0h0M1520.3 635.7h0M1517.6 637.6h0M1520.4 638.0h0M1517.7 640.1h0M1520.2 640.0h0M1517.6 643.6h0M1520.1 642.4h0M1517.9 645.9h0M1520.2 645.0h0M1517.8 647.5h0M1520.5 648.5h0M1517.7 650.5h0M1520.5 650.4h0M1517.8 651.7h0M1520.5 651.5h0M1517.8 655.6h0M1520.4 656.0h0M1517.9 657.6h0M1520.2 657.8h0M1517.7 661.4h0M1520.1 660.6h0M1517.8 662.7h0M1520.3 663.2h0M1517.6 666.8h0M1520.3 666.5h0M1517.9 670.2h0M1520.1 669.5h0M1517.6 672.1h0M1520.4 672.4h0M1517.8 674.6h0M1520.4 674.1h0M1517.8 677.3h0M1520.3 677.2h0M1517.9 679.7h0M1520.3 679.8h0M1517.9 681.1h0M1520.1 682.2h0M1517.9 684.6h0M1520.2 685.1h0M1517.8 687.8h0M1520.2 687.7h0M1517.9 691.4h0M1520.3 691.0h0M1517.8 694.6h0M1520.1 693.8h0M1517.9 696.6h0M1520.4 696.4h0M1521.7 696.1h0M1517.8 604.7h0M1517.4 697.3h0M1520.2 697.5h0M1519.0 701.0h0M1517.4 712.4h0M1574.4 563.4h0M1574.4 585.4h0M1572.6 627.4h0M1573.6 634.4h0M1572.0 641.0h0M1574.0 645.0h0M1572.0 649.0h0M1570.7 653.2h0M1574.4 652.9h0M1571.0 656.4h0M1573.9 656.4h0M1570.7 658.7h0M1574.2 659.0h0M1571.1 661.9h0M1574.3 661.3h0M1570.7 663.6h0M1574.1 663.3h0M1571.0 666.3h0M1574.2 665.3h0M1570.8 669.3h0M1573.8 668.6h0M1571.1 671.3h0M1573.9 672.1h0M1571.0 675.3h0M1573.9 675.3h0M1571.2 677.1h0" stroke="#000" stroke-width="5.2" stroke-linecap="round" fill="none"/>
<path d="M1574.1 676.0h0M1571.0 680.6h0M1573.6 680.8h0M1571.4 683.6h0M1573.8 682.8h0M1571.4 685.5h0M1573.8 685.9h0M1570.9 688.7h0M1573.6 688.9h0M1571.3 691.8h0M1573.5 691.9h0M1571.5 695.0h0M1573.5 694.6h0M1571.4 696.0h0M1573.4 697.2h0M1574.5 695.1h0M1571.7 698.7h0M1573.7 699.2h0M1571.1 703.0h0M1573.8 701.6h0M1568.8 703.0h0M1571.5 705.5h0M1573.2 705.5h0M1571.7 707.6h0M1573.3 707.4h0M1571.7 711.0h0M1573.5 709.6h0M1571.7 713.1h0M1573.6 713.9h0M1571.7 715.8h0M1573.5 715.9h0M1571.4 718.2h0M1573.6 717.8h0M1571.3 721.4h0M1573.7 722.0h0M1571.4 723.6h0M1573.0 723.9h0M1571.7 727.7h0M1573.4 727.9h0M1571.5 729.2h0M1573.2 729.3h0M1574.4 729.9h0M1571.9 732.5h0M1573.3 731.9h0M1570.2 653.6h0M1574.0 653.4h0M1571.2 734.4h0M1570.4 744.4h0M1653.6 639.4h0M1652.9 650.0h0M1653.3 652.6h0M1652.9 656.1h0M1653.4 659.1h0M1653.7 662.4h0M1654.1 665.8h0M1653.9 673.3h0M1654.5 673.2h0M1653.9 676.3h0M1654.4 675.1h0M1653.9 677.5h0M1654.1 677.8h0M1653.5 680.6h0M1654.3 680.5h0M1653.7 683.2h0M1654.4 683.3h0M1653.7 684.6h0M1654.5 685.7h0M1653.7 688.0h0M1654.2 687.7h0M1653.6 689.3h0M1654.2 689.6h0M1653.8 693.9h0M1654.3 693.8h0M1655.5 692.3h0M1653.7 696.2h0M1654.1 697.1h0M1653.6 698.2h0M1654.4 698.6h0M1650.8 697.6h0M1653.7 702.5h0M1654.1 701.6h0M1653.6 703.4h0M1654.4 704.3h0M1653.6 706.7h0M1654.1 707.0h0M1653.8 709.5h0M1654.4 708.9h0M1653.7 712.3h0M1654.5 711.7h0M1653.8 713.6h0M1654.1 713.5h0M1653.7 716.2h0M1654.3 715.7h0M1653.8 719.0h0M1654.3 719.0h0M1653.6 721.4h0M1654.3 722.3h0M1655.8 723.0h0M1653.7 723.6h0M1654.3 724.3h0M1653.9 725.7h0M1654.2 726.0h0M1653.8 728.7h0M1654.3 729.5h0M1653.7 733.2h0M1654.3 732.2h0M1653.7 673.4h0M1653.2 733.4h0M1651.7 836.3h0M1653.4 836.1h0M1651.9 837.7h0M1653.1 838.7h0M1650.1 839.6h0M1651.6 840.4h0M1653.4 839.3h0M1651.6 841.8h0M1653.2 842.8h0M1651.7 843.4h0M1653.1 843.6h0M1651.8 846.5h0M1653.4 846.5h0M1651.9 849.8h0M1653.1 850.1h0M1651.6 852.0h0M1653.5 853.4h0M1651.8 856.0h0M1653.5 855.2h0M1651.8 858.9h0M1653.4 859.9h0M1651.8 862.2h0M1653.2 861.7h0M1651.5 835.5h0M1651.4 861.5h0M1688.4 451.4h0M1688.4 503.4h0M1688.4 513.0h0M1688.4 519.0h0M1688.3 528.9h0M1687.8 532.3h0M1688.5 536.2h0M1688.6 538.7h0M1687.7 541.8h0M1688.4 543.8h0M1688.1 547.2h0M1688.0 549.6h0M1688.2 552.2h0M1688.0 556.1h0M1687.6 558.6h0M1687.7 561.5h0M1688.7 565.3h0M1688.7 568.3h0M1688.0 587.0h0M1688.0 593.0h0M1688.0 599.0h0M1688.0 607.0h0M1687.5 621.8h0M1688.7 625.7h0M1688.3 628.4h0M1688.6 631.4h0M1688.6 633.8h0M1687.9 637.0h0M1688.5 640.8h0M1687.6 643.7h0M1688.3 646.8h0M1688.5 648.8h0M1687.3 651.0h0M1688.1 653.5h0M1688.0 654.9h0M1688.6 658.7h0M1687.4 662.4h0M1688.4 664.9h0M1688.3 668.2h0M1688.3 670.6h0M1687.7 673.3h0M1688.1 676.8h0M1687.7 679.5h0M1687.9 681.5h0M1687.8 683.8h0M1687.7 688.0h0M1687.8 691.1h0M1688.7 694.4h0M1687.4 697.2h0M1730.8 576.4h0M1730.0 591.0h0M1731.0 596.0h0M1729.0 601.0h0M1730.0 606.0h0M1729.2 612.4h0M1731.0 613.1h0M1729.0 614.7h0M1731.0 614.1h0M1728.9 617.7h0M1730.7 618.1h0M1729.3 620.9h0M1730.8 621.5h0M1729.3 623.1h0M1730.9 623.0h0M1729.1 625.8h0M1731.0 625.7h0M1729.1 628.2h0M1730.8 628.4h0M1729.2 631.5h0M1731.0 631.9h0M1729.2 634.9h0M1731.1 635.7h0M1729.0 637.5h0M1730.9 637.1h0M1729.1 640.9h0M1731.1 641.2h0M1729.0 643.8h0M1731.0 643.9h0M1728.9 645.4h0M1731.0 646.4h0M1729.1 648.0h0M1730.7 648.1h0M1729.3 650.5h0M1730.9 650.0h0M1729.3 653.0h0M1730.9 653.2h0M1729.0 656.0h0M1730.9 655.7h0M1729.1 658.0h0M1731.0 658.5h0M1729.0 660.5h0M1730.7 659.8h0M1729.3 661.5h0M1731.0 662.9h0M1729.0 665.0h0M1730.7 664.6h0M1729.1 668.7h0M1730.9 667.8h0M1728.9 671.0h0M1730.8 671.5h0M1729.3 674.3h0M1730.8 674.3h0M1729.1 677.0h0M1730.8 677.1h0M1729.2 678.1h0M1730.9 678.7h0M1729.3 680.9h0M1730.7 681.0h0M1729.1 683.1h0M1730.8 683.0h0M1729.1 686.5h0M1730.8 685.7h0M1727.9 686.7h0M1729.1 688.5h0M1730.7 688.4h0M1729.1 690.5h0M1730.8 690.2h0M1729.0 693.4h0M1730.8 694.3h0M1729.3 612.8h0M1728.5 694.5h0M1739.4 620.4h0M1741.4 628.4h0M1741.0 640.0h0M1740.0 645.0h0M1742.0 651.0h0M1741.0 657.0h0M1740.0 661.9h0M1742.2 661.2h0M1739.8 664.4h0M1742.5 664.4h0M1739.7 667.1h0M1742.4 666.2h0M1739.5 669.1h0M1742.0 670.0h0M1739.8 672.5h0M1741.9 672.7h0M1739.7 675.5h0M1742.5 675.7h0M1739.7 677.1h0M1742.4 677.5h0M1739.2 678.8h0M1742.5 680.1h0M1739.6 681.5h0M1742.5 681.4h0M1739.5 684.6h0M1742.2 684.6h0M1739.5 688.2h0M1741.9 687.2h0M1739.1 687.7h0M1739.1 689.2h0M1742.5 689.7h0M1739.3 691.5h0M1742.6 692.3h0M1739.0 693.7h0M1742.0 693.6h0M1739.4 696.9h0M1742.5 697.5h0M1739.5 700.2h0M1742.1 699.5h0M1739.4 702.1h0M1742.1 702.4h0M1739.0 703.8h0M1742.5 704.9h0M1739.3 706.1h0M1742.0 706.3h0M1739.0 709.8h0M1742.5 708.6h0M1743.5 707.9h0M1738.8 711.4h0M1742.0 712.1h0M1738.7 713.4h0M1742.4 713.4h0M1738.8 715.8h0M1742.5 715.8h0M1739.2 719.5h0M1742.5 719.9h0M1738.6 722.0h0M1742.5 721.3h0M1739.1 724.2h0M1742.3 723.3h0M1738.9 725.8h0M1742.1 725.7h0M1738.7 729.5h0M1742.5 728.8h0M1739.9 661.4h0M1741.9 661.5h0M1738.4 729.5h0M1738.4 729.5h0M1741.5 729.6h0M1748.6 709.1h0M1749.5 708.5h0M1748.7 711.2h0M1749.6 711.3h0M1748.5 713.0h0M1749.6 713.6h0M1748.6 716.3h0M1749.8 715.5h0M1748.8 718.5h0M1749.9 719.0h0M1748.9 722.4h0M1749.8 722.0h0M1748.7 724.1h0M1750.0 724.7h0M1748.7 726.5h0M1750.2 726.6h0M1748.6 728.3h0M1750.2 727.9h0M1748.4 708.6h0M1748.3 729.4h0M1747.4 697.0h0M1731.0 713.0h0M1732.0 720.0h0M1733.0 727.0h0M1732.0 734.1h0M1750.4 733.8h0M1732.1 737.0h0M1750.2 737.1h0M1753.1 736.9h0M1732.0 739.9h0M1750.4 740.2h0M1731.8 742.2h0M1750.3 742.5h0M1731.5 745.8h0M1750.2 745.0h0M1752.5 744.8h0M1732.1 747.4h0M1750.3 748.0h0M1732.0 749.8h0M1750.1 749.9h0M1729.5 750.8h0M1731.9 753.0h0M1750.5 752.2h0M1731.8 754.5h0M1750.1 755.0h0M1732.1 756.6h0M1750.0 757.1h0M1732.0 759.3h0M1750.4 759.1h0M1731.6 762.1h0M1750.4 762.1h0M1732.0 764.9h0M1750.3 763.7h0M1731.5 767.6h0M1750.1 767.9h0M1731.8 769.6h0M1750.1 769.9h0M1731.7 772.9h0M1750.0 773.3h0M1731.9 775.2h0M1750.1 775.9h0M1731.5 779.0h0M1750.0 778.9h0M1731.7 781.6h0M1750.2 781.7h0M1731.9 783.5h0M1750.0 783.4h0M1732.0 734.6h0M1733.9 734.8h0M1735.7 734.7h0M1739.0 734.7h0M1741.7 734.5h0M1743.9 734.4h0M1746.3 734.4h0M1748.1 734.6h0M1731.4 785.6h0M1733.2 785.2h0M1736.1 785.3h0M1739.2 785.6h0M1741.3 785.4h0M1744.3 785.6h0M1747.5 785.3h0M1750.8 785.7h0M1747.3 730.7h0M1740.1 735.0h0M1746.3 730.7h0M1746.2 729.4h0M1739.0 732.6h0M1737.4 728.7h0M1742.4 732.9h0M1744.0 729.8h0M1732.9 728.9h0M1741.8 728.9h0M1735.4 732.1h0M1738.7 733.4h0M1734.1 732.2h0M1739.5 730.0h0M1748.7 735.1h0M1749.7 730.4h0M1732.1 733.5h0M1748.5 786.9h0M1737.2 789.4h0M1742.0 788.2h0M1745.0 787.8h0M1747.0 788.0h0M1745.5 785.1h0M1740.7 789.9h0M1740.8 788.7h0M1741.6 790.0h0M1733.0 786.5h0M1734.7 789.7h0M1749.9 786.0h0M1737.0 786.3h0M1743.0 788.8h0M1731.4 801.4h0M1735.4 798.0h0M1743.0 793.0h0M1743.4 822.4h0M1743.4 829.4h0M1737.0 835.0h0M1742.4 838.0h0M1736.3 841.1h0M1741.1 840.6h0M1735.2 843.2h0M1741.7 842.2h0M1734.8 844.3h0M1742.7 844.1h0M1733.7 847.7h0M1743.4 847.6h0M1733.5 850.1h0M1743.1 850.0h0M1733.2 852.0h0M1743.2 850.8h0M1733.4 854.8h0M1743.4 855.3h0M1733.2 856.9h0M1743.5 856.4h0M1731.1 855.3h0M1733.2 859.7h0M1743.8 859.1h0M1732.7 862.7h0M1743.8 862.2h0M1732.4 866.2h0M1743.6 865.4h0M1732.3 867.9h0M1743.9 867.7h0M1746.9 867.4h0M1732.4 870.4h0M1743.7 870.9h0M1732.1 873.5h0M1744.1 874.4h0M1731.6 876.4h0M1744.1 877.0h0M1736.5 840.5h0M1738.8 840.6h0M1740.5 840.3h0M1731.6 876.3h0M1734.2 876.6h0M1736.8 876.7h0M1739.3 876.3h0M1741.9 876.2h0M1770.4 414.4h0M1770.4 436.0h0M1770.4 438.0h0M1770.4 466.4h0M1770.4 482.4h0M1770.4 500.0h0M1770.4 505.0h0M1770.4 510.0h0M1770.4 515.0h0M1770.4 521.0h0M1769.9 539.3h0M1770.2 542.4h0M1770.7 546.2h0M1769.7 550.3h0M1770.3 553.6h0M1769.5 556.8h0M1770.3 560.6h0M1769.5 567.6h0M1771.5 567.8h0M1769.7 569.6h0M1771.2 570.8h0M1769.6 573.2h0M1771.5 572.3h0M1769.5 574.7h0M1771.4 574.5h0M1769.8 576.5h0M1771.4 576.2h0M1769.5 579.8h0M1771.2 579.2h0M1769.9 581.4h0M1771.4 582.2h0M1769.7 585.5h0M1771.3 584.7h0M1769.8 587.8h0M1771.5 587.6h0M1769.9 591.6h0M1771.4 592.0h0M1769.7 592.8h0M1771.5 593.3h0M1769.8 595.7h0M1771.4 595.6h0M1769.6 599.1h0M1771.1 598.3h0M1769.7 601.6h0M1771.5 601.1h0M1769.6 603.6h0M1771.3 602.9h0M1766.7 604.4h0M1769.7 606.8h0M1771.5 606.8h0M1769.6 609.3h0M1771.3 609.1h0M1769.7 612.4h0M1771.3 611.8h0M1769.9 616.2h0M1771.2 616.0h0M1769.8 617.8h0M1771.5 618.6h0M1769.9 622.2h0M1771.2 621.1h0M1769.8 623.1h0M1771.4 622.7h0M1769.6 625.9h0M1771.5 626.2h0M1769.7 627.5h0M1771.4 628.3h0M1769.9 630.7h0M1771.4 631.0h0M1769.9 633.7h0M1771.1 633.5h0M1769.6 635.4h0M1771.2 636.5h0M1769.6 638.4h0M1771.2 639.2h0M1769.5 642.8h0M1771.2 642.5h0M1769.9 644.9h0M1771.3 645.5h0M1769.5 648.6h0M1771.3 648.0h0M1769.8 567.5h0M1769.9 648.5h0M1784.4 312.4h0M1787.4 586.4h0M1786.6 600.4h0M1786.6 608.4h0M1785.1 612.8h0M1787.5 613.1h0M1785.1 614.6h0M1787.3 615.8h0M1785.0 618.4h0M1787.1 618.3h0M1785.2 620.4h0M1787.4 620.6h0M1785.2 622.7h0M1787.2 623.1h0M1785.2 625.0h0M1787.1 625.6h0M1785.3 627.2h0M1787.1 626.5h0M1785.1 629.1h0M1787.3 628.5h0M1783.1 627.6h0M1785.3 631.6h0M1787.1 630.9h0M1785.1 634.0h0M1787.2 634.5h0M1785.3 637.4h0M1787.4 637.1h0M1785.3 639.1h0M1787.1 639.5h0M1785.0 643.1h0M1787.4 643.6h0M1785.1 644.3h0M1787.4 644.9h0M1785.3 648.1h0M1787.3 647.4h0M1784.9 650.0h0M1787.5 649.9h0M1785.0 652.4h0M1787.4 652.0h0M1785.1 653.7h0M1787.3 654.8h0M1785.2 656.8h0M1787.3 657.5h0M1785.0 659.8h0M1787.1 659.3h0M1785.0 661.8h0M1787.5 662.4h0M1785.2 665.2h0M1787.4 664.4h0M1784.9 667.3h0M1787.3 668.1h0M1785.2 670.3h0M1787.1 670.1h0M1785.0 672.7h0M1787.5 672.3h0M1785.2 675.5h0M1787.4 675.1h0M1784.9 679.0h0M1787.3 678.2h0M1785.2 681.5h0M1787.3 681.1h0M1785.0 683.7h0M1787.4 683.8h0M1784.9 686.0h0M1787.1 685.9h0M1785.2 688.9h0M1787.1 689.4h0M1785.2 691.4h0M1787.1 691.6h0M1785.2 694.5h0M1787.4 693.6h0M1785.3 695.7h0M1787.3 696.9h0M1784.9 699.3h0M1787.2 699.1h0M1782.3 698.5h0M1785.0 700.8h0M1787.2 700.6h0M1784.6 612.5h0M1785.1 702.3h0M1784.4 751.4h0" stroke="#000" stroke-width="5.2" stroke-linecap="round" fill="none"/>
</g>
<rect x="250" y="120" width="1550" height="770" fill="none" stroke="#000" stroke-width="2.2"/>
<path d="M250.00 890V899.7M459.43 890V899.7M668.86 890V899.7M878.29 890V899.7M1087.71 890V899.7M1297.14 890V899.7M1506.57 890V899.7M1716.00 890V899.7M240.3 890.00H250M240.3 798.25H250M240.3 706.50H250M240.3 614.75H250M240.3 523.00H250M240.3 431.25H250M240.3 339.50H250M240.3 247.75H250M240.3 156.00H250" stroke="#000" stroke-width="2.2" fill="none"/>
<text x="242.50" y="930.20" font-size="29.9" textLength="15.0" lengthAdjust="spacingAndGlyphs">0</text><text x="444.43" y="930.20" font-size="29.9" textLength="30" lengthAdjust="spacingAndGlyphs">50</text><text x="643.36" y="930.20" font-size="29.9" textLength="51" lengthAdjust="spacingAndGlyphs">100</text><text x="852.79" y="930.20" font-size="29.9" textLength="51" lengthAdjust="spacingAndGlyphs">150</text><text x="1062.21" y="930.20" font-size="29.9" textLength="51" lengthAdjust="spacingAndGlyphs">200</text><text x="1271.64" y="930.20" font-size="29.9" textLength="51" lengthAdjust="spacingAndGlyphs">250</text><text x="1481.07" y="930.20" font-size="29.9" textLength="51" lengthAdjust="spacingAndGlyphs">300</text><text x="1690.50" y="930.20" font-size="29.9" textLength="51" lengthAdjust="spacingAndGlyphs">350</text><text x="188.60" y="900.60" font-size="29.9" textLength="42" lengthAdjust="spacingAndGlyphs">0.0</text><text x="188.60" y="808.85" font-size="29.9" textLength="42" lengthAdjust="spacingAndGlyphs">2.5</text><text x="188.60" y="717.10" font-size="29.9" textLength="42" lengthAdjust="spacingAndGlyphs">5.0</text><text x="188.60" y="625.35" font-size="29.9" textLength="42" lengthAdjust="spacingAndGlyphs">7.5</text><text x="168.60" y="533.60" font-size="29.9" textLength="62" lengthAdjust="spacingAndGlyphs">10.0</text><text x="168.60" y="441.85" font-size="29.9" textLength="62" lengthAdjust="spacingAndGlyphs">12.5</text><text x="168.60" y="350.10" font-size="29.9" textLength="62" lengthAdjust="spacingAndGlyphs">15.0</text><text x="168.60" y="258.35" font-size="29.9" textLength="62" lengthAdjust="spacingAndGlyphs">17.5</text><text x="168.60" y="166.60" font-size="29.9" textLength="62" lengthAdjust="spacingAndGlyphs">20.0</text>
<text x="829.5" y="103" font-size="36" textLength="388.5" lengthAdjust="spacingAndGlyphs">ACIS Count Rate: CCD9</text>
<text x="855.5" y="965" font-size="22.4" textLength="338" lengthAdjust="spacingAndGlyphs">Time (Day of Year: Year 2001)</text>
<text transform="translate(155.2 563) rotate(-90)" font-size="22.4" textLength="110.5" lengthAdjust="spacingAndGlyphs">Count/Sec</text>
</svg>
</body></html>
